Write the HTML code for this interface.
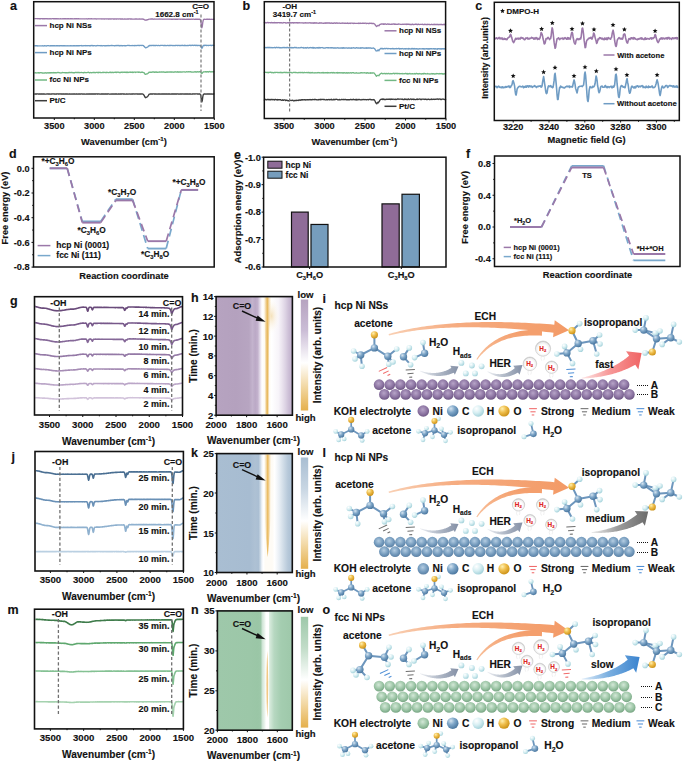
<!DOCTYPE html>
<html><head><meta charset="utf-8"><style>
html,body{margin:0;padding:0;background:#fff;}
svg{display:block;font-family:"Liberation Sans", sans-serif;}
</style></head><body>
<svg width="685" height="761" viewBox="0 0 685 761">
<defs><linearGradient id="hm_h" x1="0" y1="0" x2="1" y2="0"><stop offset="0.0000" stop-color="#b6a3c0"/><stop offset="0.2608" stop-color="#b4a1be"/><stop offset="0.4312" stop-color="#b7a5c1"/><stop offset="0.4771" stop-color="#c3b3cd"/><stop offset="0.5138" stop-color="#bba9c6"/><stop offset="0.5465" stop-color="#c3b2cd"/><stop offset="0.5754" stop-color="#e4dcea"/><stop offset="0.6016" stop-color="#ffffff"/><stop offset="0.6383" stop-color="#fefaf2"/><stop offset="0.6658" stop-color="#f0d49c"/><stop offset="0.6933" stop-color="#fefaf2"/><stop offset="0.7261" stop-color="#ffffff"/><stop offset="0.8178" stop-color="#f7f4f9"/><stop offset="0.8637" stop-color="#ebe4ef"/><stop offset="0.9096" stop-color="#dcd2e3"/><stop offset="0.9554" stop-color="#cbbdd5"/><stop offset="1.0000" stop-color="#c0afcb"/></linearGradient><linearGradient id="hm_hcb" x1="0" y1="0" x2="0" y2="1"><stop offset="0" stop-color="#b6a3c0"/><stop offset="0.28" stop-color="#cbbdd6"/><stop offset="0.57" stop-color="#ffffff"/><stop offset="0.75" stop-color="#f4deb2"/><stop offset="1" stop-color="#e5b04c"/></linearGradient><linearGradient id="hm_k" x1="0" y1="0" x2="1" y2="0"><stop offset="0.0000" stop-color="#a9bed2"/><stop offset="0.4405" stop-color="#a7bcd1"/><stop offset="0.5066" stop-color="#aec1d4"/><stop offset="0.5529" stop-color="#abbfd3"/><stop offset="0.5767" stop-color="#c9d7e4"/><stop offset="0.5992" stop-color="#f2f5f9"/><stop offset="0.6190" stop-color="#ffffff"/><stop offset="0.6415" stop-color="#fefbf5"/><stop offset="0.7341" stop-color="#fefbf5"/><stop offset="0.7659" stop-color="#ffffff"/><stop offset="0.8241" stop-color="#e9eff5"/><stop offset="0.8902" stop-color="#ccd9e5"/><stop offset="0.9431" stop-color="#b6c8d9"/><stop offset="1.0000" stop-color="#a9bed2"/></linearGradient><linearGradient id="hm_kcb" x1="0" y1="0" x2="0" y2="1"><stop offset="0" stop-color="#a9bed2"/><stop offset="0.28" stop-color="#c8d6e3"/><stop offset="0.57" stop-color="#ffffff"/><stop offset="0.75" stop-color="#f4deb2"/><stop offset="1" stop-color="#e5b04c"/></linearGradient><linearGradient id="hm_n" x1="0" y1="0" x2="1" y2="0"><stop offset="0.0000" stop-color="#9ec8aa"/><stop offset="0.4352" stop-color="#9cc7a8"/><stop offset="0.5421" stop-color="#9ac6a6"/><stop offset="0.5794" stop-color="#9dc8a9"/><stop offset="0.5995" stop-color="#cfe5d6"/><stop offset="0.6355" stop-color="#eef6f0"/><stop offset="0.6489" stop-color="#ffffff"/><stop offset="0.6822" stop-color="#ffffff"/><stop offset="0.6969" stop-color="#d8ebdd"/><stop offset="0.7557" stop-color="#b7d8c1"/><stop offset="0.8491" stop-color="#a4cdb0"/><stop offset="1.0000" stop-color="#9ec8aa"/></linearGradient><linearGradient id="hm_ncb" x1="0" y1="0" x2="0" y2="1"><stop offset="0" stop-color="#9ec8aa"/><stop offset="0.28" stop-color="#c1dcc8"/><stop offset="0.57" stop-color="#ffffff"/><stop offset="0.75" stop-color="#f4deb2"/><stop offset="1" stop-color="#e5b04c"/></linearGradient>
<radialGradient id="gC" cx="0.35" cy="0.3" r="0.75"><stop offset="0" stop-color="#d5e4f0"/><stop offset="0.45" stop-color="#7ea6c8"/><stop offset="1" stop-color="#46739c"/></radialGradient>
<radialGradient id="gH" cx="0.35" cy="0.3" r="0.75"><stop offset="0" stop-color="#ffffff"/><stop offset="0.5" stop-color="#d6eef2"/><stop offset="1" stop-color="#9fcfd8"/></radialGradient>
<radialGradient id="gO" cx="0.35" cy="0.3" r="0.75"><stop offset="0" stop-color="#fff0b0"/><stop offset="0.45" stop-color="#efbe4c"/><stop offset="1" stop-color="#c98e12"/></radialGradient>
<radialGradient id="gNiP" cx="0.45" cy="0.38" r="0.68"><stop offset="0" stop-color="#b7a4c8"/><stop offset="0.6" stop-color="#8a72a0"/><stop offset="1" stop-color="#654f7b"/></radialGradient>
<radialGradient id="gNiB" cx="0.45" cy="0.38" r="0.68"><stop offset="0" stop-color="#b4cde2"/><stop offset="0.6" stop-color="#7198bb"/><stop offset="1" stop-color="#557a9e"/></radialGradient>
<radialGradient id="gNiG" cx="0.45" cy="0.38" r="0.68"><stop offset="0" stop-color="#d3e8d7"/><stop offset="0.6" stop-color="#98c2a2"/><stop offset="1" stop-color="#6e9d7a"/></radialGradient>
<radialGradient id="gBub" cx="0.5" cy="0.55" r="0.5"><stop offset="0.6" stop-color="#ffffff" stop-opacity="0.95"/><stop offset="0.9" stop-color="#eeeeee"/><stop offset="1" stop-color="#cfcfcf"/></radialGradient>
<linearGradient id="gECH" x1="0" y1="0" x2="1" y2="0"><stop offset="0" stop-color="#f9d0b4"/><stop offset="0.35" stop-color="#f6ad82"/><stop offset="1" stop-color="#f39a66"/></linearGradient>
<linearGradient id="gECH2" x1="0" y1="1" x2="0.4" y2="0"><stop offset="0" stop-color="#f7b88e" stop-opacity="0.85"/><stop offset="1" stop-color="#f49f6d"/></linearGradient>
<linearGradient id="gGray" x1="0" y1="0" x2="1" y2="0"><stop offset="0" stop-color="#eef0f4"/><stop offset="0.45" stop-color="#b5bdca"/><stop offset="1" stop-color="#8490a6"/></linearGradient>
<linearGradient id="gFast" x1="0" y1="0" x2="1" y2="0"><stop offset="0" stop-color="#fde6e6"/><stop offset="0.45" stop-color="#f79a9a"/><stop offset="1" stop-color="#f06464"/></linearGradient>
<linearGradient id="gMed" x1="0" y1="0" x2="1" y2="0"><stop offset="0" stop-color="#ececec"/><stop offset="0.45" stop-color="#9d9d9d"/><stop offset="1" stop-color="#6b6b6b"/></linearGradient>
<linearGradient id="gSlow" x1="0" y1="0" x2="1" y2="0"><stop offset="0" stop-color="#e2eef9"/><stop offset="0.45" stop-color="#7cb0e0"/><stop offset="1" stop-color="#3b84cf"/></linearGradient>
</defs>
<rect x="0" y="0" width="685" height="761" fill="#fff"/>
<text x="10.00" y="10.20" font-size="12.5" text-anchor="start" font-weight="bold" fill="#111" stroke="#111" stroke-width="0.14">a</text>
<polyline points="34.30,18.59 34.78,18.67 35.26,18.63 35.74,18.69 36.22,18.69 36.70,18.56 37.18,18.55 37.66,18.75 38.14,18.61 38.62,18.61 39.10,18.79 39.58,18.67 40.06,18.76 40.54,18.67 41.02,18.71 41.50,18.60 41.98,18.72 42.46,18.77 42.94,18.69 43.42,18.75 43.90,18.73 44.38,18.59 44.86,18.76 45.34,18.72 45.82,18.65 46.30,18.59 46.78,18.79 47.26,18.70 47.74,18.76 48.22,18.80 48.70,18.76 49.18,18.81 49.66,18.69 50.14,18.79 50.62,18.70 51.10,18.82 51.58,18.81 52.06,18.62 52.54,18.64 53.02,18.66 53.50,18.84 53.98,18.71 54.46,18.76 54.94,18.68 55.42,18.74 55.90,18.71 56.38,18.70 56.86,18.76 57.34,18.76 57.82,18.84 58.30,18.79 58.78,18.85 59.26,18.83 59.74,18.87 60.22,18.79 60.70,18.67 61.18,18.84 61.66,18.87 62.14,18.86 62.62,18.78 63.10,18.81 63.58,18.70 64.06,18.85 64.54,18.79 65.02,18.72 65.50,18.67 65.98,18.86 66.46,18.89 66.94,18.68 67.42,18.85 67.90,18.76 68.38,18.70 68.86,18.74 69.34,18.85 69.82,18.88 70.30,18.68 70.78,18.82 71.26,18.68 71.74,18.85 72.22,18.76 72.70,18.89 73.18,18.92 73.66,18.80 74.14,18.92 74.62,18.76 75.10,18.71 75.58,18.83 76.06,18.70 76.54,18.74 77.02,18.79 77.50,18.84 77.98,18.74 78.46,18.71 78.94,18.91 79.42,18.78 79.90,18.94 80.38,18.92 80.86,18.80 81.34,18.82 81.82,18.84 82.30,18.87 82.78,18.86 83.26,18.85 83.74,18.87 84.22,18.95 84.70,18.85 85.18,18.83 85.66,18.90 86.14,18.79 86.62,18.80 87.10,18.97 87.58,18.86 88.06,18.87 88.54,18.74 89.02,18.84 89.50,18.88 89.98,18.75 90.46,18.89 90.94,18.90 91.42,18.76 91.90,18.90 92.38,18.86 92.86,18.92 93.34,18.84 93.82,18.93 94.30,18.94 94.78,18.77 95.26,18.78 95.74,18.93 96.22,19.00 96.70,18.83 97.18,18.88 97.66,18.91 98.14,18.85 98.62,18.86 99.10,18.85 99.58,18.87 100.06,18.92 100.54,18.86 101.02,18.88 101.50,18.97 101.98,18.80 102.46,18.93 102.94,18.97 103.42,18.87 103.90,18.85 104.38,18.99 104.86,18.86 105.34,18.85 105.82,18.91 106.30,18.97 106.78,18.83 107.26,18.89 107.74,18.89 108.22,19.01 108.70,18.92 109.18,19.02 109.66,18.86 110.14,18.90 110.62,18.98 111.10,19.04 111.58,18.93 112.06,18.88 112.54,18.86 113.02,18.96 113.50,18.88 113.98,19.03 114.46,19.04 114.94,18.88 115.42,18.91 115.90,19.03 116.38,19.00 116.86,19.04 117.34,18.93 117.82,18.88 118.30,18.92 118.78,19.04 119.26,18.92 119.74,18.94 120.22,18.96 120.70,18.96 121.18,18.96 121.66,19.08 122.14,18.90 122.62,18.87 123.10,19.09 123.58,19.08 124.06,19.11 124.54,18.98 125.02,19.10 125.50,19.10 125.98,18.93 126.46,19.06 126.94,19.08 127.42,19.04 127.90,19.01 128.38,18.96 128.86,18.97 129.34,18.95 129.82,18.91 130.30,19.04 130.78,18.97 131.26,19.09 131.74,18.91 132.22,19.12 132.70,19.07 133.18,19.13 133.66,19.12 134.14,19.13 134.62,19.05 135.10,18.92 135.58,19.09 136.06,18.96 136.54,18.99 137.02,19.08 137.50,19.05 137.98,19.02 138.46,19.15 138.94,19.07 139.42,19.01 139.90,18.99 140.38,19.14 140.86,19.05 141.34,19.12 141.82,19.02 142.30,18.99 142.78,19.10 143.26,19.23 143.74,19.21 144.22,19.59 144.70,19.91 145.18,20.11 145.66,20.20 146.14,19.94 146.62,20.00 147.10,19.99 147.58,19.69 148.06,19.55 148.54,19.32 149.02,19.21 149.50,19.11 149.98,19.09 150.46,19.16 150.94,18.97 151.42,18.99 151.90,19.01 152.38,19.01 152.86,19.00 153.34,19.22 153.82,19.19 154.30,19.01 154.78,19.11 155.26,19.06 155.74,19.07 156.22,19.08 156.70,19.15 157.18,19.14 157.66,19.08 158.14,19.05 158.62,19.08 159.10,19.03 159.58,19.14 160.06,19.18 160.54,19.10 161.02,19.03 161.50,19.05 161.98,19.10 162.46,19.16 162.94,19.21 163.42,19.11 163.90,19.21 164.38,19.17 164.86,19.13 165.34,19.12 165.82,19.15 166.30,19.20 166.78,19.13 167.26,19.20 167.74,19.15 168.22,19.10 168.70,19.17 169.18,19.21 169.66,19.06 170.14,19.15 170.62,19.15 171.10,19.26 171.58,19.27 172.06,19.14 172.54,19.27 173.02,19.25 173.50,19.12 173.98,19.17 174.46,19.09 174.94,19.26 175.42,19.22 175.90,19.28 176.38,19.26 176.86,19.23 177.34,19.25 177.82,19.21 178.30,19.10 178.78,19.22 179.26,19.08 179.74,19.11 180.22,19.27 180.70,19.09 181.18,19.11 181.66,19.11 182.14,19.30 182.62,19.13 183.10,19.10 183.58,19.30 184.06,19.13 184.54,19.30 185.02,19.26 185.50,19.30 185.98,19.33 186.46,19.24 186.94,19.30 187.42,19.12 187.90,19.30 188.38,19.24 188.86,19.29 189.34,19.14 189.82,19.30 190.30,19.34 190.78,19.14 191.26,19.20 191.74,19.26 192.22,19.33 192.70,19.19 193.18,19.17 193.66,19.19 194.14,19.28 194.62,19.32 195.10,19.23 195.58,19.23 196.06,19.24 196.54,19.23 197.02,19.25 197.50,19.17 197.98,19.27 198.46,19.38 198.94,19.25 199.42,19.34 199.90,19.24 200.38,19.75 200.86,21.44 201.34,24.99 201.82,27.72 202.30,26.19 202.78,22.45 203.26,20.16 203.74,19.31 204.22,19.20 204.70,19.35 205.18,19.40 205.66,19.30 206.14,19.29 206.62,19.35 207.10,19.23 207.58,19.25 208.06,19.23 208.54,19.33 209.02,19.27 209.50,19.25 209.98,19.36 210.46,19.42 210.94,19.27 211.42,19.37 211.90,19.30 212.38,19.41 212.86,19.34 213.34,19.27 213.82,19.26 214.30,19.22" fill="none" stroke="#9b78a9" stroke-width="1.35" stroke-linejoin="round"/>
<polyline points="34.30,45.82 34.78,45.78 35.26,45.70 35.74,45.77 36.22,45.75 36.70,45.93 37.18,45.68 37.66,46.02 38.14,45.81 38.62,45.86 39.10,45.81 39.58,45.95 40.06,45.94 40.54,45.84 41.02,45.81 41.50,45.90 41.98,45.95 42.46,45.77 42.94,45.90 43.42,45.99 43.90,45.79 44.38,45.70 44.86,45.70 45.34,45.89 45.82,45.87 46.30,45.98 46.78,45.94 47.26,45.69 47.74,45.67 48.22,45.70 48.70,45.67 49.18,45.87 49.66,45.94 50.14,45.95 50.62,45.69 51.10,45.93 51.58,45.71 52.06,45.75 52.54,45.88 53.02,45.62 53.50,45.62 53.98,45.91 54.46,45.70 54.94,45.72 55.42,45.81 55.90,45.85 56.38,45.58 56.86,45.71 57.34,45.75 57.82,45.77 58.30,45.65 58.78,45.80 59.26,45.95 59.74,45.72 60.22,45.78 60.70,45.61 61.18,45.67 61.66,45.83 62.14,45.61 62.62,45.91 63.10,45.92 63.58,45.60 64.06,45.93 64.54,45.70 65.02,45.86 65.50,45.85 65.98,45.67 66.46,45.82 66.94,45.81 67.42,45.87 67.90,45.65 68.38,45.85 68.86,45.93 69.34,45.81 69.82,45.76 70.30,45.59 70.78,45.74 71.26,45.68 71.74,45.82 72.22,45.81 72.70,45.76 73.18,45.61 73.66,45.79 74.14,45.78 74.62,45.60 75.10,45.88 75.58,45.79 76.06,45.57 76.54,45.90 77.02,45.58 77.50,45.65 77.98,45.81 78.46,45.76 78.94,45.74 79.42,45.78 79.90,45.70 80.38,45.64 80.86,45.58 81.34,45.54 81.82,45.80 82.30,45.81 82.78,45.73 83.26,45.80 83.74,45.65 84.22,45.61 84.70,45.66 85.18,45.85 85.66,45.52 86.14,45.70 86.62,45.60 87.10,45.81 87.58,45.64 88.06,45.63 88.54,45.66 89.02,45.71 89.50,45.80 89.98,45.63 90.46,45.83 90.94,45.53 91.42,45.60 91.90,45.53 92.38,45.53 92.86,45.80 93.34,45.77 93.82,45.56 94.30,45.56 94.78,45.65 95.26,45.77 95.74,45.80 96.22,45.77 96.70,45.71 97.18,45.53 97.66,45.63 98.14,45.55 98.62,45.68 99.10,45.70 99.58,45.55 100.06,45.57 100.54,45.78 101.02,45.48 101.50,45.78 101.98,45.82 102.46,45.84 102.94,45.61 103.42,45.68 103.90,45.69 104.38,45.71 104.86,45.84 105.34,45.73 105.82,45.57 106.30,45.79 106.78,45.64 107.26,45.69 107.74,45.74 108.22,45.45 108.70,45.75 109.18,45.71 109.66,45.64 110.14,45.65 110.62,45.62 111.10,45.52 111.58,45.65 112.06,45.45 112.54,45.63 113.02,45.69 113.50,45.61 113.98,45.66 114.46,45.81 114.94,45.79 115.42,45.48 115.90,45.74 116.38,45.67 116.86,45.44 117.34,45.57 117.82,45.51 118.30,45.45 118.78,45.63 119.26,45.79 119.74,45.55 120.22,45.76 120.70,45.69 121.18,45.47 121.66,45.75 122.14,45.65 122.62,45.78 123.10,45.69 123.58,45.70 124.06,45.54 124.54,45.73 125.02,45.78 125.50,45.75 125.98,45.58 126.46,45.70 126.94,45.59 127.42,45.44 127.90,45.41 128.38,45.43 128.86,45.47 129.34,45.46 129.82,45.59 130.30,45.67 130.78,45.60 131.26,45.56 131.74,45.65 132.22,45.51 132.70,45.57 133.18,45.69 133.66,45.54 134.14,45.45 134.62,45.74 135.10,45.67 135.58,45.52 136.06,45.52 136.54,45.59 137.02,45.61 137.50,45.46 137.98,45.37 138.46,45.45 138.94,45.68 139.42,45.42 139.90,45.55 140.38,45.44 140.86,45.45 141.34,45.43 141.82,45.53 142.30,45.44 142.78,45.43 143.26,45.60 143.74,45.92 144.22,46.55 144.70,47.00 145.18,47.49 145.66,47.83 146.14,47.68 146.62,47.60 147.10,47.19 147.58,47.10 148.06,46.66 148.54,46.00 149.02,46.00 149.50,45.51 149.98,45.40 150.46,45.53 150.94,45.40 151.42,45.59 151.90,45.47 152.38,45.38 152.86,45.35 153.34,45.62 153.82,45.44 154.30,45.65 154.78,45.51 155.26,45.70 155.74,45.45 156.22,45.43 156.70,45.43 157.18,45.65 157.66,45.57 158.14,45.46 158.62,45.36 159.10,45.59 159.58,45.70 160.06,45.55 160.54,45.32 161.02,45.33 161.50,45.35 161.98,45.38 162.46,45.32 162.94,45.33 163.42,45.57 163.90,45.67 164.38,45.39 164.86,45.69 165.34,45.49 165.82,45.62 166.30,45.67 166.78,45.67 167.26,45.31 167.74,45.42 168.22,45.54 168.70,45.67 169.18,45.33 169.66,45.41 170.14,45.63 170.62,45.34 171.10,45.44 171.58,45.42 172.06,45.56 172.54,45.66 173.02,45.35 173.50,45.58 173.98,45.57 174.46,45.61 174.94,45.50 175.42,45.65 175.90,45.42 176.38,45.44 176.86,45.37 177.34,45.58 177.82,45.46 178.30,45.38 178.78,45.34 179.26,45.56 179.74,45.51 180.22,45.55 180.70,45.42 181.18,45.46 181.66,45.32 182.14,45.54 182.62,45.27 183.10,45.44 183.58,45.56 184.06,45.53 184.54,45.29 185.02,45.35 185.50,45.59 185.98,45.51 186.46,45.60 186.94,45.60 187.42,45.43 187.90,45.60 188.38,45.54 188.86,45.38 189.34,45.39 189.82,45.27 190.30,45.40 190.78,45.62 191.26,45.28 191.74,45.46 192.22,45.28 192.70,45.27 193.18,45.49 193.66,45.33 194.14,45.25 194.62,45.29 195.10,45.49 195.58,45.46 196.06,45.23 196.54,45.32 197.02,45.61 197.50,45.31 197.98,45.45 198.46,45.39 198.94,45.53 199.42,45.46 199.90,45.55 200.38,45.58 200.86,46.03 201.34,47.28 201.82,48.22 202.30,47.98 202.78,46.36 203.26,45.49 203.74,45.63 204.22,45.29 204.70,45.56 205.18,45.24 205.66,45.39 206.14,45.29 206.62,45.53 207.10,45.44 207.58,45.45 208.06,45.50 208.54,45.54 209.02,45.33 209.50,45.43 209.98,45.37 210.46,45.23 210.94,45.52 211.42,45.42 211.90,45.51 212.38,45.27 212.86,45.40 213.34,45.37 213.82,45.47 214.30,45.21" fill="none" stroke="#6f9cc4" stroke-width="1.35" stroke-linejoin="round"/>
<polyline points="34.30,72.80 34.78,72.86 35.26,72.65 35.74,72.89 36.22,72.98 36.70,72.82 37.18,72.93 37.66,72.91 38.14,72.71 38.62,72.77 39.10,73.09 39.58,72.76 40.06,72.80 40.54,72.63 41.02,72.69 41.50,72.66 41.98,73.04 42.46,72.94 42.94,73.01 43.42,73.06 43.90,72.87 44.38,73.03 44.86,72.83 45.34,72.77 45.82,73.03 46.30,73.00 46.78,73.02 47.26,72.79 47.74,72.93 48.22,72.74 48.70,73.03 49.18,72.99 49.66,72.68 50.14,72.99 50.62,72.62 51.10,72.57 51.58,72.88 52.06,72.66 52.54,72.77 53.02,72.83 53.50,72.53 53.98,72.87 54.46,72.64 54.94,72.71 55.42,72.67 55.90,72.86 56.38,72.86 56.86,72.63 57.34,72.53 57.82,72.63 58.30,72.68 58.78,72.51 59.26,72.55 59.74,72.85 60.22,72.81 60.70,72.95 61.18,72.95 61.66,72.89 62.14,72.64 62.62,72.53 63.10,72.60 63.58,72.67 64.06,72.70 64.54,72.71 65.02,72.61 65.50,72.86 65.98,72.57 66.46,72.66 66.94,72.86 67.42,72.82 67.90,72.56 68.38,72.53 68.86,72.81 69.34,72.41 69.82,72.47 70.30,72.67 70.78,72.66 71.26,72.48 71.74,72.42 72.22,72.49 72.70,72.77 73.18,72.61 73.66,72.87 74.14,72.77 74.62,72.86 75.10,72.39 75.58,72.46 76.06,72.37 76.54,72.58 77.02,72.53 77.50,72.38 77.98,72.63 78.46,72.40 78.94,72.50 79.42,72.47 79.90,72.74 80.38,72.55 80.86,72.46 81.34,72.35 81.82,72.54 82.30,72.64 82.78,72.66 83.26,72.78 83.74,72.72 84.22,72.44 84.70,72.38 85.18,72.69 85.66,72.70 86.14,72.56 86.62,72.71 87.10,72.57 87.58,72.43 88.06,72.37 88.54,72.29 89.02,72.60 89.50,72.73 89.98,72.73 90.46,72.51 90.94,72.60 91.42,72.73 91.90,72.67 92.38,72.56 92.86,72.47 93.34,72.52 93.82,72.34 94.30,72.34 94.78,72.59 95.26,72.74 95.74,72.51 96.22,72.44 96.70,72.41 97.18,72.46 97.66,72.63 98.14,72.45 98.62,72.70 99.10,72.30 99.58,72.37 100.06,72.47 100.54,72.42 101.02,72.63 101.50,72.62 101.98,72.67 102.46,72.51 102.94,72.21 103.42,72.48 103.90,72.46 104.38,72.43 104.86,72.32 105.34,72.54 105.82,72.63 106.30,72.23 106.78,72.51 107.26,72.35 107.74,72.42 108.22,72.61 108.70,72.64 109.18,72.48 109.66,72.25 110.14,72.61 110.62,72.24 111.10,72.34 111.58,72.56 112.06,72.30 112.54,72.27 113.02,72.61 113.50,72.60 113.98,72.29 114.46,72.32 114.94,72.26 115.42,72.18 115.90,72.24 116.38,72.60 116.86,72.15 117.34,72.22 117.82,72.20 118.30,72.14 118.78,72.36 119.26,72.47 119.74,72.51 120.22,72.40 120.70,72.49 121.18,72.08 121.66,72.22 122.14,72.56 122.62,72.11 123.10,72.20 123.58,72.31 124.06,72.20 124.54,72.33 125.02,72.08 125.50,72.17 125.98,72.53 126.46,72.12 126.94,72.50 127.42,72.13 127.90,72.54 128.38,72.37 128.86,72.36 129.34,72.10 129.82,72.06 130.30,72.40 130.78,72.11 131.26,72.11 131.74,72.43 132.22,72.45 132.70,72.03 133.18,72.49 133.66,72.27 134.14,72.19 134.62,72.05 135.10,72.19 135.58,72.49 136.06,72.13 136.54,72.05 137.02,72.06 137.50,72.04 137.98,72.15 138.46,72.43 138.94,72.01 139.42,72.06 139.90,72.43 140.38,72.46 140.86,72.45 141.34,72.08 141.82,72.13 142.30,72.44 142.78,72.25 143.26,72.47 143.74,72.55 144.22,72.86 144.70,73.58 145.18,74.24 145.66,74.41 146.14,74.18 146.62,73.95 147.10,73.84 147.58,73.58 148.06,73.23 148.54,72.92 149.02,72.25 149.50,72.28 149.98,72.39 150.46,72.33 150.94,71.99 151.42,72.37 151.90,72.31 152.38,71.97 152.86,72.02 153.34,71.98 153.82,71.90 154.30,72.36 154.78,72.08 155.26,72.31 155.74,71.92 156.22,71.87 156.70,72.29 157.18,72.25 157.66,72.35 158.14,72.19 158.62,72.11 159.10,72.23 159.58,71.89 160.06,72.11 160.54,72.06 161.02,71.91 161.50,72.13 161.98,71.99 162.46,72.08 162.94,72.01 163.42,71.98 163.90,71.99 164.38,72.11 164.86,72.30 165.34,72.27 165.82,72.23 166.30,72.22 166.78,71.94 167.26,72.28 167.74,71.93 168.22,71.85 168.70,72.04 169.18,72.15 169.66,71.95 170.14,72.10 170.62,71.91 171.10,72.25 171.58,71.99 172.06,72.00 172.54,72.03 173.02,72.20 173.50,72.25 173.98,72.02 174.46,71.97 174.94,72.05 175.42,71.78 175.90,71.95 176.38,72.16 176.86,72.12 177.34,71.76 177.82,72.16 178.30,71.92 178.78,72.21 179.26,71.90 179.74,71.82 180.22,71.99 180.70,72.15 181.18,71.92 181.66,72.14 182.14,72.06 182.62,71.88 183.10,71.85 183.58,71.94 184.06,71.89 184.54,71.87 185.02,72.01 185.50,72.12 185.98,71.97 186.46,71.75 186.94,71.78 187.42,71.85 187.90,71.97 188.38,71.73 188.86,71.70 189.34,71.82 189.82,71.79 190.30,71.66 190.78,71.92 191.26,72.10 191.74,71.91 192.22,72.01 192.70,72.05 193.18,72.05 193.66,72.09 194.14,71.85 194.62,71.96 195.10,71.68 195.58,72.06 196.06,71.80 196.54,71.85 197.02,72.05 197.50,71.75 197.98,71.70 198.46,72.01 198.94,71.90 199.42,71.64 199.90,71.61 200.38,71.85 200.86,72.03 201.34,73.20 201.82,73.46 202.30,73.18 202.78,72.43 203.26,71.99 203.74,71.80 204.22,71.88 204.70,71.89 205.18,71.78 205.66,71.60 206.14,72.04 206.62,71.89 207.10,71.59 207.58,71.76 208.06,71.92 208.54,72.03 209.02,71.57 209.50,71.53 209.98,71.77 210.46,71.74 210.94,71.97 211.42,71.93 211.90,71.68 212.38,71.72 212.86,71.80 213.34,71.95 213.82,71.60 214.30,71.70" fill="none" stroke="#72b884" stroke-width="1.35" stroke-linejoin="round"/>
<polyline points="34.30,93.92 34.78,94.03 35.26,93.91 35.74,94.09 36.22,94.00 36.70,94.01 37.18,93.92 37.66,93.95 38.14,93.99 38.62,94.07 39.10,94.01 39.58,93.96 40.06,94.10 40.54,94.03 41.02,94.01 41.50,93.94 41.98,93.96 42.46,94.08 42.94,93.93 43.42,94.01 43.90,94.02 44.38,93.97 44.86,94.05 45.34,94.08 45.82,94.07 46.30,94.05 46.78,93.94 47.26,93.91 47.74,93.99 48.22,93.96 48.70,93.94 49.18,94.07 49.66,93.94 50.14,94.06 50.62,94.09 51.10,93.92 51.58,94.08 52.06,93.98 52.54,93.94 53.02,93.94 53.50,93.91 53.98,94.00 54.46,93.98 54.94,94.07 55.42,94.07 55.90,93.91 56.38,93.98 56.86,93.98 57.34,93.94 57.82,93.95 58.30,93.95 58.78,94.04 59.26,93.97 59.74,93.92 60.22,93.94 60.70,93.99 61.18,94.01 61.66,93.95 62.14,94.04 62.62,93.94 63.10,94.03 63.58,94.02 64.06,93.94 64.54,94.05 65.02,93.98 65.50,94.01 65.98,94.02 66.46,94.03 66.94,93.99 67.42,93.91 67.90,94.06 68.38,94.07 68.86,94.00 69.34,94.02 69.82,93.95 70.30,94.08 70.78,94.04 71.26,93.94 71.74,94.06 72.22,94.10 72.70,93.97 73.18,94.10 73.66,94.00 74.14,93.94 74.62,94.04 75.10,93.97 75.58,94.05 76.06,94.02 76.54,93.92 77.02,94.01 77.50,94.07 77.98,94.00 78.46,94.01 78.94,94.07 79.42,93.99 79.90,94.00 80.38,94.02 80.86,94.06 81.34,93.94 81.82,93.92 82.30,94.05 82.78,94.01 83.26,93.96 83.74,94.08 84.22,94.08 84.70,94.01 85.18,94.10 85.66,94.07 86.14,94.05 86.62,93.96 87.10,93.90 87.58,94.04 88.06,94.05 88.54,93.97 89.02,94.00 89.50,94.01 89.98,93.95 90.46,94.04 90.94,94.01 91.42,93.98 91.90,93.92 92.38,94.01 92.86,93.96 93.34,94.04 93.82,93.93 94.30,93.98 94.78,93.94 95.26,93.98 95.74,94.02 96.22,93.92 96.70,93.91 97.18,94.00 97.66,93.94 98.14,94.00 98.62,93.93 99.10,93.92 99.58,94.01 100.06,94.08 100.54,94.07 101.02,94.00 101.50,93.98 101.98,93.91 102.46,93.96 102.94,93.96 103.42,94.09 103.90,93.92 104.38,94.09 104.86,94.00 105.34,93.99 105.82,93.95 106.30,94.09 106.78,93.94 107.26,94.01 107.74,94.00 108.22,93.94 108.70,93.94 109.18,94.10 109.66,94.06 110.14,94.05 110.62,94.08 111.10,93.92 111.58,94.04 112.06,94.05 112.54,93.95 113.02,93.99 113.50,94.09 113.98,93.97 114.46,94.05 114.94,93.93 115.42,94.03 115.90,93.95 116.38,94.00 116.86,93.97 117.34,94.07 117.82,94.05 118.30,94.00 118.78,94.04 119.26,93.99 119.74,94.06 120.22,93.95 120.70,94.01 121.18,94.02 121.66,93.98 122.14,93.91 122.62,93.93 123.10,94.03 123.58,93.94 124.06,94.05 124.54,94.00 125.02,94.09 125.50,94.07 125.98,94.05 126.46,93.97 126.94,93.91 127.42,94.01 127.90,94.05 128.38,94.08 128.86,93.94 129.34,93.93 129.82,94.10 130.30,94.05 130.78,94.00 131.26,94.05 131.74,93.93 132.22,94.01 132.70,94.03 133.18,94.02 133.66,93.93 134.14,93.93 134.62,94.02 135.10,94.08 135.58,93.93 136.06,93.90 136.54,93.92 137.02,94.06 137.50,93.98 137.98,93.99 138.46,94.10 138.94,94.02 139.42,93.95 139.90,94.04 140.38,93.90 140.86,93.96 141.34,94.04 141.82,93.94 142.30,93.93 142.78,94.10 143.26,94.28 143.74,94.88 144.22,95.51 144.70,96.64 145.18,97.36 145.66,97.72 146.14,97.44 146.62,97.17 147.10,96.86 147.58,96.47 148.06,95.83 148.54,95.09 149.02,94.40 149.50,94.08 149.98,94.01 150.46,93.92 150.94,93.96 151.42,94.01 151.90,94.01 152.38,94.02 152.86,93.96 153.34,93.90 153.82,93.91 154.30,93.97 154.78,93.94 155.26,94.01 155.74,93.95 156.22,94.05 156.70,94.02 157.18,94.03 157.66,94.05 158.14,94.00 158.62,93.99 159.10,93.96 159.58,93.91 160.06,94.06 160.54,94.00 161.02,93.92 161.50,94.09 161.98,94.02 162.46,94.02 162.94,93.99 163.42,93.93 163.90,94.10 164.38,93.93 164.86,93.97 165.34,94.10 165.82,93.92 166.30,94.00 166.78,94.00 167.26,93.95 167.74,94.08 168.22,93.98 168.70,93.90 169.18,93.99 169.66,93.90 170.14,94.04 170.62,94.07 171.10,94.08 171.58,93.91 172.06,94.04 172.54,93.96 173.02,93.99 173.50,93.96 173.98,93.96 174.46,93.93 174.94,94.03 175.42,93.92 175.90,94.09 176.38,93.91 176.86,94.09 177.34,93.94 177.82,93.92 178.30,94.05 178.78,94.01 179.26,94.05 179.74,94.00 180.22,94.03 180.70,93.92 181.18,94.03 181.66,94.00 182.14,94.09 182.62,93.90 183.10,93.91 183.58,94.04 184.06,94.09 184.54,93.98 185.02,94.04 185.50,94.01 185.98,93.98 186.46,93.99 186.94,94.02 187.42,93.91 187.90,93.96 188.38,94.05 188.86,93.95 189.34,93.99 189.82,93.95 190.30,93.97 190.78,94.03 191.26,94.05 191.74,94.09 192.22,94.00 192.70,93.94 193.18,93.97 193.66,93.91 194.14,93.95 194.62,94.02 195.10,94.02 195.58,93.95 196.06,93.94 196.54,93.92 197.02,93.94 197.50,94.00 197.98,93.95 198.46,94.08 198.94,94.01 199.42,93.97 199.90,94.03 200.38,94.31 200.86,96.03 201.34,99.39 201.82,101.91 202.30,100.55 202.78,96.90 203.26,94.68 203.74,94.05 204.22,93.95 204.70,94.02 205.18,94.03 205.66,94.05 206.14,93.92 206.62,94.05 207.10,94.00 207.58,93.98 208.06,94.00 208.54,93.99 209.02,93.94 209.50,93.98 209.98,94.03 210.46,94.04 210.94,94.08 211.42,93.94 211.90,94.08 212.38,94.06 212.86,94.04 213.34,94.10 213.82,93.93 214.30,94.06" fill="none" stroke="#3c3c3c" stroke-width="1.35" stroke-linejoin="round"/>
<line x1="201.00" y1="14.50" x2="201.00" y2="111.00" stroke="#777" stroke-width="1.2" stroke-dasharray="3,2"/>
<rect x="33.70" y="1.70" width="180.30" height="116.30" fill="none" stroke="#111" stroke-width="1.5"/>
<text x="200.60" y="8.70" font-size="8.1" text-anchor="middle" font-weight="bold" fill="#111" stroke="#111" stroke-width="0.14">C=O</text>
<text x="155.20" y="16.60" font-size="8.05" text-anchor="start" font-weight="bold" fill="#111" stroke="#111" stroke-width="0.14">1662.8 cm<tspan font-size="5.4" dy="-3">-1</tspan></text>
<line x1="35.00" y1="25.60" x2="47.00" y2="25.60" stroke="#9b78a9" stroke-width="1.5"/>
<text x="49.50" y="27.90" font-size="8.0" text-anchor="start" font-weight="bold" fill="#111" stroke="#111" stroke-width="0.14">hcp Ni NSs</text>
<line x1="35.00" y1="52.60" x2="47.00" y2="52.60" stroke="#6f9cc4" stroke-width="1.5"/>
<text x="49.50" y="54.90" font-size="8.0" text-anchor="start" font-weight="bold" fill="#111" stroke="#111" stroke-width="0.14">hcp Ni NPs</text>
<line x1="35.00" y1="80.00" x2="47.00" y2="80.00" stroke="#72b884" stroke-width="1.5"/>
<text x="49.50" y="82.30" font-size="8.0" text-anchor="start" font-weight="bold" fill="#111" stroke="#111" stroke-width="0.14">fcc Ni NPs</text>
<line x1="35.00" y1="100.70" x2="47.00" y2="100.70" stroke="#3c3c3c" stroke-width="1.5"/>
<text x="49.50" y="103.00" font-size="8.0" text-anchor="start" font-weight="bold" fill="#111" stroke="#111" stroke-width="0.14">Pt/C</text>
<line x1="54.30" y1="118.00" x2="54.30" y2="120.00" stroke="#111" stroke-width="1.0"/>
<text x="54.30" y="129.00" font-size="9.2" text-anchor="middle" font-weight="bold" fill="#111" stroke="#111" stroke-width="0.14">3500</text>
<line x1="94.30" y1="118.00" x2="94.30" y2="120.00" stroke="#111" stroke-width="1.0"/>
<text x="94.30" y="129.00" font-size="9.2" text-anchor="middle" font-weight="bold" fill="#111" stroke="#111" stroke-width="0.14">3000</text>
<line x1="134.30" y1="118.00" x2="134.30" y2="120.00" stroke="#111" stroke-width="1.0"/>
<text x="134.30" y="129.00" font-size="9.2" text-anchor="middle" font-weight="bold" fill="#111" stroke="#111" stroke-width="0.14">2500</text>
<line x1="174.30" y1="118.00" x2="174.30" y2="120.00" stroke="#111" stroke-width="1.0"/>
<text x="174.30" y="129.00" font-size="9.2" text-anchor="middle" font-weight="bold" fill="#111" stroke="#111" stroke-width="0.14">2000</text>
<line x1="214.30" y1="118.00" x2="214.30" y2="120.00" stroke="#111" stroke-width="1.0"/>
<text x="214.30" y="129.00" font-size="9.2" text-anchor="middle" font-weight="bold" fill="#111" stroke="#111" stroke-width="0.14">1500</text>
<line x1="74.30" y1="118.00" x2="74.30" y2="119.30" stroke="#111" stroke-width="1.0"/>
<line x1="114.30" y1="118.00" x2="114.30" y2="119.30" stroke="#111" stroke-width="1.0"/>
<line x1="154.30" y1="118.00" x2="154.30" y2="119.30" stroke="#111" stroke-width="1.0"/>
<line x1="194.30" y1="118.00" x2="194.30" y2="119.30" stroke="#111" stroke-width="1.0"/>
<text x="124.00" y="145.00" font-size="9.3" text-anchor="middle" font-weight="bold" fill="#111" stroke="#111" stroke-width="0.14">Wavenumber (cm<tspan font-size="6.2" dy="-3.6">-1</tspan><tspan dy="3.6">)</tspan></text>
<text x="242.50" y="10.20" font-size="12.5" text-anchor="start" font-weight="bold" fill="#111" stroke="#111" stroke-width="0.14">b</text>
<polyline points="264.30,22.81 264.30,22.42 264.72,22.66 265.21,22.84 265.69,22.52 266.18,22.81 266.67,22.83 267.15,22.60 267.64,22.46 268.12,22.50 268.61,22.81 269.10,22.61 269.58,22.56 270.07,22.63 270.55,22.87 271.04,22.54 271.53,22.43 272.01,22.90 272.50,22.58 272.98,22.62 273.47,22.92 273.96,22.58 274.44,22.48 274.93,22.89 275.41,22.57 275.90,22.56 276.39,22.92 276.87,22.57 277.36,22.91 277.84,22.63 278.33,22.62 278.82,22.58 279.30,22.75 279.79,22.76 280.27,22.68 280.76,22.74 281.25,22.64 281.73,22.91 282.22,22.96 282.70,22.88 283.19,22.91 283.68,22.54 284.16,22.64 284.65,22.62 285.13,22.60 285.62,23.01 286.11,22.98 286.59,22.99 287.08,22.81 287.56,22.59 288.05,22.75 288.54,22.57 289.02,23.00 289.51,22.68 289.99,22.70 290.48,23.03 290.97,22.66 291.45,23.03 291.94,22.72 292.42,22.90 292.91,22.63 293.40,23.03 293.88,22.78 294.37,22.76 294.85,22.92 295.34,22.89 295.83,22.72 296.31,22.66 296.80,22.89 297.28,22.62 297.77,23.05 298.26,22.79 298.74,22.70 299.23,22.79 299.71,22.68 300.20,22.79 300.69,22.91 301.17,22.84 301.66,22.81 302.14,22.79 302.63,22.89 303.12,23.04 303.60,22.87 304.09,23.04 304.57,22.90 305.06,22.73 305.55,22.75 306.03,23.10 306.52,22.92 307.00,22.87 307.49,22.94 307.98,23.11 308.46,22.88 308.95,22.88 309.43,22.88 309.92,22.71 310.41,22.98 310.89,22.95 311.38,22.96 311.86,22.94 312.35,22.96 312.84,23.08 313.32,22.82 313.81,23.22 314.29,22.79 314.78,23.17 315.27,22.83 315.75,23.14 316.24,22.88 316.72,22.79 317.21,23.03 317.70,23.18 318.18,23.19 318.67,23.21 319.15,23.26 319.64,22.80 320.13,22.97 320.61,22.83 321.10,23.16 321.58,23.01 322.07,23.16 322.56,23.19 323.04,23.30 323.53,23.14 324.01,23.24 324.50,23.08 324.99,22.85 325.47,23.26 325.96,22.87 326.44,22.87 326.93,23.24 327.42,22.97 327.90,23.17 328.39,22.85 328.87,22.95 329.36,23.20 329.85,22.87 330.33,23.11 330.82,23.33 331.30,22.97 331.79,23.22 332.28,23.24 332.76,23.18 333.25,23.26 333.73,23.23 334.22,22.89 334.71,22.98 335.19,23.16 335.68,23.38 336.16,23.00 336.65,23.19 337.14,22.97 337.62,23.33 338.11,23.13 338.59,23.18 339.08,23.25 339.57,22.99 340.05,23.29 340.54,23.33 341.02,23.36 341.51,23.08 342.00,23.06 342.48,23.03 342.97,23.40 343.45,23.17 343.94,23.15 344.43,23.22 344.91,23.31 345.40,23.12 345.88,23.14 346.37,23.36 346.86,23.36 347.34,23.13 347.83,23.02 348.31,23.45 348.80,23.35 349.29,23.29 349.77,23.20 350.26,23.48 350.74,23.22 351.23,23.12 351.72,23.06 352.20,23.19 352.69,23.32 353.17,23.20 353.66,23.50 354.15,23.35 354.63,23.26 355.12,23.37 355.60,23.34 356.09,23.35 356.58,23.30 357.06,23.31 357.55,23.30 358.03,23.47 358.52,23.16 359.01,23.46 359.49,23.22 359.98,23.50 360.46,23.11 360.95,23.32 361.44,23.31 361.92,23.44 362.41,23.19 362.89,23.23 363.38,23.16 363.87,23.38 364.35,23.39 364.84,23.11 365.32,23.20 365.81,23.22 366.30,23.60 366.78,23.35 367.27,23.41 367.75,23.28 368.24,23.46 368.73,23.54 369.21,23.48 369.70,23.15 370.18,23.37 370.67,23.40 371.16,23.18 371.64,23.55 372.13,23.32 372.61,23.32 373.10,23.50 373.59,23.52 374.07,23.61 374.56,24.12 375.04,24.55 375.53,25.28 376.02,25.91 376.50,26.48 376.99,26.13 377.47,25.70 377.96,25.38 378.45,25.33 378.93,25.77 379.42,25.10 379.90,24.34 380.39,24.36 380.88,24.13 381.36,23.95 381.85,24.19 382.33,24.16 382.82,23.87 383.31,24.22 383.79,23.96 384.28,24.35 384.76,23.93 385.25,24.00 385.74,23.99 386.22,24.30 386.71,24.28 387.19,24.16 387.68,23.95 388.17,24.10 388.65,24.24 389.14,23.92 389.62,24.35 390.11,24.32 390.60,24.37 391.08,24.25 391.57,24.22 392.05,24.40 392.54,24.05 393.03,24.07 393.51,23.98 394.00,24.01 394.48,24.33 394.97,23.98 395.46,24.31 395.94,24.14 396.43,24.38 396.91,24.33 397.40,24.29 397.89,24.38 398.37,23.98 398.86,24.09 399.34,24.15 399.83,24.18 400.32,24.31 400.80,24.41 401.29,24.35 401.77,24.45 402.26,24.33 402.75,24.17 403.23,24.25 403.72,24.37 404.20,24.41 404.69,24.19 405.18,24.19 405.66,24.32 406.15,24.13 406.63,24.46 407.12,24.02 407.61,24.35 408.09,24.27 408.58,24.13 409.06,24.32 409.55,24.28 410.04,24.52 410.52,24.49 411.01,24.34 411.49,24.49 411.98,24.50 412.47,24.14 412.95,24.48 413.44,24.49 413.92,24.57 414.41,24.46 414.90,24.28 415.38,24.19 415.87,24.41 416.35,24.20 416.84,24.47 417.33,24.38 417.81,24.51 418.30,24.28 418.78,24.26 419.27,24.56 419.76,24.45 420.24,24.31 420.73,24.40 421.21,24.34 421.70,24.45 422.19,24.39 422.67,24.28 423.16,24.63 423.64,24.59 424.13,24.53 424.62,24.29 425.10,24.25 425.59,24.52 426.07,24.57 426.56,24.49 427.05,24.28 427.53,24.53 428.02,24.44 428.50,24.37 428.99,24.48 429.48,24.41 429.96,24.52 430.45,24.57 430.93,24.69 431.42,24.26 431.91,24.49 432.39,24.68 432.88,24.54 433.36,24.51 433.85,24.65 434.34,24.24 434.82,24.62 435.31,24.54 435.79,24.53 436.28,24.39 436.77,24.55 437.25,24.31 437.74,24.51 438.22,24.38 438.71,24.72 439.20,24.66 439.68,24.50 440.17,24.64 440.65,24.46 441.14,24.54 441.63,24.36 442.11,24.71 442.60,24.67 443.08,24.67 443.57,24.33 444.06,24.71 444.54,24.31 445.03,24.59 445.51,24.55 446.00,24.34" fill="none" stroke="#9b78a9" stroke-width="1.35" stroke-linejoin="round"/>
<polyline points="264.30,47.49 264.30,47.77 264.72,47.62 265.21,47.44 265.69,47.74 266.18,47.47 266.67,47.79 267.15,47.50 267.64,47.31 268.12,47.84 268.61,47.31 269.10,47.42 269.58,47.73 270.07,47.34 270.55,47.60 271.04,47.79 271.53,47.63 272.01,47.49 272.50,47.74 272.98,47.78 273.47,47.64 273.96,47.67 274.44,47.49 274.93,47.54 275.41,47.89 275.90,47.88 276.39,47.30 276.87,47.42 277.36,47.44 277.84,47.79 278.33,47.43 278.82,47.42 279.30,47.78 279.79,47.42 280.27,47.91 280.76,47.60 281.25,47.87 281.73,47.82 282.22,47.46 282.70,47.80 283.19,47.58 283.68,47.47 284.16,47.37 284.65,47.77 285.13,47.68 285.62,47.53 286.11,47.85 286.59,47.47 287.08,47.62 287.56,47.41 288.05,47.57 288.54,47.89 289.02,47.66 289.51,47.46 289.99,47.51 290.48,47.76 290.97,47.54 291.45,47.91 291.94,47.42 292.42,47.90 292.91,47.76 293.40,47.88 293.88,47.60 294.37,47.43 294.85,47.50 295.34,47.77 295.83,47.41 296.31,47.47 296.80,47.87 297.28,47.93 297.77,47.92 298.26,47.91 298.74,47.75 299.23,47.94 299.71,47.84 300.20,47.75 300.69,47.68 301.17,47.44 301.66,47.48 302.14,47.58 302.63,47.71 303.12,47.51 303.60,48.02 304.09,47.79 304.57,47.89 305.06,47.98 305.55,47.58 306.03,47.98 306.52,48.03 307.00,47.61 307.49,47.53 307.98,47.94 308.46,47.99 308.95,47.94 309.43,47.71 309.92,47.83 310.41,47.54 310.89,47.61 311.38,47.73 311.86,47.92 312.35,47.53 312.84,48.04 313.32,47.50 313.81,48.07 314.29,47.63 314.78,47.98 315.27,47.99 315.75,48.07 316.24,47.78 316.72,47.92 317.21,47.68 317.70,48.01 318.18,47.57 318.67,48.04 319.15,47.87 319.64,47.55 320.13,48.08 320.61,47.71 321.10,47.56 321.58,47.68 322.07,47.54 322.56,47.70 323.04,47.96 323.53,48.13 324.01,47.92 324.50,48.05 324.99,48.04 325.47,47.97 325.96,47.78 326.44,47.70 326.93,47.65 327.42,47.88 327.90,47.68 328.39,48.00 328.87,47.75 329.36,47.91 329.85,47.89 330.33,47.95 330.82,47.66 331.30,47.73 331.79,47.99 332.28,47.71 332.76,47.98 333.25,48.16 333.73,47.82 334.22,48.16 334.71,47.96 335.19,48.16 335.68,47.91 336.16,48.05 336.65,48.01 337.14,47.72 337.62,47.92 338.11,47.96 338.59,47.89 339.08,48.01 339.57,48.16 340.05,48.09 340.54,48.11 341.02,47.71 341.51,48.05 342.00,48.00 342.48,48.19 342.97,47.63 343.45,47.74 343.94,48.22 344.43,47.86 344.91,48.06 345.40,48.00 345.88,47.88 346.37,47.91 346.86,47.99 347.34,48.24 347.83,47.98 348.31,48.13 348.80,47.84 349.29,48.09 349.77,48.03 350.26,48.11 350.74,48.20 351.23,47.72 351.72,48.25 352.20,48.04 352.69,47.84 353.17,47.96 353.66,47.74 354.15,47.83 354.63,48.19 355.12,48.12 355.60,48.21 356.09,47.79 356.58,47.76 357.06,47.93 357.55,48.00 358.03,48.13 358.52,47.89 359.01,48.15 359.49,48.06 359.98,47.89 360.46,48.19 360.95,47.76 361.44,48.08 361.92,47.84 362.41,47.75 362.89,48.02 363.38,48.04 363.87,48.10 364.35,47.96 364.84,48.30 365.32,48.21 365.81,47.84 366.30,47.75 366.78,48.33 367.27,48.00 367.75,47.82 368.24,47.86 368.73,48.18 369.21,47.87 369.70,47.99 370.18,48.17 370.67,47.98 371.16,48.16 371.64,48.34 372.13,48.25 372.61,48.16 373.10,48.17 373.59,48.02 374.07,48.36 374.56,48.68 375.04,49.25 375.53,50.01 376.02,50.93 376.50,50.93 376.99,50.97 377.47,50.62 377.96,49.83 378.45,50.08 378.93,50.84 379.42,49.57 379.90,49.28 380.39,48.78 380.88,48.38 381.36,48.70 381.85,48.33 382.33,48.84 382.82,48.51 383.31,48.88 383.79,48.87 384.28,48.42 384.76,48.58 385.25,48.43 385.74,48.80 386.22,48.40 386.71,48.39 387.19,48.42 387.68,48.87 388.17,48.50 388.65,48.55 389.14,48.63 389.62,48.69 390.11,48.61 390.60,48.93 391.08,48.57 391.57,48.66 392.05,48.89 392.54,48.52 393.03,48.48 393.51,48.88 394.00,48.57 394.48,48.92 394.97,48.88 395.46,48.61 395.94,48.59 396.43,48.46 396.91,48.92 397.40,48.67 397.89,48.61 398.37,48.51 398.86,48.54 399.34,48.93 399.83,48.49 400.32,48.75 400.80,48.79 401.29,48.73 401.77,48.72 402.26,48.66 402.75,48.54 403.23,48.92 403.72,48.97 404.20,48.77 404.69,48.59 405.18,48.99 405.66,48.56 406.15,48.55 406.63,48.82 407.12,48.95 407.61,48.79 408.09,48.52 408.58,49.04 409.06,48.55 409.55,48.67 410.04,49.06 410.52,48.94 411.01,48.92 411.49,48.52 411.98,48.98 412.47,48.71 412.95,48.48 413.44,48.95 413.92,49.04 414.41,48.51 414.90,48.76 415.38,49.03 415.87,48.69 416.35,48.68 416.84,48.96 417.33,48.76 417.81,49.10 418.30,49.02 418.78,49.02 419.27,48.93 419.76,48.63 420.24,48.93 420.73,48.86 421.21,48.81 421.70,48.86 422.19,48.71 422.67,48.64 423.16,49.07 423.64,48.75 424.13,48.60 424.62,49.12 425.10,48.84 425.59,48.94 426.07,48.75 426.56,48.63 427.05,48.75 427.53,49.05 428.02,48.72 428.50,49.10 428.99,48.74 429.48,49.10 429.96,48.67 430.45,48.83 430.93,48.64 431.42,48.66 431.91,48.88 432.39,48.79 432.88,48.90 433.36,48.71 433.85,48.77 434.34,48.78 434.82,49.12 435.31,48.64 435.79,48.84 436.28,49.10 436.77,48.94 437.25,48.75 437.74,49.20 438.22,48.67 438.71,48.69 439.20,48.62 439.68,48.87 440.17,49.13 440.65,48.78 441.14,48.79 441.63,49.10 442.11,48.67 442.60,48.63 443.08,49.02 443.57,48.68 444.06,48.95 444.54,48.72 445.03,49.00 445.51,49.15 446.00,48.91" fill="none" stroke="#6f9cc4" stroke-width="1.35" stroke-linejoin="round"/>
<polyline points="264.30,72.30 264.30,72.52 264.72,72.56 265.21,72.18 265.69,72.29 266.18,72.38 266.67,72.46 267.15,72.32 267.64,72.55 268.12,72.31 268.61,72.71 269.10,72.38 269.58,72.30 270.07,72.22 270.55,72.25 271.04,72.31 271.53,72.71 272.01,72.43 272.50,72.45 272.98,72.76 273.47,72.77 273.96,72.65 274.44,72.34 274.93,72.39 275.41,72.50 275.90,72.35 276.39,72.41 276.87,72.33 277.36,72.35 277.84,72.66 278.33,72.57 278.82,72.48 279.30,72.50 279.79,72.59 280.27,72.63 280.76,72.24 281.25,72.73 281.73,72.51 282.22,72.44 282.70,72.81 283.19,72.69 283.68,72.45 284.16,72.26 284.65,72.51 285.13,72.51 285.62,72.47 286.11,72.31 286.59,72.60 287.08,72.41 287.56,72.71 288.05,72.58 288.54,72.44 289.02,72.76 289.51,72.54 289.99,72.32 290.48,72.44 290.97,72.31 291.45,72.53 291.94,72.82 292.42,72.85 292.91,72.68 293.40,72.38 293.88,72.43 294.37,72.41 294.85,72.52 295.34,72.68 295.83,72.31 296.31,72.59 296.80,72.56 297.28,72.70 297.77,72.80 298.26,72.55 298.74,72.67 299.23,72.48 299.71,72.59 300.20,72.70 300.69,72.35 301.17,72.63 301.66,72.63 302.14,72.44 302.63,72.48 303.12,72.83 303.60,72.55 304.09,72.45 304.57,72.51 305.06,72.66 305.55,72.59 306.03,72.56 306.52,72.54 307.00,72.48 307.49,72.66 307.98,72.72 308.46,72.41 308.95,72.72 309.43,72.55 309.92,72.96 310.41,72.93 310.89,72.45 311.38,72.79 311.86,72.58 312.35,72.45 312.84,72.91 313.32,72.93 313.81,72.86 314.29,72.77 314.78,72.98 315.27,72.73 315.75,72.80 316.24,72.79 316.72,72.92 317.21,72.92 317.70,72.59 318.18,72.53 318.67,72.74 319.15,72.77 319.64,72.63 320.13,72.93 320.61,72.93 321.10,72.84 321.58,72.75 322.07,72.85 322.56,72.55 323.04,72.92 323.53,72.51 324.01,72.98 324.50,72.82 324.99,72.61 325.47,72.56 325.96,72.81 326.44,72.73 326.93,72.87 327.42,72.51 327.90,72.98 328.39,72.72 328.87,72.73 329.36,72.91 329.85,72.83 330.33,72.74 330.82,72.65 331.30,72.75 331.79,72.49 332.28,72.63 332.76,72.98 333.25,72.56 333.73,72.54 334.22,73.00 334.71,72.71 335.19,72.81 335.68,72.85 336.16,72.93 336.65,72.69 337.14,72.96 337.62,72.51 338.11,73.02 338.59,72.70 339.08,72.89 339.57,72.70 340.05,72.97 340.54,72.74 341.02,72.88 341.51,72.72 342.00,73.03 342.48,72.99 342.97,72.65 343.45,72.99 343.94,73.10 344.43,72.68 344.91,72.66 345.40,73.10 345.88,73.12 346.37,72.63 346.86,73.02 347.34,73.11 347.83,72.71 348.31,73.03 348.80,72.74 349.29,73.03 349.77,72.87 350.26,72.85 350.74,72.64 351.23,72.96 351.72,72.99 352.20,72.75 352.69,72.61 353.17,72.64 353.66,72.74 354.15,73.18 354.63,73.04 355.12,73.13 355.60,73.04 356.09,72.68 356.58,72.83 357.06,73.17 357.55,73.11 358.03,73.20 358.52,73.10 359.01,73.04 359.49,73.07 359.98,73.16 360.46,72.88 360.95,72.64 361.44,72.81 361.92,72.63 362.41,72.79 362.89,72.98 363.38,72.80 363.87,72.78 364.35,72.69 364.84,72.85 365.32,72.95 365.81,73.00 366.30,73.21 366.78,72.69 367.27,72.80 367.75,72.70 368.24,73.21 368.73,73.04 369.21,73.05 369.70,73.15 370.18,72.67 370.67,73.21 371.16,72.87 371.64,73.05 372.13,72.92 372.61,73.13 373.10,72.87 373.59,72.91 374.07,73.03 374.56,73.66 375.04,74.14 375.53,74.84 376.02,75.77 376.50,76.25 376.99,75.85 377.47,75.43 377.96,75.35 378.45,75.35 378.93,75.76 379.42,74.68 379.90,74.24 380.39,73.90 380.88,73.55 381.36,73.24 381.85,73.27 382.33,73.68 382.82,73.75 383.31,73.67 383.79,73.54 384.28,73.56 384.76,73.31 385.25,73.60 385.74,73.84 386.22,73.37 386.71,73.61 387.19,73.76 387.68,73.64 388.17,73.46 388.65,73.40 389.14,73.70 389.62,73.82 390.11,73.79 390.60,73.51 391.08,73.72 391.57,73.76 392.05,73.50 392.54,73.73 393.03,73.51 393.51,73.40 394.00,73.28 394.48,73.72 394.97,73.74 395.46,73.32 395.94,73.33 396.43,73.49 396.91,73.42 397.40,73.74 397.89,73.42 398.37,73.66 398.86,73.64 399.34,73.52 399.83,73.82 400.32,73.58 400.80,73.62 401.29,73.72 401.77,73.56 402.26,73.44 402.75,73.90 403.23,73.78 403.72,73.66 404.20,73.63 404.69,73.71 405.18,73.52 405.66,73.38 406.15,73.67 406.63,73.89 407.12,73.41 407.61,73.94 408.09,73.58 408.58,73.95 409.06,73.82 409.55,73.52 410.04,73.49 410.52,73.90 411.01,73.95 411.49,73.85 411.98,73.72 412.47,73.70 412.95,73.85 413.44,73.87 413.92,73.88 414.41,73.56 414.90,73.88 415.38,73.96 415.87,73.74 416.35,73.40 416.84,73.51 417.33,73.79 417.81,73.66 418.30,73.95 418.78,73.79 419.27,73.83 419.76,73.50 420.24,73.73 420.73,73.84 421.21,73.97 421.70,73.96 422.19,73.58 422.67,73.73 423.16,74.01 423.64,73.48 424.13,73.47 424.62,73.54 425.10,73.88 425.59,73.63 426.07,73.87 426.56,73.94 427.05,73.93 427.53,73.47 428.02,73.86 428.50,73.93 428.99,73.88 429.48,73.98 429.96,73.95 430.45,73.83 430.93,73.99 431.42,73.79 431.91,73.54 432.39,73.64 432.88,74.03 433.36,73.68 433.85,73.76 434.34,74.01 434.82,73.90 435.31,73.96 435.79,73.77 436.28,73.80 436.77,73.54 437.25,73.62 437.74,73.59 438.22,73.82 438.71,73.82 439.20,73.55 439.68,73.89 440.17,73.57 440.65,73.75 441.14,73.53 441.63,73.80 442.11,73.61 442.60,74.09 443.08,73.74 443.57,74.03 444.06,73.80 444.54,73.73 445.03,74.04 445.51,73.70 446.00,73.85" fill="none" stroke="#72b884" stroke-width="1.35" stroke-linejoin="round"/>
<polyline points="264.30,99.70 264.30,99.95 264.72,99.74 265.21,99.29 265.69,99.57 266.18,99.92 266.67,99.85 267.15,99.51 267.64,99.34 268.12,99.44 268.61,99.78 269.10,99.38 269.58,99.88 270.07,99.44 270.55,99.74 271.04,99.74 271.53,99.43 272.01,99.63 272.50,99.71 272.98,99.46 273.47,99.65 273.96,99.72 274.44,99.96 274.93,99.49 275.41,99.42 275.90,99.67 276.39,99.74 276.87,99.68 277.36,99.99 277.84,99.51 278.33,99.74 278.82,99.73 279.30,99.57 279.79,99.77 280.27,99.79 280.76,99.77 281.25,100.08 281.73,100.26 282.22,100.28 282.70,99.80 283.19,99.94 283.68,100.39 284.16,99.82 284.65,99.87 285.13,99.89 285.62,100.56 286.11,100.29 286.59,100.28 287.08,100.08 287.56,100.67 288.05,100.79 288.54,100.61 289.02,100.79 289.51,100.58 289.99,100.42 290.48,100.35 290.97,100.45 291.45,100.35 291.94,100.51 292.42,100.28 292.91,100.27 293.40,100.86 293.88,100.81 294.37,100.77 294.85,100.42 295.34,100.46 295.83,100.49 296.31,100.63 296.80,100.25 297.28,100.36 297.77,100.35 298.26,100.51 298.74,100.12 299.23,99.84 299.71,100.07 300.20,100.37 300.69,99.83 301.17,100.11 301.66,99.72 302.14,99.78 302.63,100.00 303.12,99.60 303.60,99.81 304.09,99.88 304.57,99.71 305.06,99.95 305.55,99.99 306.03,99.57 306.52,99.89 307.00,99.87 307.49,99.75 307.98,99.73 308.46,99.71 308.95,99.82 309.43,99.78 309.92,99.47 310.41,99.73 310.89,99.77 311.38,99.59 311.86,99.89 312.35,99.48 312.84,99.65 313.32,99.66 313.81,99.68 314.29,99.38 314.78,99.72 315.27,99.33 315.75,99.63 316.24,99.57 316.72,99.74 317.21,99.85 317.70,99.94 318.18,99.41 318.67,99.89 319.15,99.58 319.64,99.60 320.13,99.28 320.61,99.85 321.10,99.41 321.58,99.44 322.07,99.46 322.56,99.41 323.04,99.45 323.53,99.45 324.01,99.62 324.50,99.50 324.99,99.78 325.47,99.90 325.96,99.90 326.44,99.51 326.93,99.73 327.42,99.76 327.90,99.76 328.39,99.53 328.87,99.38 329.36,99.78 329.85,99.71 330.33,99.50 330.82,99.72 331.30,99.30 331.79,99.80 332.28,99.88 332.76,99.93 333.25,99.33 333.73,99.73 334.22,99.80 334.71,99.35 335.19,99.68 335.68,99.38 336.16,99.40 336.65,99.27 337.14,99.45 337.62,99.84 338.11,99.66 338.59,99.81 339.08,99.93 339.57,99.36 340.05,99.84 340.54,99.88 341.02,99.70 341.51,99.48 342.00,99.37 342.48,99.56 342.97,99.51 343.45,99.43 343.94,99.72 344.43,99.69 344.91,99.43 345.40,99.37 345.88,99.60 346.37,99.75 346.86,99.72 347.34,99.70 347.83,99.88 348.31,99.78 348.80,99.56 349.29,99.77 349.77,99.72 350.26,99.49 350.74,99.37 351.23,99.51 351.72,99.75 352.20,99.78 352.69,99.46 353.17,99.63 353.66,99.30 354.15,99.67 354.63,99.56 355.12,99.79 355.60,99.85 356.09,99.29 356.58,99.93 357.06,99.37 357.55,99.92 358.03,99.94 358.52,99.41 359.01,99.45 359.49,99.35 359.98,99.89 360.46,99.78 360.95,99.93 361.44,99.81 361.92,99.50 362.41,99.79 362.89,99.50 363.38,99.48 363.87,99.55 364.35,99.74 364.84,99.47 365.32,99.64 365.81,99.65 366.30,99.81 366.78,99.58 367.27,99.54 367.75,99.64 368.24,99.57 368.73,99.76 369.21,99.33 369.70,99.37 370.18,99.28 370.67,99.54 371.16,99.84 371.64,99.67 372.13,99.70 372.61,99.91 373.10,99.84 373.59,99.53 374.07,99.67 374.56,100.34 375.04,100.96 375.53,102.36 376.02,103.06 376.50,103.73 376.99,103.60 377.47,102.55 377.96,102.16 378.45,102.74 378.93,101.80 379.42,101.27 379.90,100.04 380.39,99.73 380.88,99.35 381.36,99.29 381.85,99.13 382.33,98.99 382.82,99.62 383.31,99.10 383.79,99.01 384.28,99.60 384.76,99.33 385.25,99.36 385.74,99.59 386.22,99.46 386.71,99.13 387.19,99.15 387.68,99.41 388.17,99.43 388.65,99.11 389.14,99.12 389.62,99.31 390.11,98.99 390.60,99.51 391.08,99.41 391.57,99.06 392.05,99.36 392.54,99.36 393.03,99.01 393.51,99.25 394.00,99.50 394.48,99.27 394.97,99.46 395.46,99.11 395.94,99.65 396.43,99.42 396.91,99.34 397.40,98.96 397.89,99.20 398.37,98.95 398.86,99.26 399.34,99.07 399.83,99.12 400.32,99.16 400.80,99.05 401.29,99.15 401.77,99.30 402.26,99.04 402.75,99.34 403.23,99.61 403.72,99.45 404.20,99.62 404.69,99.03 405.18,99.41 405.66,99.12 406.15,99.60 406.63,99.30 407.12,99.46 407.61,99.49 408.09,99.04 408.58,99.02 409.06,99.52 409.55,99.52 410.04,99.25 410.52,98.97 411.01,98.97 411.49,99.51 411.98,99.44 412.47,99.21 412.95,99.42 413.44,99.52 413.92,98.96 414.41,99.47 414.90,99.63 415.38,99.56 415.87,99.57 416.35,99.26 416.84,99.37 417.33,99.03 417.81,99.50 418.30,99.41 418.78,99.23 419.27,98.98 419.76,99.08 420.24,99.23 420.73,99.59 421.21,99.28 421.70,99.56 422.19,99.08 422.67,99.13 423.16,99.12 423.64,99.15 424.13,99.51 424.62,99.21 425.10,99.17 425.59,99.43 426.07,99.26 426.56,99.57 427.05,99.44 427.53,99.53 428.02,99.25 428.50,99.23 428.99,99.27 429.48,99.64 429.96,99.61 430.45,99.35 430.93,99.30 431.42,99.00 431.91,99.55 432.39,99.38 432.88,99.24 433.36,99.07 433.85,99.28 434.34,99.45 434.82,99.14 435.31,99.14 435.79,99.31 436.28,99.30 436.77,98.95 437.25,98.99 437.74,99.21 438.22,99.45 438.71,99.22 439.20,98.96 439.68,99.12 440.17,99.09 440.65,99.48 441.14,99.11 441.63,99.64 442.11,99.15 442.60,99.08 443.08,98.96 443.57,99.29 444.06,99.31 444.54,99.50 445.03,99.42 445.51,99.33 446.00,98.99" fill="none" stroke="#3c3c3c" stroke-width="1.35" stroke-linejoin="round"/>
<line x1="289.60" y1="18.50" x2="289.60" y2="112.50" stroke="#777" stroke-width="1.2" stroke-dasharray="3,2"/>
<rect x="264.30" y="1.70" width="181.30" height="116.80" fill="none" stroke="#111" stroke-width="1.5"/>
<text x="289.80" y="9.00" font-size="8.1" text-anchor="middle" font-weight="bold" fill="#111" stroke="#111" stroke-width="0.14">-OH</text>
<text x="272.70" y="17.40" font-size="8.05" text-anchor="start" font-weight="bold" fill="#111" stroke="#111" stroke-width="0.14">3419.7 cm<tspan font-size="5.4" dy="-3">-1</tspan></text>
<line x1="384.50" y1="30.80" x2="396.50" y2="30.80" stroke="#9b78a9" stroke-width="1.5"/>
<text x="399.00" y="33.10" font-size="8.0" text-anchor="start" font-weight="bold" fill="#111" stroke="#111" stroke-width="0.14">hcp Ni NSs</text>
<line x1="384.50" y1="53.50" x2="396.50" y2="53.50" stroke="#6f9cc4" stroke-width="1.5"/>
<text x="399.00" y="55.80" font-size="8.0" text-anchor="start" font-weight="bold" fill="#111" stroke="#111" stroke-width="0.14">hcp Ni NPs</text>
<line x1="384.50" y1="80.40" x2="396.50" y2="80.40" stroke="#72b884" stroke-width="1.5"/>
<text x="399.00" y="82.70" font-size="8.0" text-anchor="start" font-weight="bold" fill="#111" stroke="#111" stroke-width="0.14">fcc Ni NPs</text>
<line x1="384.50" y1="106.30" x2="396.50" y2="106.30" stroke="#3c3c3c" stroke-width="1.5"/>
<text x="399.00" y="108.60" font-size="8.0" text-anchor="start" font-weight="bold" fill="#111" stroke="#111" stroke-width="0.14">Pt/C</text>
<line x1="284.00" y1="118.50" x2="284.00" y2="120.50" stroke="#111" stroke-width="1.0"/>
<text x="284.00" y="129.00" font-size="9.2" text-anchor="middle" font-weight="bold" fill="#111" stroke="#111" stroke-width="0.14">3500</text>
<line x1="324.50" y1="118.50" x2="324.50" y2="120.50" stroke="#111" stroke-width="1.0"/>
<text x="324.50" y="129.00" font-size="9.2" text-anchor="middle" font-weight="bold" fill="#111" stroke="#111" stroke-width="0.14">3000</text>
<line x1="365.00" y1="118.50" x2="365.00" y2="120.50" stroke="#111" stroke-width="1.0"/>
<text x="365.00" y="129.00" font-size="9.2" text-anchor="middle" font-weight="bold" fill="#111" stroke="#111" stroke-width="0.14">2500</text>
<line x1="405.50" y1="118.50" x2="405.50" y2="120.50" stroke="#111" stroke-width="1.0"/>
<text x="405.50" y="129.00" font-size="9.2" text-anchor="middle" font-weight="bold" fill="#111" stroke="#111" stroke-width="0.14">2000</text>
<line x1="446.00" y1="118.50" x2="446.00" y2="120.50" stroke="#111" stroke-width="1.0"/>
<text x="446.00" y="129.00" font-size="9.2" text-anchor="middle" font-weight="bold" fill="#111" stroke="#111" stroke-width="0.14">1500</text>
<line x1="304.25" y1="118.50" x2="304.25" y2="119.80" stroke="#111" stroke-width="1.0"/>
<line x1="344.75" y1="118.50" x2="344.75" y2="119.80" stroke="#111" stroke-width="1.0"/>
<line x1="385.25" y1="118.50" x2="385.25" y2="119.80" stroke="#111" stroke-width="1.0"/>
<line x1="425.75" y1="118.50" x2="425.75" y2="119.80" stroke="#111" stroke-width="1.0"/>
<text x="354.50" y="145.00" font-size="9.3" text-anchor="middle" font-weight="bold" fill="#111" stroke="#111" stroke-width="0.14">Wavenumber (cm<tspan font-size="6.2" dy="-3.6">-1</tspan><tspan dy="3.6">)</tspan></text>
<text x="475.30" y="10.20" font-size="12.5" text-anchor="start" font-weight="bold" fill="#111" stroke="#111" stroke-width="0.14">c</text>
<polygon points="502.50,8.40 503.19,10.05 504.97,10.20 503.61,11.36 504.03,13.10 502.50,12.17 500.97,13.10 501.39,11.36 500.03,10.20 501.81,10.05" fill="#111"/>
<text x="506.50" y="14.20" font-size="8.0" text-anchor="start" font-weight="bold" fill="#111" stroke="#111" stroke-width="0.14">DMPO-H</text>
<polyline points="495.10,39.45 495.60,38.35 496.10,37.99 496.60,37.77 497.10,38.53 497.60,38.89 498.10,38.32 498.60,38.03 499.10,37.45 499.60,38.44 500.10,38.98 500.60,37.95 501.10,37.89 501.60,38.89 502.10,39.11 502.60,38.03 503.10,39.40 503.60,39.27 504.10,39.23 504.60,38.43 505.10,39.48 505.60,38.75 506.10,38.92 506.60,39.66 507.10,39.59 507.60,38.25 508.10,37.73 508.60,37.61 509.10,36.88 509.60,37.05 510.10,35.19 510.60,34.46 511.10,35.36 511.60,37.36 512.10,38.90 512.60,40.99 513.10,41.79 513.60,42.71 514.10,41.84 514.60,40.67 515.10,39.72 515.60,38.25 516.10,38.33 516.60,39.20 517.10,38.49 517.60,38.71 518.10,38.06 518.60,39.09 519.10,38.41 519.60,38.27 520.10,39.13 520.60,37.94 521.10,37.42 521.60,38.09 522.10,38.34 522.60,37.75 523.10,38.13 523.60,39.00 524.10,39.49 524.60,39.71 525.10,39.52 525.60,38.02 526.10,38.16 526.60,38.36 527.10,37.59 527.60,38.86 528.10,38.23 528.60,39.05 529.10,39.09 529.60,38.28 530.10,38.19 530.60,38.38 531.10,37.92 531.60,37.42 532.10,38.09 532.60,37.90 533.10,37.90 533.60,38.96 534.10,39.19 534.60,38.60 535.10,37.65 535.60,38.84 536.10,38.20 536.60,37.68 537.10,38.83 537.60,39.48 538.10,38.38 538.60,38.62 539.10,39.36 539.60,38.71 540.10,37.60 540.60,35.42 541.10,32.65 541.60,33.04 542.10,34.62 542.60,36.05 543.10,39.08 543.60,40.69 544.10,43.72 544.60,43.90 545.10,43.03 545.60,40.80 546.10,38.48 546.60,38.65 547.10,38.90 547.60,37.78 548.10,37.43 548.60,37.79 549.10,38.80 549.60,39.60 550.10,38.66 550.60,38.58 551.10,36.27 551.60,31.29 552.10,27.81 552.60,29.13 553.10,32.86 553.60,37.49 554.10,42.16 554.60,45.37 555.10,48.26 555.60,47.33 556.10,43.84 556.60,41.00 557.10,38.78 557.60,38.53 558.10,38.49 558.60,37.77 559.10,38.92 559.60,39.62 560.10,39.02 560.60,38.55 561.10,38.32 561.60,38.42 562.10,38.29 562.60,38.05 563.10,39.33 563.60,38.55 564.10,38.01 564.60,38.74 565.10,37.65 565.60,38.02 566.10,38.55 566.60,39.22 567.10,38.39 567.60,37.64 568.10,39.25 568.60,37.82 569.10,38.20 569.60,38.47 570.10,39.32 570.60,37.58 571.10,35.20 571.60,32.83 572.10,32.24 572.60,33.50 573.10,37.52 573.60,39.56 574.10,42.26 574.60,43.40 575.10,44.17 575.60,43.17 576.10,40.00 576.60,39.94 577.10,38.52 577.60,38.99 578.10,39.60 578.60,38.83 579.10,39.53 579.60,38.67 580.10,38.44 580.60,39.02 581.10,37.28 581.60,32.80 582.10,28.59 582.60,28.00 583.10,30.76 583.60,34.71 584.10,40.13 584.60,43.46 585.10,47.67 585.60,47.26 586.10,43.96 586.60,40.99 587.10,39.97 587.60,39.74 588.10,39.04 588.60,38.23 589.10,38.54 589.60,38.11 590.10,38.17 590.60,37.49 591.10,37.30 591.60,39.05 592.10,39.07 592.60,37.36 593.10,36.10 593.60,32.97 594.10,33.55 594.60,35.03 595.10,37.62 595.60,39.20 596.10,41.03 596.60,43.36 597.10,42.77 597.60,40.70 598.10,38.93 598.60,39.54 599.10,38.39 599.60,37.65 600.10,38.44 600.60,37.81 601.10,38.22 601.60,39.03 602.10,38.20 602.60,38.32 603.10,39.38 603.60,39.57 604.10,39.63 604.60,37.98 605.10,39.36 605.60,38.95 606.10,38.00 606.60,39.39 607.10,38.08 607.60,39.41 608.10,37.91 608.60,37.55 609.10,38.23 609.60,38.71 610.10,38.80 610.60,39.25 611.10,37.68 611.60,37.36 612.10,34.01 612.60,31.64 613.10,30.19 613.60,32.74 614.10,35.60 614.60,40.48 615.10,43.22 615.60,45.82 616.10,46.47 616.60,44.73 617.10,40.97 617.60,39.26 618.10,38.93 618.60,38.17 619.10,37.70 619.60,38.14 620.10,38.89 620.60,39.04 621.10,38.16 621.60,38.78 622.10,39.28 622.60,38.93 623.10,36.97 623.60,34.47 624.10,34.19 624.60,33.92 625.10,34.89 625.60,37.93 626.10,39.85 626.60,41.88 627.10,42.77 627.60,43.06 628.10,41.10 628.60,39.44 629.10,38.48 629.60,39.00 630.10,39.43 630.60,38.43 631.10,37.70 631.60,37.83 632.10,38.88 632.60,38.40 633.10,37.56 633.60,38.98 634.10,38.58 634.60,37.73 635.10,38.83 635.60,38.69 636.10,39.32 636.60,39.49 637.10,39.51 637.60,39.64 638.10,38.68 638.60,39.24 639.10,38.78 639.60,38.96 640.10,38.14 640.60,38.71 641.10,37.78 641.60,39.08 642.10,38.10 642.60,38.59 643.10,39.28 643.60,39.46 644.10,39.57 644.60,38.74 645.10,37.78 645.60,39.33 646.10,38.43 646.60,39.28 647.10,38.62 647.60,38.49 648.10,38.65 648.60,38.71 649.10,39.19 649.60,38.95 650.10,38.04 650.60,38.50 651.10,37.76 651.60,39.05 652.10,38.09 652.60,38.16 653.10,38.55 653.60,37.78 654.10,37.68 654.60,36.21 655.10,34.51 655.60,35.27 656.10,37.61 656.60,39.02 657.10,40.86 657.60,41.86 658.10,42.63 658.60,41.78 659.10,40.93 659.60,39.04 660.10,39.29 660.60,38.22 661.10,38.06 661.60,37.90 662.10,39.25 662.60,37.99 663.10,37.99 663.60,38.35 664.10,38.95 664.60,39.03 665.10,37.97 665.60,38.19 666.10,38.92 666.60,37.98 667.10,37.66 667.60,38.97 668.10,37.71 668.60,37.49 669.10,37.64 669.60,38.98 670.10,38.41 670.60,38.40 671.10,38.62 671.60,39.39 672.10,37.92 672.60,37.78 673.10,38.16 673.60,38.75 674.10,37.91 674.60,38.26 675.10,38.64 675.60,37.74 676.10,38.01 676.60,37.54 677.10,39.10 677.60,37.77 678.10,37.67" fill="none" stroke="#9b78a9" stroke-width="1.6" stroke-linejoin="round"/>
<polyline points="495.10,87.03 495.60,86.33 496.10,86.81 496.60,86.48 497.10,87.69 497.60,87.20 498.10,86.63 498.60,86.11 499.10,86.55 499.60,87.27 500.10,87.37 500.60,87.38 501.10,87.01 501.60,87.73 502.10,86.88 502.60,86.92 503.10,87.75 503.60,87.66 504.10,87.01 504.60,87.45 505.10,87.54 505.60,86.61 506.10,86.54 506.60,87.24 507.10,86.68 507.60,86.46 508.10,86.77 508.60,85.94 509.10,86.07 509.60,87.55 510.10,86.52 510.60,87.32 511.10,85.84 511.60,85.48 512.10,84.30 512.60,81.33 513.10,80.63 513.60,81.94 514.10,83.67 514.60,86.12 515.10,90.65 515.60,94.04 516.10,95.07 516.60,92.50 517.10,89.08 517.60,88.06 518.10,87.47 518.60,86.89 519.10,86.48 519.60,86.26 520.10,86.38 520.60,86.51 521.10,86.94 521.60,86.67 522.10,86.44 522.60,86.14 523.10,86.92 523.60,87.71 524.10,86.44 524.60,87.24 525.10,87.22 525.60,86.39 526.10,85.95 526.60,87.22 527.10,86.22 527.60,85.86 528.10,85.70 528.60,87.10 529.10,86.65 529.60,85.76 530.10,86.05 530.60,86.61 531.10,86.69 531.60,86.06 532.10,87.28 532.60,87.34 533.10,86.51 533.60,86.35 534.10,86.17 534.60,85.66 535.10,86.68 535.60,86.31 536.10,86.98 536.60,87.53 537.10,86.66 537.60,86.33 538.10,86.39 538.60,86.63 539.10,85.84 539.60,86.29 540.10,86.27 540.60,85.86 541.10,87.15 541.60,87.04 542.10,85.63 542.60,81.95 543.10,79.04 543.60,76.63 544.10,79.60 544.60,83.62 545.10,86.52 545.60,90.51 546.10,93.20 546.60,93.54 547.10,92.53 547.60,89.19 548.10,86.88 548.60,85.84 549.10,86.71 549.60,86.31 550.10,85.97 550.60,85.65 551.10,87.00 551.60,86.42 552.10,87.40 552.60,87.69 553.10,87.18 553.60,84.08 554.10,80.65 554.60,74.75 555.10,73.29 555.60,77.58 556.10,82.88 556.60,88.58 557.10,95.50 557.60,99.56 558.10,99.48 558.60,94.96 559.10,90.82 559.60,87.63 560.10,87.81 560.60,86.08 561.10,86.37 561.60,87.09 562.10,87.10 562.60,87.56 563.10,87.33 563.60,87.70 564.10,88.01 564.60,87.89 565.10,87.33 565.60,86.76 566.10,86.85 566.60,86.25 567.10,86.15 567.60,86.64 568.10,86.63 568.60,86.52 569.10,85.89 569.60,87.49 570.10,86.67 570.60,86.72 571.10,86.47 571.60,86.78 572.10,87.10 572.60,86.66 573.10,83.96 573.60,81.78 574.10,79.92 574.60,81.78 575.10,84.54 575.60,88.43 576.10,89.71 576.60,91.66 577.10,92.93 577.60,90.38 578.10,87.63 578.60,86.79 579.10,86.67 579.60,86.65 580.10,86.22 580.60,86.32 581.10,86.23 581.60,85.98 582.10,86.56 582.60,86.11 583.10,85.43 583.60,84.88 584.10,80.56 584.60,73.88 585.10,72.03 585.60,75.39 586.10,81.66 586.60,88.83 587.10,96.45 587.60,100.55 588.10,101.52 588.60,97.64 589.10,90.69 589.60,88.15 590.10,86.59 590.60,87.20 591.10,87.56 591.60,87.79 592.10,87.66 592.60,86.23 593.10,86.94 593.60,86.95 594.10,86.31 594.60,85.30 595.10,83.55 595.60,79.51 596.10,75.94 596.60,77.51 597.10,80.51 597.60,85.77 598.10,87.90 598.60,91.39 599.10,92.69 599.60,91.83 600.10,89.76 600.60,87.22 601.10,86.31 601.60,86.44 602.10,86.07 602.60,87.27 603.10,87.32 603.60,87.22 604.10,87.31 604.60,86.28 605.10,85.66 605.60,85.62 606.10,87.21 606.60,86.90 607.10,87.78 607.60,86.74 608.10,86.55 608.60,87.02 609.10,87.56 609.60,86.88 610.10,86.79 610.60,86.51 611.10,86.19 611.60,87.43 612.10,87.80 612.60,86.97 613.10,86.12 613.60,87.27 614.10,86.40 614.60,85.12 615.10,80.55 615.60,74.72 616.10,74.18 616.60,76.86 617.10,83.95 617.60,88.03 618.10,93.18 618.60,96.78 619.10,97.51 619.60,94.83 620.10,89.64 620.60,86.89 621.10,85.84 621.60,85.50 622.10,86.43 622.60,86.14 623.10,87.11 623.60,87.25 624.10,86.94 624.60,87.63 625.10,87.59 625.60,85.05 626.10,82.87 626.60,79.98 627.10,78.64 627.60,82.21 628.10,84.38 628.60,88.15 629.10,91.55 629.60,93.15 630.10,92.93 630.60,90.82 631.10,88.25 631.60,86.42 632.10,86.40 632.60,86.29 633.10,87.27 633.60,87.70 634.10,88.01 634.60,86.83 635.10,87.60 635.60,87.85 636.10,86.15 636.60,86.70 637.10,85.96 637.60,85.71 638.10,86.36 638.60,87.08 639.10,86.24 639.60,86.28 640.10,86.61 640.60,86.83 641.10,86.06 641.60,85.92 642.10,85.56 642.60,86.07 643.10,87.56 643.60,86.40 644.10,87.19 644.60,87.21 645.10,87.64 645.60,87.66 646.10,86.18 646.60,86.27 647.10,87.31 647.60,87.24 648.10,87.64 648.60,86.12 649.10,87.27 649.60,86.73 650.10,87.36 650.60,87.13 651.10,86.61 651.60,86.79 652.10,85.85 652.60,87.39 653.10,87.72 653.60,87.37 654.10,87.26 654.60,87.38 655.10,86.65 655.60,85.27 656.10,83.72 656.60,81.44 657.10,79.85 657.60,81.40 658.10,83.58 658.60,86.85 659.10,90.10 659.60,93.73 660.10,95.52 660.60,93.22 661.10,90.05 661.60,87.71 662.10,86.35 662.60,86.16 663.10,87.57 663.60,87.85 664.10,87.42 664.60,87.36 665.10,86.42 665.60,85.73 666.10,85.53 666.60,85.45 667.10,85.80 667.60,87.46 668.10,87.15 668.60,86.35 669.10,85.85 669.60,85.55 670.10,85.45 670.60,85.67 671.10,86.13 671.60,85.91 672.10,85.99 672.60,86.81 673.10,86.06 673.60,85.85 674.10,87.06 674.60,86.44 675.10,86.95 675.60,86.41 676.10,87.08 676.60,85.90 677.10,86.07 677.60,87.31 678.10,86.54" fill="none" stroke="#6f9cc4" stroke-width="1.6" stroke-linejoin="round"/>
<polygon points="510.50,28.20 511.19,29.85 512.97,30.00 511.61,31.16 512.03,32.90 510.50,31.97 508.97,32.90 509.39,31.16 508.03,30.00 509.81,29.85" fill="#111"/>
<polygon points="541.60,26.40 542.29,28.05 544.07,28.20 542.71,29.36 543.13,31.10 541.60,30.17 540.07,31.10 540.49,29.36 539.13,28.20 540.91,28.05" fill="#111"/>
<polygon points="552.30,20.40 552.99,22.05 554.77,22.20 553.41,23.36 553.83,25.10 552.30,24.17 550.77,25.10 551.19,23.36 549.83,22.20 551.61,22.05" fill="#111"/>
<polygon points="572.00,26.40 572.69,28.05 574.47,28.20 573.11,29.36 573.53,31.10 572.00,30.17 570.47,31.10 570.89,29.36 569.53,28.20 571.31,28.05" fill="#111"/>
<polygon points="582.50,20.90 583.19,22.55 584.97,22.70 583.61,23.86 584.03,25.60 582.50,24.67 580.97,25.60 581.39,23.86 580.03,22.70 581.81,22.55" fill="#111"/>
<polygon points="594.00,26.90 594.69,28.55 596.47,28.70 595.11,29.86 595.53,31.60 594.00,30.67 592.47,31.60 592.89,29.86 591.53,28.70 593.31,28.55" fill="#111"/>
<polygon points="613.00,22.40 613.69,24.05 615.47,24.20 614.11,25.36 614.53,27.10 613.00,26.17 611.47,27.10 611.89,25.36 610.53,24.20 612.31,24.05" fill="#111"/>
<polygon points="624.40,26.90 625.09,28.55 626.87,28.70 625.51,29.86 625.93,31.60 624.40,30.67 622.87,31.60 623.29,29.86 621.93,28.70 623.71,28.55" fill="#111"/>
<polygon points="655.10,28.40 655.79,30.05 657.57,30.20 656.21,31.36 656.63,33.10 655.10,32.17 653.57,33.10 653.99,31.36 652.63,30.20 654.41,30.05" fill="#111"/>
<polygon points="513.20,73.40 513.89,75.05 515.67,75.20 514.31,76.36 514.73,78.10 513.20,77.17 511.67,78.10 512.09,76.36 510.73,75.20 512.51,75.05" fill="#111"/>
<polygon points="543.60,69.60 544.29,71.25 546.07,71.40 544.71,72.56 545.13,74.30 543.60,73.37 542.07,74.30 542.49,72.56 541.13,71.40 542.91,71.25" fill="#111"/>
<polygon points="555.00,65.10 555.69,66.75 557.47,66.90 556.11,68.06 556.53,69.80 555.00,68.87 553.47,69.80 553.89,68.06 552.53,66.90 554.31,66.75" fill="#111"/>
<polygon points="574.00,73.40 574.69,75.05 576.47,75.20 575.11,76.36 575.53,78.10 574.00,77.17 572.47,78.10 572.89,76.36 571.53,75.20 573.31,75.05" fill="#111"/>
<polygon points="585.00,64.60 585.69,66.25 587.47,66.40 586.11,67.56 586.53,69.30 585.00,68.37 583.47,69.30 583.89,67.56 582.53,66.40 584.31,66.25" fill="#111"/>
<polygon points="596.30,68.60 596.99,70.25 598.77,70.40 597.41,71.56 597.83,73.30 596.30,72.37 594.77,73.30 595.19,71.56 593.83,70.40 595.61,70.25" fill="#111"/>
<polygon points="616.00,66.60 616.69,68.25 618.47,68.40 617.11,69.56 617.53,71.30 616.00,70.37 614.47,71.30 614.89,69.56 613.53,68.40 615.31,68.25" fill="#111"/>
<polygon points="626.90,72.40 627.59,74.05 629.37,74.20 628.01,75.36 628.43,77.10 626.90,76.17 625.37,77.10 625.79,75.36 624.43,74.20 626.21,74.05" fill="#111"/>
<polygon points="657.10,72.40 657.79,74.05 659.57,74.20 658.21,75.36 658.63,77.10 657.10,76.17 655.57,77.10 655.99,75.36 654.63,74.20 656.41,74.05" fill="#111"/>
<rect x="494.30" y="2.30" width="185.00" height="118.20" fill="none" stroke="#111" stroke-width="1.5"/>
<line x1="603.50" y1="55.00" x2="614.50" y2="55.00" stroke="#9b78a9" stroke-width="1.5"/>
<text x="617.20" y="57.50" font-size="7.6" text-anchor="start" font-weight="bold" fill="#111" stroke="#111" stroke-width="0.14">With acetone</text>
<line x1="603.50" y1="103.70" x2="614.50" y2="103.70" stroke="#6f9cc4" stroke-width="1.5"/>
<text x="617.00" y="106.20" font-size="7.7" text-anchor="start" font-weight="bold" fill="#111" stroke="#111" stroke-width="0.14">Without acetone</text>
<line x1="513.20" y1="120.50" x2="513.20" y2="122.50" stroke="#111" stroke-width="1.0"/>
<text x="513.20" y="129.80" font-size="9.2" text-anchor="middle" font-weight="bold" fill="#111" stroke="#111" stroke-width="0.14">3220</text>
<line x1="549.00" y1="120.50" x2="549.00" y2="122.50" stroke="#111" stroke-width="1.0"/>
<text x="549.00" y="129.80" font-size="9.2" text-anchor="middle" font-weight="bold" fill="#111" stroke="#111" stroke-width="0.14">3240</text>
<line x1="584.80" y1="120.50" x2="584.80" y2="122.50" stroke="#111" stroke-width="1.0"/>
<text x="584.80" y="129.80" font-size="9.2" text-anchor="middle" font-weight="bold" fill="#111" stroke="#111" stroke-width="0.14">3260</text>
<line x1="620.60" y1="120.50" x2="620.60" y2="122.50" stroke="#111" stroke-width="1.0"/>
<text x="620.60" y="129.80" font-size="9.2" text-anchor="middle" font-weight="bold" fill="#111" stroke="#111" stroke-width="0.14">3280</text>
<line x1="656.40" y1="120.50" x2="656.40" y2="122.50" stroke="#111" stroke-width="1.0"/>
<text x="656.40" y="129.80" font-size="9.2" text-anchor="middle" font-weight="bold" fill="#111" stroke="#111" stroke-width="0.14">3300</text>
<line x1="531.10" y1="120.50" x2="531.10" y2="121.80" stroke="#111" stroke-width="1.0"/>
<line x1="566.90" y1="120.50" x2="566.90" y2="121.80" stroke="#111" stroke-width="1.0"/>
<line x1="602.70" y1="120.50" x2="602.70" y2="121.80" stroke="#111" stroke-width="1.0"/>
<line x1="638.50" y1="120.50" x2="638.50" y2="121.80" stroke="#111" stroke-width="1.0"/>
<line x1="674.30" y1="120.50" x2="674.30" y2="121.80" stroke="#111" stroke-width="1.0"/>
<text x="586.50" y="143.00" font-size="9.3" text-anchor="middle" font-weight="bold" fill="#111" stroke="#111" stroke-width="0.14">Magnetic field (G)</text>
<text x="488.30" y="58.00" font-size="8.8" text-anchor="middle" font-weight="bold" fill="#111" stroke="#111" stroke-width="0.14" transform="rotate(-90 488.3 58)">Intensity (arb.units)</text>
<text x="9.00" y="158.00" font-size="12.5" text-anchor="start" font-weight="bold" fill="#111" stroke="#111" stroke-width="0.14">d</text>
<line x1="33.50" y1="168.30" x2="31.50" y2="168.30" stroke="#111" stroke-width="1.0"/>
<text x="29.60" y="171.60" font-size="9.2" text-anchor="end" font-weight="bold" fill="#111" stroke="#111" stroke-width="0.14">0.0</text>
<line x1="33.50" y1="193.00" x2="31.50" y2="193.00" stroke="#111" stroke-width="1.0"/>
<text x="29.60" y="196.30" font-size="9.2" text-anchor="end" font-weight="bold" fill="#111" stroke="#111" stroke-width="0.14">-0.2</text>
<line x1="33.50" y1="217.70" x2="31.50" y2="217.70" stroke="#111" stroke-width="1.0"/>
<text x="29.60" y="221.00" font-size="9.2" text-anchor="end" font-weight="bold" fill="#111" stroke="#111" stroke-width="0.14">-0.4</text>
<line x1="33.50" y1="242.40" x2="31.50" y2="242.40" stroke="#111" stroke-width="1.0"/>
<text x="29.60" y="245.70" font-size="9.2" text-anchor="end" font-weight="bold" fill="#111" stroke="#111" stroke-width="0.14">-0.6</text>
<line x1="33.50" y1="267.10" x2="31.50" y2="267.10" stroke="#111" stroke-width="1.0"/>
<text x="29.60" y="270.40" font-size="9.2" text-anchor="end" font-weight="bold" fill="#111" stroke="#111" stroke-width="0.14">-0.8</text>
<line x1="33.50" y1="180.65" x2="32.20" y2="180.65" stroke="#111" stroke-width="1.0"/>
<line x1="33.50" y1="205.35" x2="32.20" y2="205.35" stroke="#111" stroke-width="1.0"/>
<line x1="33.50" y1="230.05" x2="32.20" y2="230.05" stroke="#111" stroke-width="1.0"/>
<line x1="33.50" y1="254.75" x2="32.20" y2="254.75" stroke="#111" stroke-width="1.0"/>
<text x="7.50" y="208.00" font-size="9.3" text-anchor="middle" font-weight="bold" fill="#111" stroke="#111" stroke-width="0.14" transform="rotate(-90 7.5 208)">Free energy (eV)</text>
<text x="124.00" y="279.30" font-size="9.3" text-anchor="middle" font-weight="bold" fill="#111" stroke="#111" stroke-width="0.14">Reaction coordinate</text>
<line x1="49.70" y1="168.30" x2="67.20" y2="168.30" stroke="#79a8cc" stroke-width="1.9"/>
<line x1="67.20" y1="168.30" x2="82.30" y2="221.41" stroke="#79a8cc" stroke-width="1.7" stroke-dasharray="8,4.5"/>
<line x1="82.30" y1="221.41" x2="100.70" y2="221.41" stroke="#79a8cc" stroke-width="1.9"/>
<line x1="100.70" y1="221.41" x2="115.80" y2="199.18" stroke="#79a8cc" stroke-width="1.7" stroke-dasharray="8,4.5"/>
<line x1="115.80" y1="199.18" x2="132.60" y2="199.18" stroke="#79a8cc" stroke-width="1.9"/>
<line x1="132.60" y1="199.18" x2="147.70" y2="248.58" stroke="#79a8cc" stroke-width="1.7" stroke-dasharray="8,4.5"/>
<line x1="147.70" y1="248.58" x2="166.20" y2="248.58" stroke="#79a8cc" stroke-width="1.9"/>
<line x1="166.20" y1="248.58" x2="181.30" y2="189.91" stroke="#79a8cc" stroke-width="1.7" stroke-dasharray="8,4.5"/>
<line x1="181.30" y1="189.91" x2="198.10" y2="189.91" stroke="#79a8cc" stroke-width="1.9"/>
<line x1="49.70" y1="168.30" x2="67.20" y2="168.30" stroke="#9b78a9" stroke-width="1.9"/>
<line x1="67.20" y1="168.30" x2="82.30" y2="222.64" stroke="#9b78a9" stroke-width="1.7" stroke-dasharray="8,4.5"/>
<line x1="82.30" y1="222.64" x2="100.70" y2="222.64" stroke="#9b78a9" stroke-width="1.9"/>
<line x1="100.70" y1="222.64" x2="115.80" y2="200.41" stroke="#9b78a9" stroke-width="1.7" stroke-dasharray="8,4.5"/>
<line x1="115.80" y1="200.41" x2="132.60" y2="200.41" stroke="#9b78a9" stroke-width="1.9"/>
<line x1="132.60" y1="200.41" x2="147.70" y2="241.17" stroke="#9b78a9" stroke-width="1.7" stroke-dasharray="8,4.5"/>
<line x1="147.70" y1="241.17" x2="166.20" y2="241.17" stroke="#9b78a9" stroke-width="1.9"/>
<line x1="166.20" y1="241.17" x2="181.30" y2="189.91" stroke="#9b78a9" stroke-width="1.7" stroke-dasharray="8,4.5"/>
<line x1="181.30" y1="189.91" x2="198.10" y2="189.91" stroke="#9b78a9" stroke-width="1.9"/>
<rect x="33.50" y="156.80" width="180.70" height="110.20" fill="none" stroke="#111" stroke-width="1.5"/>
<text x="41.50" y="163.50" font-size="8.3" text-anchor="start" font-weight="bold" fill="#111" stroke="#111" stroke-width="0.14">*+C<tspan font-size="5.8" dy="2">3</tspan><tspan dy="-2">H</tspan><tspan font-size="5.8" dy="2">6</tspan><tspan dy="-2">O</tspan></text>
<text x="77.50" y="232.50" font-size="8.3" text-anchor="start" font-weight="bold" fill="#111" stroke="#111" stroke-width="0.14">*C<tspan font-size="5.8" dy="2">3</tspan><tspan dy="-2">H</tspan><tspan font-size="5.8" dy="2">6</tspan><tspan dy="-2">O</tspan></text>
<text x="108.00" y="194.50" font-size="8.3" text-anchor="start" font-weight="bold" fill="#111" stroke="#111" stroke-width="0.14">*C<tspan font-size="5.8" dy="2">3</tspan><tspan dy="-2">H</tspan><tspan font-size="5.8" dy="2">7</tspan><tspan dy="-2">O</tspan></text>
<text x="141.00" y="257.00" font-size="8.3" text-anchor="start" font-weight="bold" fill="#111" stroke="#111" stroke-width="0.14">*C<tspan font-size="5.8" dy="2">3</tspan><tspan dy="-2">H</tspan><tspan font-size="5.8" dy="2">8</tspan><tspan dy="-2">O</tspan></text>
<text x="172.50" y="185.00" font-size="8.3" text-anchor="start" font-weight="bold" fill="#111" stroke="#111" stroke-width="0.14">*+C<tspan font-size="5.8" dy="2">3</tspan><tspan dy="-2">H</tspan><tspan font-size="5.8" dy="2">8</tspan><tspan dy="-2">O</tspan></text>
<line x1="37.60" y1="245.60" x2="50.40" y2="245.60" stroke="#9b78a9" stroke-width="1.5"/>
<text x="56.30" y="248.40" font-size="8.5" text-anchor="start" font-weight="bold" fill="#111" stroke="#111" stroke-width="0.14">hcp Ni (0001)</text>
<line x1="37.60" y1="255.60" x2="50.40" y2="255.60" stroke="#79a8cc" stroke-width="1.5"/>
<text x="56.30" y="258.40" font-size="8.5" text-anchor="start" font-weight="bold" fill="#111" stroke="#111" stroke-width="0.14">fcc Ni (111)</text>
<text x="234.00" y="158.80" font-size="12.5" text-anchor="start" font-weight="bold" fill="#111" stroke="#111" stroke-width="0.14">e</text>
<rect x="291.50" y="212.10" width="16.70" height="54.90" fill="#8f6c98" stroke="#111" stroke-width="1.2"/>
<rect x="311.00" y="224.45" width="17.00" height="42.55" fill="#769dbd" stroke="#111" stroke-width="1.2"/>
<rect x="382.00" y="203.87" width="17.20" height="63.13" fill="#8f6c98" stroke="#111" stroke-width="1.2"/>
<rect x="402.00" y="194.26" width="17.40" height="72.74" fill="#769dbd" stroke="#111" stroke-width="1.2"/>
<rect x="263.60" y="157.20" width="182.40" height="109.80" fill="none" stroke="#111" stroke-width="1.5"/>
<line x1="263.60" y1="157.20" x2="261.60" y2="157.20" stroke="#111" stroke-width="1.0"/>
<text x="260.80" y="160.50" font-size="9.2" text-anchor="end" font-weight="bold" fill="#111" stroke="#111" stroke-width="0.14">-1.0</text>
<line x1="263.60" y1="184.65" x2="261.60" y2="184.65" stroke="#111" stroke-width="1.0"/>
<text x="260.80" y="187.95" font-size="9.2" text-anchor="end" font-weight="bold" fill="#111" stroke="#111" stroke-width="0.14">-0.9</text>
<line x1="263.60" y1="212.10" x2="261.60" y2="212.10" stroke="#111" stroke-width="1.0"/>
<text x="260.80" y="215.40" font-size="9.2" text-anchor="end" font-weight="bold" fill="#111" stroke="#111" stroke-width="0.14">-0.8</text>
<line x1="263.60" y1="239.55" x2="261.60" y2="239.55" stroke="#111" stroke-width="1.0"/>
<text x="260.80" y="242.85" font-size="9.2" text-anchor="end" font-weight="bold" fill="#111" stroke="#111" stroke-width="0.14">-0.7</text>
<line x1="263.60" y1="267.00" x2="261.60" y2="267.00" stroke="#111" stroke-width="1.0"/>
<text x="260.80" y="270.30" font-size="9.2" text-anchor="end" font-weight="bold" fill="#111" stroke="#111" stroke-width="0.14">-0.6</text>
<line x1="263.60" y1="170.93" x2="262.30" y2="170.93" stroke="#111" stroke-width="1.0"/>
<line x1="263.60" y1="198.38" x2="262.30" y2="198.38" stroke="#111" stroke-width="1.0"/>
<line x1="263.60" y1="225.82" x2="262.30" y2="225.82" stroke="#111" stroke-width="1.0"/>
<line x1="263.60" y1="253.27" x2="262.30" y2="253.27" stroke="#111" stroke-width="1.0"/>
<rect x="267.80" y="161.20" width="14.20" height="7.00" fill="#8f6c98" stroke="#111" stroke-width="1.0"/>
<text x="285.60" y="167.60" font-size="8.4" text-anchor="start" font-weight="bold" fill="#111" stroke="#111" stroke-width="0.14">hcp Ni</text>
<rect x="267.80" y="171.20" width="14.20" height="7.00" fill="#769dbd" stroke="#111" stroke-width="1.0"/>
<text x="285.60" y="177.60" font-size="8.4" text-anchor="start" font-weight="bold" fill="#111" stroke="#111" stroke-width="0.14">fcc Ni</text>
<text x="241.00" y="211.50" font-size="9.4" text-anchor="middle" font-weight="bold" fill="#111" stroke="#111" stroke-width="0.14" transform="rotate(-90 241.0 211.5)">Adsorption energy (eV)</text>
<line x1="309.60" y1="267.00" x2="309.60" y2="269.00" stroke="#111" stroke-width="1.0"/>
<line x1="401.30" y1="267.00" x2="401.30" y2="269.00" stroke="#111" stroke-width="1.0"/>
<text x="309.60" y="278.20" font-size="9.2" text-anchor="middle" font-weight="bold" fill="#111" stroke="#111" stroke-width="0.14">C<tspan font-size="5.8" dy="2">3</tspan><tspan dy="-2">H</tspan><tspan font-size="5.8" dy="2">6</tspan><tspan dy="-2">O</tspan></text>
<text x="401.30" y="278.20" font-size="9.2" text-anchor="middle" font-weight="bold" fill="#111" stroke="#111" stroke-width="0.14">C<tspan font-size="5.8" dy="2">3</tspan><tspan dy="-2">H</tspan><tspan font-size="5.8" dy="2">8</tspan><tspan dy="-2">O</tspan></text>
<text x="466.00" y="158.00" font-size="12.5" text-anchor="start" font-weight="bold" fill="#111" stroke="#111" stroke-width="0.14">f</text>
<line x1="494.50" y1="163.48" x2="492.50" y2="163.48" stroke="#111" stroke-width="1.0"/>
<text x="490.80" y="166.78" font-size="9.2" text-anchor="end" font-weight="bold" fill="#111" stroke="#111" stroke-width="0.14">0.8</text>
<line x1="494.50" y1="195.24" x2="492.50" y2="195.24" stroke="#111" stroke-width="1.0"/>
<text x="490.80" y="198.54" font-size="9.2" text-anchor="end" font-weight="bold" fill="#111" stroke="#111" stroke-width="0.14">0.4</text>
<line x1="494.50" y1="227.00" x2="492.50" y2="227.00" stroke="#111" stroke-width="1.0"/>
<text x="490.80" y="230.30" font-size="9.2" text-anchor="end" font-weight="bold" fill="#111" stroke="#111" stroke-width="0.14">0.0</text>
<line x1="494.50" y1="258.76" x2="492.50" y2="258.76" stroke="#111" stroke-width="1.0"/>
<text x="490.80" y="262.06" font-size="9.2" text-anchor="end" font-weight="bold" fill="#111" stroke="#111" stroke-width="0.14">-0.4</text>
<line x1="494.50" y1="179.36" x2="493.20" y2="179.36" stroke="#111" stroke-width="1.0"/>
<line x1="494.50" y1="211.12" x2="493.20" y2="211.12" stroke="#111" stroke-width="1.0"/>
<line x1="494.50" y1="242.88" x2="493.20" y2="242.88" stroke="#111" stroke-width="1.0"/>
<text x="468.50" y="207.30" font-size="9.3" text-anchor="middle" font-weight="bold" fill="#111" stroke="#111" stroke-width="0.14" transform="rotate(-90 468.5 207.3)">Free energy (eV)</text>
<text x="587.50" y="278.30" font-size="9.3" text-anchor="middle" font-weight="bold" fill="#111" stroke="#111" stroke-width="0.14">Reaction coordinate</text>
<line x1="510.00" y1="227.00" x2="541.50" y2="227.00" stroke="#79a8cc" stroke-width="1.9"/>
<line x1="541.50" y1="227.00" x2="571.70" y2="165.86" stroke="#79a8cc" stroke-width="1.7" stroke-dasharray="7.5,4.8"/>
<line x1="571.70" y1="165.86" x2="603.60" y2="165.86" stroke="#79a8cc" stroke-width="1.9"/>
<line x1="603.60" y1="165.86" x2="633.50" y2="260.35" stroke="#79a8cc" stroke-width="1.7" stroke-dasharray="7.5,4.8"/>
<line x1="633.50" y1="260.35" x2="665.30" y2="260.35" stroke="#79a8cc" stroke-width="1.9"/>
<line x1="510.00" y1="227.00" x2="541.50" y2="227.00" stroke="#9b78a9" stroke-width="1.9"/>
<line x1="541.50" y1="227.00" x2="571.70" y2="167.45" stroke="#9b78a9" stroke-width="1.7" stroke-dasharray="7.5,4.8"/>
<line x1="571.70" y1="167.45" x2="603.60" y2="167.45" stroke="#9b78a9" stroke-width="1.9"/>
<line x1="603.60" y1="167.45" x2="633.50" y2="254.00" stroke="#9b78a9" stroke-width="1.7" stroke-dasharray="7.5,4.8"/>
<line x1="633.50" y1="254.00" x2="665.30" y2="254.00" stroke="#9b78a9" stroke-width="1.9"/>
<rect x="494.50" y="156.00" width="185.50" height="110.50" fill="none" stroke="#111" stroke-width="1.5"/>
<text x="514.00" y="223.00" font-size="7.5" text-anchor="start" font-weight="bold" fill="#111" stroke="#111" stroke-width="0.14">*H<tspan font-size="5.3" dy="2">2</tspan><tspan dy="-2">O</tspan></text>
<text x="582.20" y="177.80" font-size="7.6" text-anchor="start" font-weight="bold" fill="#111" stroke="#111" stroke-width="0.14">TS</text>
<text x="636.70" y="251.00" font-size="7.5" text-anchor="start" font-weight="bold" fill="#111" stroke="#111" stroke-width="0.14">*H+*OH</text>
<line x1="503.70" y1="247.40" x2="511.00" y2="247.40" stroke="#9b78a9" stroke-width="1.5"/>
<text x="513.60" y="250.00" font-size="7.4" text-anchor="start" font-weight="bold" fill="#111" stroke="#111" stroke-width="0.14">hcp Ni (0001)</text>
<line x1="503.70" y1="256.60" x2="511.00" y2="256.60" stroke="#79a8cc" stroke-width="1.5"/>
<text x="513.60" y="259.20" font-size="7.4" text-anchor="start" font-weight="bold" fill="#111" stroke="#111" stroke-width="0.14">fcc Ni (111)</text>
<text x="10.00" y="304.50" font-size="12.5" text-anchor="start" font-weight="bold" fill="#111" stroke="#111" stroke-width="0.14">g</text>
<polyline points="35.20,306.67 35.53,306.64 35.87,306.67 36.20,306.78 36.53,306.85 36.86,306.85 37.20,307.01 37.53,307.07 37.86,307.15 38.19,307.30 38.53,307.41 38.86,307.43 39.19,307.50 39.53,307.66 39.86,307.74 40.19,307.78 40.52,307.87 40.85,307.89 41.19,308.00 41.52,308.03 41.85,308.11 42.19,308.05 42.52,308.03 42.85,308.16 43.18,308.12 43.51,308.16 43.85,308.17 44.18,308.20 44.51,308.16 44.84,308.28 45.18,308.28 45.51,308.30 45.84,308.32 46.17,308.37 46.51,308.45 46.84,308.54 47.17,308.61 47.50,308.74 47.84,308.88 48.17,308.90 48.50,309.00 48.83,308.99 49.17,309.19 49.50,309.26 49.83,309.40 50.16,309.43 50.50,309.57 50.83,309.64 51.16,309.78 51.50,309.82 51.83,309.97 52.16,310.07 52.49,310.10 52.82,310.18 53.16,310.29 53.49,310.34 53.82,310.48 54.16,310.54 54.49,310.53 54.82,310.62 55.15,310.57 55.48,310.74 55.82,310.73 56.15,310.67 56.48,310.69 56.81,310.84 57.15,310.84 57.48,310.82 57.81,310.78 58.14,310.75 58.48,310.78 58.81,310.83 59.14,310.77 59.47,310.66 59.81,310.66 60.14,310.61 60.47,310.70 60.80,310.66 61.14,310.64 61.47,310.52 61.80,310.46 62.13,310.37 62.47,310.35 62.80,310.32 63.13,310.27 63.46,310.21 63.80,310.22 64.13,310.18 64.46,310.05 64.79,310.06 65.13,309.92 65.46,309.85 65.79,309.88 66.12,309.71 66.46,309.65 66.79,309.74 67.12,309.61 67.45,309.54 67.79,309.55 68.12,309.52 68.45,309.39 68.78,309.42 69.12,309.27 69.45,309.35 69.78,309.24 70.11,309.21 70.45,309.12 70.78,309.10 71.11,309.13 71.44,309.07 71.78,309.14 72.11,309.19 72.44,309.07 72.77,309.14 73.11,309.11 73.44,309.10 73.77,309.10 74.10,309.02 74.44,309.03 74.77,308.86 75.10,308.89 75.43,308.79 75.77,308.66 76.10,308.58 76.43,308.61 76.77,308.47 77.10,308.35 77.43,308.25 77.76,308.21 78.09,308.07 78.43,307.91 78.76,307.93 79.09,307.82 79.42,307.72 79.76,307.63 80.09,307.54 80.42,307.42 80.75,307.46 81.09,307.36 81.42,307.23 81.75,307.30 82.08,307.21 82.42,307.13 82.75,307.26 83.08,307.16 83.41,307.19 83.75,307.14 84.08,307.21 84.41,307.21 84.74,307.26 85.08,307.28 85.41,307.27 85.74,307.26 86.07,307.30 86.41,307.66 86.74,308.23 87.07,309.41 87.41,310.69 87.74,311.21 88.07,310.69 88.40,309.39 88.73,308.26 89.07,307.54 89.40,307.34 89.73,307.23 90.06,307.31 90.40,307.23 90.73,307.23 91.06,307.40 91.39,307.64 91.73,308.48 92.06,309.41 92.39,309.84 92.72,309.45 93.06,308.52 93.39,307.68 93.72,307.42 94.05,307.34 94.39,307.40 94.72,307.41 95.05,307.27 95.38,307.32 95.72,307.39 96.05,307.34 96.38,307.36 96.71,307.37 97.05,307.28 97.38,307.29 97.71,307.43 98.05,307.36 98.38,307.37 98.71,307.39 99.04,307.42 99.38,307.45 99.71,307.32 100.04,307.41 100.37,307.31 100.70,307.40 101.04,307.45 101.37,307.39 101.70,307.38 102.03,307.46 102.37,307.43 102.70,307.47 103.03,307.41 103.36,307.37 103.70,307.43 104.03,307.40 104.36,307.32 104.69,307.35 105.03,307.48 105.36,307.43 105.69,307.34 106.02,307.45 106.36,307.46 106.69,307.35 107.02,307.50 107.35,307.37 107.69,307.43 108.02,307.47 108.35,307.44 108.69,307.42 109.02,307.44 109.35,307.47 109.68,307.53 110.02,307.52 110.35,307.54 110.68,307.52 111.01,307.47 111.34,307.46 111.68,307.55 112.01,307.56 112.34,307.46 112.67,307.55 113.01,307.48 113.34,307.44 113.67,307.51 114.00,307.58 114.34,307.53 114.67,307.58 115.00,307.59 115.33,307.59 115.67,307.51 116.00,307.62 116.33,307.49 116.66,307.56 117.00,307.50 117.33,307.55 117.66,307.63 117.99,307.62 118.33,307.66 118.66,307.59 118.99,307.59 119.32,307.53 119.66,307.59 119.99,307.66 120.32,307.57 120.66,307.65 120.99,307.57 121.32,307.65 121.65,307.55 121.98,307.67 122.32,307.54 122.65,307.54 122.98,307.65 123.31,307.80 123.65,308.14 123.98,308.81 124.31,309.79 124.64,310.36 124.98,310.25 125.31,309.42 125.64,308.47 125.97,307.95 126.31,308.07 126.64,308.40 126.97,308.28 127.31,307.73 127.64,307.33 127.97,307.08 128.30,307.09 128.63,306.94 128.97,307.05 129.30,307.06 129.63,307.01 129.97,307.02 130.30,307.08 130.63,306.95 130.96,306.94 131.29,307.01 131.63,307.05 131.96,307.02 132.29,307.01 132.62,307.01 132.96,307.02 133.29,307.09 133.62,306.96 133.95,307.06 134.29,306.98 134.62,307.10 134.95,307.02 135.28,307.11 135.62,307.04 135.95,307.10 136.28,307.09 136.62,307.16 136.95,307.10 137.28,307.11 137.61,307.12 137.94,307.09 138.28,307.21 138.61,307.12 138.94,307.10 139.28,307.12 139.61,307.21 139.94,307.25 140.27,307.21 140.60,307.28 140.94,307.17 141.27,307.29 141.60,307.28 141.94,307.21 142.27,307.20 142.60,307.26 142.93,307.28 143.26,307.30 143.60,307.35 143.93,307.28 144.26,307.30 144.59,307.32 144.93,307.31 145.26,307.37 145.59,307.40 145.93,307.36 146.26,307.35 146.59,307.46 146.92,307.37 147.25,307.51 147.59,307.48 147.92,307.43 148.25,307.41 148.59,307.55 148.92,307.44 149.25,307.56 149.58,307.54 149.91,307.58 150.25,307.51 150.58,307.61 150.91,307.54 151.25,307.61 151.58,307.68 151.91,307.63 152.24,307.57 152.57,307.59 152.91,307.63 153.24,307.71 153.57,307.71 153.91,307.66 154.24,307.70 154.57,307.67 154.90,307.70 155.24,307.68 155.57,307.79 155.90,307.70 156.23,307.70 156.56,307.76 156.90,307.70 157.23,307.69 157.56,307.75 157.90,307.81 158.23,307.75 158.56,307.74 158.89,307.74 159.22,307.80 159.56,307.75 159.89,307.79 160.22,307.79 160.56,307.72 160.89,307.77 161.22,307.85 161.55,307.75 161.88,307.84 162.22,307.73 162.55,307.80 162.88,307.79 163.22,307.83 163.55,307.74 163.88,307.77 164.21,307.83 164.54,307.93 164.88,307.88 165.21,307.96 165.54,307.93 165.88,308.03 166.21,307.91 166.54,308.06 166.87,307.98 167.20,307.99 167.54,308.07 167.87,308.07 168.20,308.19 168.53,308.23 168.87,308.27 169.20,308.32 169.53,308.54 169.87,308.89 170.20,309.33 170.53,309.90 170.86,310.75 171.19,312.07 171.53,313.52 171.86,313.88 172.19,313.03 172.53,312.07 172.86,311.31 173.19,310.68 173.52,310.18 173.85,309.70 174.19,309.18 174.52,308.91 174.85,308.78 175.19,308.71 175.52,308.73 175.85,308.55 176.18,308.63 176.51,308.60 176.85,308.45 177.18,308.45 177.51,308.37 177.84,308.12 178.18,308.08 178.51,307.90 178.84,307.80 179.18,307.54 179.51,307.47 179.84,307.21 180.17,307.07 180.50,307.00 180.84,306.87 181.17,306.78 181.50,306.66 181.84,306.73 182.17,306.60 182.50,306.60" fill="none" stroke="#6a4b7b" stroke-width="1.6" stroke-linejoin="round"/>
<polyline points="35.20,322.62 35.53,322.74 35.87,322.67 36.20,322.85 36.53,322.79 36.86,322.97 37.20,322.97 37.53,323.08 37.86,323.10 38.19,323.28 38.53,323.27 38.86,323.44 39.19,323.51 39.53,323.63 39.86,323.72 40.19,323.77 40.52,323.73 40.85,323.90 41.19,323.84 41.52,323.99 41.85,324.05 42.19,323.95 42.52,323.95 42.85,324.07 43.18,324.00 43.51,324.07 43.85,324.11 44.18,324.15 44.51,324.11 44.84,324.20 45.18,324.25 45.51,324.27 45.84,324.26 46.17,324.40 46.51,324.39 46.84,324.53 47.17,324.52 47.50,324.61 47.84,324.62 48.17,324.71 48.50,324.93 48.83,324.94 49.17,325.07 49.50,325.12 49.83,325.25 50.16,325.31 50.50,325.34 50.83,325.46 51.16,325.60 51.50,325.61 51.83,325.83 52.16,325.77 52.49,325.93 52.82,326.06 53.16,326.11 53.49,326.09 53.82,326.15 54.16,326.31 54.49,326.32 54.82,326.32 55.15,326.37 55.48,326.50 55.82,326.43 56.15,326.50 56.48,326.63 56.81,326.54 57.15,326.64 57.48,326.51 57.81,326.54 58.14,326.51 58.48,326.61 58.81,326.57 59.14,326.59 59.47,326.57 59.81,326.54 60.14,326.41 60.47,326.44 60.80,326.33 61.14,326.42 61.47,326.31 61.80,326.29 62.13,326.31 62.47,326.28 62.80,326.17 63.13,326.09 63.46,326.11 63.80,326.06 64.13,325.90 64.46,325.89 64.79,325.91 65.13,325.86 65.46,325.79 65.79,325.67 66.12,325.56 66.46,325.63 66.79,325.46 67.12,325.48 67.45,325.39 67.79,325.42 68.12,325.30 68.45,325.25 68.78,325.29 69.12,325.23 69.45,325.24 69.78,325.06 70.11,325.03 70.45,325.09 70.78,325.04 71.11,325.08 71.44,325.00 71.78,324.92 72.11,324.98 72.44,324.94 72.77,325.02 73.11,325.02 73.44,325.01 73.77,324.87 74.10,324.91 74.44,324.81 74.77,324.88 75.10,324.69 75.43,324.70 75.77,324.64 76.10,324.48 76.43,324.45 76.77,324.29 77.10,324.19 77.43,324.13 77.76,324.00 78.09,323.97 78.43,323.91 78.76,323.86 79.09,323.67 79.42,323.62 79.76,323.57 80.09,323.44 80.42,323.37 80.75,323.32 81.09,323.34 81.42,323.23 81.75,323.26 82.08,323.13 82.42,323.14 82.75,323.14 83.08,323.13 83.41,323.12 83.75,323.15 84.08,323.22 84.41,323.20 84.74,323.25 85.08,323.15 85.41,323.15 85.74,323.16 86.07,323.28 86.41,323.48 86.74,324.24 87.07,325.28 87.41,326.40 87.74,327.00 88.07,326.47 88.40,325.26 88.73,324.18 89.07,323.60 89.40,323.39 89.73,323.26 90.06,323.19 90.40,323.16 90.73,323.22 91.06,323.29 91.39,323.62 91.73,324.32 92.06,325.23 92.39,325.68 92.72,325.34 93.06,324.42 93.39,323.70 93.72,323.44 94.05,323.31 94.39,323.33 94.72,323.29 95.05,323.33 95.38,323.36 95.72,323.34 96.05,323.36 96.38,323.33 96.71,323.30 97.05,323.37 97.38,323.39 97.71,323.29 98.05,323.28 98.38,323.26 98.71,323.30 99.04,323.29 99.38,323.30 99.71,323.30 100.04,323.32 100.37,323.30 100.70,323.43 101.04,323.29 101.37,323.28 101.70,323.43 102.03,323.34 102.37,323.40 102.70,323.33 103.03,323.28 103.36,323.29 103.70,323.43 104.03,323.29 104.36,323.35 104.69,323.33 105.03,323.39 105.36,323.35 105.69,323.42 106.02,323.33 106.36,323.38 106.69,323.45 107.02,323.39 107.35,323.46 107.69,323.32 108.02,323.45 108.35,323.38 108.69,323.48 109.02,323.44 109.35,323.37 109.68,323.45 110.02,323.36 110.35,323.43 110.68,323.46 111.01,323.38 111.34,323.36 111.68,323.49 112.01,323.40 112.34,323.49 112.67,323.45 113.01,323.41 113.34,323.52 113.67,323.45 114.00,323.44 114.34,323.54 114.67,323.56 115.00,323.46 115.33,323.57 115.67,323.44 116.00,323.55 116.33,323.52 116.66,323.47 117.00,323.50 117.33,323.49 117.66,323.55 117.99,323.51 118.33,323.52 118.66,323.56 118.99,323.51 119.32,323.47 119.66,323.54 119.99,323.60 120.32,323.50 120.66,323.51 120.99,323.61 121.32,323.49 121.65,323.62 121.98,323.52 122.32,323.50 122.65,323.59 122.98,323.65 123.31,323.69 123.65,324.00 123.98,324.65 124.31,325.52 124.64,326.25 124.98,326.14 125.31,325.28 125.64,324.42 125.97,324.00 126.31,324.07 126.64,324.33 126.97,324.25 127.31,323.66 127.64,323.35 127.97,323.10 128.30,322.99 128.63,323.02 128.97,322.95 129.30,322.97 129.63,323.03 129.97,323.03 130.30,323.00 130.63,323.03 130.96,323.04 131.29,322.97 131.63,322.92 131.96,323.06 132.29,322.92 132.62,322.99 132.96,322.94 133.29,323.01 133.62,323.06 133.95,322.94 134.29,323.02 134.62,323.01 134.95,323.06 135.28,323.10 135.62,323.07 135.95,322.98 136.28,323.04 136.62,323.06 136.95,323.02 137.28,323.14 137.61,323.07 137.94,323.08 138.28,323.06 138.61,323.12 138.94,323.18 139.28,323.07 139.61,323.15 139.94,323.12 140.27,323.10 140.60,323.16 140.94,323.21 141.27,323.22 141.60,323.29 141.94,323.25 142.27,323.30 142.60,323.28 142.93,323.28 143.26,323.33 143.60,323.34 143.93,323.33 144.26,323.27 144.59,323.28 144.93,323.38 145.26,323.26 145.59,323.33 145.93,323.41 146.26,323.34 146.59,323.38 146.92,323.37 147.25,323.43 147.59,323.47 147.92,323.36 148.25,323.43 148.59,323.51 148.92,323.45 149.25,323.55 149.58,323.45 149.91,323.50 150.25,323.46 150.58,323.58 150.91,323.53 151.25,323.60 151.58,323.58 151.91,323.53 152.24,323.63 152.57,323.51 152.91,323.66 153.24,323.65 153.57,323.57 153.91,323.63 154.24,323.60 154.57,323.63 154.90,323.72 155.24,323.65 155.57,323.67 155.90,323.59 156.23,323.60 156.56,323.68 156.90,323.67 157.23,323.76 157.56,323.71 157.90,323.77 158.23,323.72 158.56,323.78 158.89,323.69 159.22,323.65 159.56,323.77 159.89,323.75 160.22,323.68 160.56,323.69 160.89,323.73 161.22,323.80 161.55,323.77 161.88,323.73 162.22,323.75 162.55,323.72 162.88,323.72 163.22,323.70 163.55,323.79 163.88,323.69 164.21,323.79 164.54,323.73 164.88,323.76 165.21,323.88 165.54,323.92 165.88,323.88 166.21,323.98 166.54,323.96 166.87,323.95 167.20,323.98 167.54,323.91 167.87,323.94 168.20,324.08 168.53,324.06 168.87,324.23 169.20,324.24 169.53,324.44 169.87,324.74 170.20,325.29 170.53,325.79 170.86,326.55 171.19,327.77 171.53,329.22 171.86,329.50 172.19,328.80 172.53,327.67 172.86,327.06 173.19,326.52 173.52,325.90 173.85,325.49 174.19,325.14 174.52,324.85 174.85,324.68 175.19,324.66 175.52,324.51 175.85,324.53 176.18,324.42 176.51,324.47 176.85,324.47 177.18,324.30 177.51,324.26 177.84,324.08 178.18,323.96 178.51,323.83 178.84,323.76 179.18,323.52 179.51,323.33 179.84,323.26 180.17,323.13 180.50,323.01 180.84,322.87 181.17,322.75 181.50,322.74 181.84,322.61 182.17,322.57 182.50,322.55" fill="none" stroke="#77588a" stroke-width="1.6" stroke-linejoin="round"/>
<polyline points="35.20,338.57 35.53,338.62 35.87,338.73 36.20,338.73 36.53,338.80 36.86,338.82 37.20,338.88 37.53,339.02 37.86,339.13 38.19,339.07 38.53,339.23 38.86,339.35 39.19,339.35 39.53,339.48 39.86,339.43 40.19,339.59 40.52,339.54 40.85,339.60 41.19,339.63 41.52,339.65 41.85,339.80 42.19,339.76 42.52,339.77 42.85,339.84 43.18,339.76 43.51,339.87 43.85,339.77 44.18,339.92 44.51,339.93 44.84,339.90 45.18,340.00 45.51,340.03 45.84,340.09 46.17,340.03 46.51,340.10 46.84,340.14 47.17,340.22 47.50,340.30 47.84,340.42 48.17,340.40 48.50,340.51 48.83,340.54 49.17,340.64 49.50,340.65 49.83,340.81 50.16,340.90 50.50,340.97 50.83,341.09 51.16,341.11 51.50,341.15 51.83,341.33 52.16,341.31 52.49,341.35 52.82,341.47 53.16,341.56 53.49,341.55 53.82,341.60 54.16,341.63 54.49,341.75 54.82,341.77 55.15,341.88 55.48,341.81 55.82,341.91 56.15,341.86 56.48,341.89 56.81,341.89 57.15,341.98 57.48,342.00 57.81,341.95 58.14,342.01 58.48,341.99 58.81,341.99 59.14,341.94 59.47,341.90 59.81,341.87 60.14,341.91 60.47,341.80 60.80,341.77 61.14,341.86 61.47,341.81 61.80,341.73 62.13,341.73 62.47,341.56 62.80,341.64 63.13,341.57 63.46,341.47 63.80,341.43 64.13,341.45 64.46,341.44 64.79,341.37 65.13,341.21 65.46,341.25 65.79,341.16 66.12,341.10 66.46,341.03 66.79,341.06 67.12,340.97 67.45,340.94 67.79,340.93 68.12,340.95 68.45,340.81 68.78,340.83 69.12,340.81 69.45,340.79 69.78,340.78 70.11,340.66 70.45,340.73 70.78,340.59 71.11,340.63 71.44,340.66 71.78,340.68 72.11,340.58 72.44,340.63 72.77,340.63 73.11,340.52 73.44,340.62 73.77,340.62 74.10,340.48 74.44,340.47 74.77,340.44 75.10,340.47 75.43,340.42 75.77,340.24 76.10,340.20 76.43,340.09 76.77,340.00 77.10,339.95 77.43,339.99 77.76,339.90 78.09,339.71 78.43,339.70 78.76,339.63 79.09,339.52 79.42,339.52 79.76,339.33 80.09,339.30 80.42,339.21 80.75,339.29 81.09,339.23 81.42,339.14 81.75,339.05 82.08,339.15 82.42,339.13 82.75,339.14 83.08,339.15 83.41,339.11 83.75,339.08 84.08,339.13 84.41,339.02 84.74,339.14 85.08,339.05 85.41,339.08 85.74,339.16 86.07,339.09 86.41,339.37 86.74,339.99 87.07,340.85 87.41,341.93 87.74,342.34 88.07,341.82 88.40,340.88 88.73,339.93 89.07,339.44 89.40,339.23 89.73,339.14 90.06,339.06 90.40,339.19 90.73,339.10 91.06,339.24 91.39,339.52 91.73,340.05 92.06,340.77 92.39,341.24 92.72,340.79 93.06,340.02 93.39,339.45 93.72,339.20 94.05,339.20 94.39,339.22 94.72,339.18 95.05,339.26 95.38,339.12 95.72,339.17 96.05,339.17 96.38,339.21 96.71,339.23 97.05,339.17 97.38,339.20 97.71,339.20 98.05,339.19 98.38,339.15 98.71,339.26 99.04,339.15 99.38,339.22 99.71,339.19 100.04,339.22 100.37,339.27 100.70,339.28 101.04,339.30 101.37,339.26 101.70,339.20 102.03,339.16 102.37,339.18 102.70,339.30 103.03,339.22 103.36,339.22 103.70,339.22 104.03,339.22 104.36,339.19 104.69,339.21 105.03,339.24 105.36,339.24 105.69,339.18 106.02,339.19 106.36,339.18 106.69,339.25 107.02,339.28 107.35,339.32 107.69,339.25 108.02,339.28 108.35,339.32 108.69,339.28 109.02,339.28 109.35,339.22 109.68,339.31 110.02,339.32 110.35,339.26 110.68,339.32 111.01,339.25 111.34,339.24 111.68,339.28 112.01,339.32 112.34,339.30 112.67,339.28 113.01,339.40 113.34,339.36 113.67,339.30 114.00,339.27 114.34,339.38 114.67,339.41 115.00,339.38 115.33,339.38 115.67,339.43 116.00,339.39 116.33,339.30 116.66,339.36 117.00,339.35 117.33,339.39 117.66,339.32 117.99,339.40 118.33,339.41 118.66,339.35 118.99,339.41 119.32,339.36 119.66,339.42 119.99,339.39 120.32,339.47 120.66,339.39 120.99,339.32 121.32,339.33 121.65,339.43 121.98,339.33 122.32,339.44 122.65,339.40 122.98,339.40 123.31,339.51 123.65,339.86 123.98,340.38 124.31,341.11 124.64,341.64 124.98,341.56 125.31,340.88 125.64,340.17 125.97,339.73 126.31,339.78 126.64,339.97 126.97,339.92 127.31,339.47 127.64,339.12 127.97,338.95 128.30,338.93 128.63,339.00 128.97,338.92 129.30,338.88 129.63,338.92 129.97,338.91 130.30,338.85 130.63,338.97 130.96,338.93 131.29,339.00 131.63,338.95 131.96,338.89 132.29,339.01 132.62,338.87 132.96,338.89 133.29,338.89 133.62,338.89 133.95,338.89 134.29,339.02 134.62,338.90 134.95,338.96 135.28,338.91 135.62,338.95 135.95,338.92 136.28,338.97 136.62,338.96 136.95,339.04 137.28,339.09 137.61,338.96 137.94,339.02 138.28,339.05 138.61,339.11 138.94,338.97 139.28,339.08 139.61,339.04 139.94,339.07 140.27,339.11 140.60,339.12 140.94,339.08 141.27,339.15 141.60,339.13 141.94,339.08 142.27,339.08 142.60,339.09 142.93,339.20 143.26,339.22 143.60,339.12 143.93,339.19 144.26,339.12 144.59,339.13 144.93,339.24 145.26,339.23 145.59,339.22 145.93,339.23 146.26,339.24 146.59,339.24 146.92,339.24 147.25,339.35 147.59,339.22 147.92,339.31 148.25,339.26 148.59,339.30 148.92,339.26 149.25,339.28 149.58,339.37 149.91,339.28 150.25,339.35 150.58,339.39 150.91,339.40 151.25,339.33 151.58,339.39 151.91,339.38 152.24,339.47 152.57,339.49 152.91,339.45 153.24,339.49 153.57,339.44 153.91,339.54 154.24,339.50 154.57,339.54 154.90,339.43 155.24,339.52 155.57,339.52 155.90,339.53 156.23,339.57 156.56,339.47 156.90,339.45 157.23,339.53 157.56,339.48 157.90,339.60 158.23,339.60 158.56,339.53 158.89,339.59 159.22,339.56 159.56,339.61 159.89,339.56 160.22,339.50 160.56,339.63 160.89,339.52 161.22,339.50 161.55,339.60 161.88,339.58 162.22,339.62 162.55,339.52 162.88,339.63 163.22,339.62 163.55,339.60 163.88,339.51 164.21,339.64 164.54,339.59 164.88,339.57 165.21,339.62 165.54,339.73 165.88,339.65 166.21,339.69 166.54,339.78 166.87,339.77 167.20,339.73 167.54,339.74 167.87,339.79 168.20,339.82 168.53,339.88 168.87,339.93 169.20,339.96 169.53,340.24 169.87,340.49 170.20,340.80 170.53,341.22 170.86,341.95 171.19,343.07 171.53,344.13 171.86,344.45 172.19,343.80 172.53,342.96 172.86,342.38 173.19,341.83 173.52,341.45 173.85,340.98 174.19,340.64 174.52,340.53 174.85,340.32 175.19,340.35 175.52,340.21 175.85,340.19 176.18,340.25 176.51,340.09 176.85,340.19 177.18,340.02 177.51,339.89 177.84,339.84 178.18,339.70 178.51,339.61 178.84,339.53 179.18,339.41 179.51,339.23 179.84,339.23 180.17,338.98 180.50,338.87 180.84,338.80 181.17,338.67 181.50,338.75 181.84,338.58 182.17,338.53 182.50,338.62" fill="none" stroke="#856898" stroke-width="1.6" stroke-linejoin="round"/>
<polyline points="35.20,353.81 35.53,353.79 35.87,353.88 36.20,353.87 36.53,353.90 36.86,354.01 37.20,354.02 37.53,354.09 37.86,354.17 38.19,354.31 38.53,354.30 38.86,354.36 39.19,354.37 39.53,354.45 39.86,354.48 40.19,354.62 40.52,354.68 40.85,354.71 41.19,354.67 41.52,354.75 41.85,354.71 42.19,354.81 42.52,354.84 42.85,354.72 43.18,354.71 43.51,354.86 43.85,354.81 44.18,354.86 44.51,354.89 44.84,354.90 45.18,354.82 45.51,354.87 45.84,354.93 46.17,355.05 46.51,355.07 46.84,355.03 47.17,355.07 47.50,355.23 47.84,355.29 48.17,355.21 48.50,355.32 48.83,355.34 49.17,355.45 49.50,355.45 49.83,355.57 50.16,355.60 50.50,355.64 50.83,355.85 51.16,355.78 51.50,355.97 51.83,356.00 52.16,355.99 52.49,356.05 52.82,356.11 53.16,356.14 53.49,356.24 53.82,356.21 54.16,356.33 54.49,356.35 54.82,356.34 55.15,356.50 55.48,356.42 55.82,356.50 56.15,356.53 56.48,356.55 56.81,356.53 57.15,356.52 57.48,356.52 57.81,356.57 58.14,356.45 58.48,356.53 58.81,356.56 59.14,356.49 59.47,356.48 59.81,356.50 60.14,356.49 60.47,356.40 60.80,356.42 61.14,356.43 61.47,356.37 61.80,356.28 62.13,356.38 62.47,356.24 62.80,356.26 63.13,356.13 63.46,356.19 63.80,356.14 64.13,356.16 64.46,356.01 64.79,355.94 65.13,355.95 65.46,355.93 65.79,355.93 66.12,355.83 66.46,355.87 66.79,355.85 67.12,355.68 67.45,355.80 67.79,355.62 68.12,355.62 68.45,355.56 68.78,355.65 69.12,355.65 69.45,355.51 69.78,355.54 70.11,355.58 70.45,355.53 70.78,355.43 71.11,355.45 71.44,355.51 71.78,355.50 72.11,355.43 72.44,355.44 72.77,355.36 73.11,355.40 73.44,355.46 73.77,355.32 74.10,355.32 74.44,355.35 74.77,355.23 75.10,355.22 75.43,355.26 75.77,355.12 76.10,355.12 76.43,355.13 76.77,355.00 77.10,354.97 77.43,354.80 77.76,354.81 78.09,354.75 78.43,354.68 78.76,354.61 79.09,354.49 79.42,354.52 79.76,354.42 80.09,354.43 80.42,354.31 80.75,354.37 81.09,354.27 81.42,354.30 81.75,354.22 82.08,354.17 82.42,354.18 82.75,354.15 83.08,354.19 83.41,354.17 83.75,354.15 84.08,354.27 84.41,354.27 84.74,354.19 85.08,354.20 85.41,354.25 85.74,354.23 86.07,354.25 86.41,354.44 86.74,354.94 87.07,355.57 87.41,356.43 87.74,356.74 88.07,356.46 88.40,355.58 88.73,354.89 89.07,354.40 89.40,354.26 89.73,354.31 90.06,354.19 90.40,354.21 90.73,354.29 91.06,354.25 91.39,354.46 91.73,354.97 92.06,355.64 92.39,355.89 92.72,355.59 93.06,354.93 93.39,354.49 93.72,354.31 94.05,354.29 94.39,354.24 94.72,354.28 95.05,354.32 95.38,354.25 95.72,354.32 96.05,354.33 96.38,354.36 96.71,354.33 97.05,354.32 97.38,354.32 97.71,354.28 98.05,354.37 98.38,354.26 98.71,354.29 99.04,354.25 99.38,354.31 99.71,354.38 100.04,354.34 100.37,354.24 100.70,354.38 101.04,354.25 101.37,354.27 101.70,354.32 102.03,354.24 102.37,354.37 102.70,354.35 103.03,354.39 103.36,354.34 103.70,354.31 104.03,354.28 104.36,354.29 104.69,354.34 105.03,354.38 105.36,354.28 105.69,354.33 106.02,354.35 106.36,354.29 106.69,354.37 107.02,354.30 107.35,354.31 107.69,354.29 108.02,354.41 108.35,354.27 108.69,354.32 109.02,354.37 109.35,354.35 109.68,354.31 110.02,354.36 110.35,354.36 110.68,354.37 111.01,354.36 111.34,354.32 111.68,354.41 112.01,354.35 112.34,354.43 112.67,354.36 113.01,354.45 113.34,354.35 113.67,354.42 114.00,354.47 114.34,354.37 114.67,354.45 115.00,354.42 115.33,354.33 115.67,354.43 116.00,354.40 116.33,354.35 116.66,354.47 117.00,354.46 117.33,354.50 117.66,354.37 117.99,354.41 118.33,354.45 118.66,354.41 118.99,354.38 119.32,354.42 119.66,354.43 119.99,354.44 120.32,354.44 120.66,354.43 120.99,354.45 121.32,354.48 121.65,354.41 121.98,354.45 122.32,354.51 122.65,354.50 122.98,354.52 123.31,354.62 123.65,354.78 123.98,355.30 124.31,355.90 124.64,356.25 124.98,356.24 125.31,355.65 125.64,355.06 125.97,354.67 126.31,354.83 126.64,354.94 126.97,354.87 127.31,354.56 127.64,354.30 127.97,354.20 128.30,354.14 128.63,354.10 128.97,354.03 129.30,354.07 129.63,354.08 129.97,354.04 130.30,354.13 130.63,354.03 130.96,354.07 131.29,354.14 131.63,354.02 131.96,354.06 132.29,354.14 132.62,354.14 132.96,354.07 133.29,354.11 133.62,354.09 133.95,354.02 134.29,354.15 134.62,354.15 134.95,354.16 135.28,354.05 135.62,354.11 135.95,354.16 136.28,354.17 136.62,354.18 136.95,354.05 137.28,354.16 137.61,354.11 137.94,354.08 138.28,354.15 138.61,354.09 138.94,354.13 139.28,354.16 139.61,354.16 139.94,354.15 140.27,354.19 140.60,354.20 140.94,354.15 141.27,354.17 141.60,354.19 141.94,354.15 142.27,354.24 142.60,354.30 142.93,354.21 143.26,354.32 143.60,354.24 143.93,354.26 144.26,354.32 144.59,354.28 144.93,354.30 145.26,354.37 145.59,354.24 145.93,354.31 146.26,354.30 146.59,354.34 146.92,354.35 147.25,354.38 147.59,354.33 147.92,354.44 148.25,354.45 148.59,354.43 148.92,354.41 149.25,354.45 149.58,354.34 149.91,354.43 150.25,354.42 150.58,354.40 150.91,354.47 151.25,354.43 151.58,354.52 151.91,354.40 152.24,354.43 152.57,354.47 152.91,354.42 153.24,354.42 153.57,354.52 153.91,354.46 154.24,354.45 154.57,354.54 154.90,354.57 155.24,354.54 155.57,354.55 155.90,354.50 156.23,354.60 156.56,354.59 156.90,354.59 157.23,354.55 157.56,354.51 157.90,354.55 158.23,354.54 158.56,354.58 158.89,354.51 159.22,354.52 159.56,354.58 159.89,354.51 160.22,354.52 160.56,354.58 160.89,354.57 161.22,354.63 161.55,354.66 161.88,354.59 162.22,354.60 162.55,354.57 162.88,354.60 163.22,354.56 163.55,354.65 163.88,354.60 164.21,354.57 164.54,354.61 164.88,354.69 165.21,354.57 165.54,354.74 165.88,354.72 166.21,354.69 166.54,354.67 166.87,354.68 167.20,354.71 167.54,354.79 167.87,354.79 168.20,354.78 168.53,354.79 168.87,354.85 169.20,354.89 169.53,355.07 169.87,355.33 170.20,355.51 170.53,356.05 170.86,356.45 171.19,357.37 171.53,358.29 171.86,358.58 172.19,357.96 172.53,357.32 172.86,356.75 173.19,356.50 173.52,356.15 173.85,355.83 174.19,355.55 174.52,355.29 174.85,355.25 175.19,355.18 175.52,355.18 175.85,355.11 176.18,355.14 176.51,355.04 176.85,354.95 177.18,354.92 177.51,354.99 177.84,354.80 178.18,354.69 178.51,354.60 178.84,354.62 179.18,354.50 179.51,354.34 179.84,354.18 180.17,354.20 180.50,353.99 180.84,354.03 181.17,353.91 181.50,353.85 181.84,353.75 182.17,353.83 182.50,353.86" fill="none" stroke="#9479a6" stroke-width="1.6" stroke-linejoin="round"/>
<polyline points="35.20,368.62 35.53,368.71 35.87,368.62 36.20,368.68 36.53,368.73 36.86,368.73 37.20,368.90 37.53,368.87 37.86,368.83 38.19,368.98 38.53,368.96 38.86,369.04 39.19,369.16 39.53,369.13 39.86,369.17 40.19,369.30 40.52,369.25 40.85,369.39 41.19,369.28 41.52,369.31 41.85,369.48 42.19,369.43 42.52,369.43 42.85,369.47 43.18,369.39 43.51,369.49 43.85,369.41 44.18,369.51 44.51,369.47 44.84,369.56 45.18,369.59 45.51,369.59 45.84,369.52 46.17,369.60 46.51,369.71 46.84,369.67 47.17,369.68 47.50,369.76 47.84,369.75 48.17,369.79 48.50,369.92 48.83,369.88 49.17,369.99 49.50,370.03 49.83,370.16 50.16,370.15 50.50,370.21 50.83,370.30 51.16,370.27 51.50,370.37 51.83,370.38 52.16,370.46 52.49,370.57 52.82,370.64 53.16,370.68 53.49,370.70 53.82,370.62 54.16,370.72 54.49,370.74 54.82,370.77 55.15,370.81 55.48,370.87 55.82,370.78 56.15,370.89 56.48,370.82 56.81,370.94 57.15,370.98 57.48,370.94 57.81,370.95 58.14,370.98 58.48,370.97 58.81,370.86 59.14,370.90 59.47,370.87 59.81,370.86 60.14,370.83 60.47,370.75 60.80,370.78 61.14,370.71 61.47,370.82 61.80,370.78 62.13,370.64 62.47,370.71 62.80,370.72 63.13,370.65 63.46,370.62 63.80,370.57 64.13,370.52 64.46,370.48 64.79,370.41 65.13,370.41 65.46,370.36 65.79,370.37 66.12,370.33 66.46,370.29 66.79,370.36 67.12,370.21 67.45,370.21 67.79,370.25 68.12,370.15 68.45,370.08 68.78,370.13 69.12,370.08 69.45,370.13 69.78,370.03 70.11,370.02 70.45,370.03 70.78,370.03 71.11,369.94 71.44,369.92 71.78,370.03 72.11,369.94 72.44,370.05 72.77,370.02 73.11,369.98 73.44,369.90 73.77,369.91 74.10,369.85 74.44,369.92 74.77,369.88 75.10,369.88 75.43,369.78 75.77,369.82 76.10,369.77 76.43,369.70 76.77,369.61 77.10,369.63 77.43,369.51 77.76,369.37 78.09,369.46 78.43,369.28 78.76,369.27 79.09,369.22 79.42,369.25 79.76,369.16 80.09,369.11 80.42,369.14 80.75,369.09 81.09,369.02 81.42,368.96 81.75,368.91 82.08,369.00 82.42,368.97 82.75,369.00 83.08,368.92 83.41,369.00 83.75,368.86 84.08,368.90 84.41,369.00 84.74,368.98 85.08,368.88 85.41,368.91 85.74,368.90 86.07,369.01 86.41,369.18 86.74,369.54 87.07,370.14 87.41,370.77 87.74,371.12 88.07,370.91 88.40,370.21 88.73,369.55 89.07,369.18 89.40,369.00 89.73,368.89 90.06,368.92 90.40,368.94 90.73,368.90 91.06,369.00 91.39,369.17 91.73,369.59 92.06,370.13 92.39,370.46 92.72,370.15 93.06,369.68 93.39,369.22 93.72,369.02 94.05,369.00 94.39,369.03 94.72,368.95 95.05,369.04 95.38,369.08 95.72,369.05 96.05,369.04 96.38,369.07 96.71,368.94 97.05,369.03 97.38,369.00 97.71,368.97 98.05,369.01 98.38,368.95 98.71,369.06 99.04,368.97 99.38,369.01 99.71,368.97 100.04,369.11 100.37,368.99 100.70,369.04 101.04,368.96 101.37,369.01 101.70,369.03 102.03,368.96 102.37,369.10 102.70,369.06 103.03,368.97 103.36,369.03 103.70,368.98 104.03,369.03 104.36,369.09 104.69,369.00 105.03,369.10 105.36,369.04 105.69,369.07 106.02,369.12 106.36,369.00 106.69,369.09 107.02,369.12 107.35,369.05 107.69,369.01 108.02,369.10 108.35,369.05 108.69,368.99 109.02,369.13 109.35,369.01 109.68,369.11 110.02,369.02 110.35,369.07 110.68,369.08 111.01,369.04 111.34,369.09 111.68,369.16 112.01,369.06 112.34,369.11 112.67,369.17 113.01,369.04 113.34,369.16 113.67,369.17 114.00,369.13 114.34,369.04 114.67,369.07 115.00,369.07 115.33,369.12 115.67,369.07 116.00,369.19 116.33,369.20 116.66,369.06 117.00,369.18 117.33,369.12 117.66,369.14 117.99,369.13 118.33,369.12 118.66,369.14 118.99,369.15 119.32,369.11 119.66,369.10 119.99,369.12 120.32,369.10 120.66,369.17 120.99,369.16 121.32,369.19 121.65,369.17 121.98,369.17 122.32,369.11 122.65,369.14 122.98,369.11 123.31,369.28 123.65,369.50 123.98,369.85 124.31,370.34 124.64,370.66 124.98,370.63 125.31,370.21 125.64,369.65 125.97,369.40 126.31,369.37 126.64,369.54 126.97,369.52 127.31,369.30 127.64,368.96 127.97,368.88 128.30,368.81 128.63,368.77 128.97,368.79 129.30,368.85 129.63,368.80 129.97,368.81 130.30,368.82 130.63,368.84 130.96,368.84 131.29,368.85 131.63,368.89 131.96,368.85 132.29,368.84 132.62,368.90 132.96,368.82 133.29,368.84 133.62,368.77 133.95,368.86 134.29,368.86 134.62,368.92 134.95,368.78 135.28,368.81 135.62,368.90 135.95,368.91 136.28,368.89 136.62,368.83 136.95,368.94 137.28,368.89 137.61,368.94 137.94,368.94 138.28,368.92 138.61,368.90 138.94,368.93 139.28,368.85 139.61,368.96 139.94,368.99 140.27,368.95 140.60,368.96 140.94,368.98 141.27,368.97 141.60,368.89 141.94,369.01 142.27,369.01 142.60,368.93 142.93,368.99 143.26,368.92 143.60,368.95 143.93,368.98 144.26,369.00 144.59,369.06 144.93,369.09 145.26,369.07 145.59,369.00 145.93,369.01 146.26,368.98 146.59,369.06 146.92,369.04 147.25,369.08 147.59,369.06 147.92,369.11 148.25,369.13 148.59,369.08 148.92,369.10 149.25,369.14 149.58,369.07 149.91,369.14 150.25,369.06 150.58,369.10 150.91,369.13 151.25,369.15 151.58,369.13 151.91,369.22 152.24,369.13 152.57,369.22 152.91,369.21 153.24,369.13 153.57,369.15 153.91,369.23 154.24,369.21 154.57,369.22 154.90,369.26 155.24,369.15 155.57,369.16 155.90,369.30 156.23,369.19 156.56,369.24 156.90,369.19 157.23,369.17 157.56,369.29 157.90,369.28 158.23,369.21 158.56,369.18 158.89,369.29 159.22,369.21 159.56,369.29 159.89,369.21 160.22,369.33 160.56,369.20 160.89,369.23 161.22,369.21 161.55,369.28 161.88,369.30 162.22,369.20 162.55,369.27 162.88,369.33 163.22,369.25 163.55,369.30 163.88,369.31 164.21,369.25 164.54,369.36 164.88,369.35 165.21,369.31 165.54,369.28 165.88,369.28 166.21,369.41 166.54,369.38 166.87,369.38 167.20,369.38 167.54,369.32 167.87,369.36 168.20,369.36 168.53,369.52 168.87,369.57 169.20,369.56 169.53,369.71 169.87,369.88 170.20,370.19 170.53,370.52 170.86,370.85 171.19,371.70 171.53,372.44 171.86,372.62 172.19,372.20 172.53,371.49 172.86,371.21 173.19,370.89 173.52,370.46 173.85,370.23 174.19,370.13 174.52,369.98 174.85,369.83 175.19,369.83 175.52,369.66 175.85,369.70 176.18,369.75 176.51,369.60 176.85,369.61 177.18,369.54 177.51,369.55 177.84,369.55 178.18,369.40 178.51,369.37 178.84,369.17 179.18,369.14 179.51,369.14 179.84,369.05 180.17,368.86 180.50,368.77 180.84,368.72 181.17,368.77 181.50,368.60 181.84,368.59 182.17,368.58 182.50,368.59" fill="none" stroke="#a68db5" stroke-width="1.6" stroke-linejoin="round"/>
<polyline points="35.20,383.27 35.53,383.24 35.87,383.31 36.20,383.28 36.53,383.37 36.86,383.32 37.20,383.40 37.53,383.40 37.86,383.44 38.19,383.45 38.53,383.59 38.86,383.55 39.19,383.69 39.53,383.68 39.86,383.63 40.19,383.79 40.52,383.82 40.85,383.81 41.19,383.78 41.52,383.89 41.85,383.82 42.19,383.93 42.52,383.93 42.85,383.81 43.18,383.85 43.51,383.96 43.85,383.94 44.18,383.86 44.51,383.90 44.84,383.99 45.18,383.87 45.51,383.92 45.84,384.03 46.17,384.01 46.51,384.08 46.84,384.07 47.17,384.12 47.50,384.18 47.84,384.23 48.17,384.17 48.50,384.28 48.83,384.39 49.17,384.43 49.50,384.33 49.83,384.44 50.16,384.43 50.50,384.60 50.83,384.53 51.16,384.68 51.50,384.64 51.83,384.76 52.16,384.67 52.49,384.78 52.82,384.83 53.16,384.83 53.49,384.85 53.82,384.96 54.16,384.88 54.49,385.02 54.82,385.06 55.15,385.07 55.48,385.06 55.82,385.04 56.15,385.06 56.48,385.04 56.81,385.05 57.15,385.09 57.48,385.02 57.81,385.01 58.14,385.11 58.48,385.16 58.81,385.11 59.14,385.00 59.47,385.00 59.81,384.98 60.14,385.05 60.47,385.06 60.80,385.00 61.14,384.92 61.47,385.04 61.80,384.99 62.13,384.88 62.47,384.96 62.80,384.95 63.13,384.83 63.46,384.85 63.80,384.73 64.13,384.76 64.46,384.71 64.79,384.80 65.13,384.74 65.46,384.64 65.79,384.69 66.12,384.57 66.46,384.53 66.79,384.57 67.12,384.61 67.45,384.60 67.79,384.48 68.12,384.45 68.45,384.46 68.78,384.43 69.12,384.46 69.45,384.41 69.78,384.35 70.11,384.35 70.45,384.38 70.78,384.29 71.11,384.30 71.44,384.29 71.78,384.28 72.11,384.26 72.44,384.33 72.77,384.35 73.11,384.29 73.44,384.39 73.77,384.27 74.10,384.29 74.44,384.29 74.77,384.27 75.10,384.28 75.43,384.11 75.77,384.08 76.10,384.04 76.43,384.01 76.77,384.01 77.10,383.99 77.43,383.99 77.76,383.95 78.09,383.87 78.43,383.81 78.76,383.76 79.09,383.68 79.42,383.64 79.76,383.62 80.09,383.55 80.42,383.60 80.75,383.51 81.09,383.60 81.42,383.48 81.75,383.53 82.08,383.44 82.42,383.43 82.75,383.46 83.08,383.48 83.41,383.55 83.75,383.42 84.08,383.40 84.41,383.40 84.74,383.53 85.08,383.40 85.41,383.55 85.74,383.43 86.07,383.59 86.41,383.62 86.74,384.02 87.07,384.47 87.41,385.01 87.74,385.20 88.07,385.02 88.40,384.48 88.73,384.03 89.07,383.66 89.40,383.59 89.73,383.50 90.06,383.52 90.40,383.52 90.73,383.45 91.06,383.56 91.39,383.72 91.73,384.01 92.06,384.41 92.39,384.63 92.72,384.45 93.06,384.10 93.39,383.70 93.72,383.52 94.05,383.53 94.39,383.57 94.72,383.59 95.05,383.47 95.38,383.53 95.72,383.46 96.05,383.51 96.38,383.53 96.71,383.49 97.05,383.48 97.38,383.59 97.71,383.50 98.05,383.59 98.38,383.49 98.71,383.50 99.04,383.50 99.38,383.60 99.71,383.49 100.04,383.51 100.37,383.57 100.70,383.55 101.04,383.62 101.37,383.53 101.70,383.49 102.03,383.59 102.37,383.54 102.70,383.56 103.03,383.51 103.36,383.63 103.70,383.61 104.03,383.52 104.36,383.54 104.69,383.50 105.03,383.64 105.36,383.51 105.69,383.55 106.02,383.52 106.36,383.56 106.69,383.59 107.02,383.53 107.35,383.58 107.69,383.60 108.02,383.53 108.35,383.65 108.69,383.56 109.02,383.59 109.35,383.66 109.68,383.55 110.02,383.51 110.35,383.55 110.68,383.53 111.01,383.53 111.34,383.66 111.68,383.62 112.01,383.55 112.34,383.58 112.67,383.58 113.01,383.55 113.34,383.57 113.67,383.54 114.00,383.68 114.34,383.61 114.67,383.62 115.00,383.67 115.33,383.63 115.67,383.62 116.00,383.66 116.33,383.63 116.66,383.60 117.00,383.68 117.33,383.57 117.66,383.65 117.99,383.58 118.33,383.64 118.66,383.59 118.99,383.65 119.32,383.62 119.66,383.67 119.99,383.62 120.32,383.58 120.66,383.66 120.99,383.63 121.32,383.69 121.65,383.67 121.98,383.57 122.32,383.66 122.65,383.58 122.98,383.73 123.31,383.73 123.65,383.89 123.98,384.18 124.31,384.55 124.64,384.88 124.98,384.82 125.31,384.43 125.64,384.14 125.97,383.80 126.31,383.89 126.64,383.96 126.97,384.00 127.31,383.66 127.64,383.59 127.97,383.37 128.30,383.36 128.63,383.38 128.97,383.35 129.30,383.31 129.63,383.43 129.97,383.31 130.30,383.35 130.63,383.30 130.96,383.31 131.29,383.36 131.63,383.39 131.96,383.31 132.29,383.38 132.62,383.36 132.96,383.47 133.29,383.47 133.62,383.41 133.95,383.43 134.29,383.33 134.62,383.41 134.95,383.47 135.28,383.47 135.62,383.45 135.95,383.46 136.28,383.49 136.62,383.44 136.95,383.37 137.28,383.46 137.61,383.39 137.94,383.50 138.28,383.39 138.61,383.50 138.94,383.47 139.28,383.48 139.61,383.41 139.94,383.46 140.27,383.47 140.60,383.55 140.94,383.51 141.27,383.52 141.60,383.57 141.94,383.48 142.27,383.52 142.60,383.51 142.93,383.50 143.26,383.49 143.60,383.50 143.93,383.46 144.26,383.60 144.59,383.50 144.93,383.60 145.26,383.52 145.59,383.53 145.93,383.49 146.26,383.56 146.59,383.52 146.92,383.56 147.25,383.63 147.59,383.66 147.92,383.52 148.25,383.63 148.59,383.67 148.92,383.67 149.25,383.67 149.58,383.67 149.91,383.63 150.25,383.56 150.58,383.59 150.91,383.69 151.25,383.63 151.58,383.65 151.91,383.69 152.24,383.65 152.57,383.63 152.91,383.64 153.24,383.74 153.57,383.67 153.91,383.72 154.24,383.72 154.57,383.67 154.90,383.68 155.24,383.70 155.57,383.71 155.90,383.72 156.23,383.66 156.56,383.70 156.90,383.75 157.23,383.68 157.56,383.71 157.90,383.77 158.23,383.75 158.56,383.74 158.89,383.66 159.22,383.76 159.56,383.77 159.89,383.67 160.22,383.68 160.56,383.80 160.89,383.73 161.22,383.79 161.55,383.67 161.88,383.80 162.22,383.75 162.55,383.70 162.88,383.77 163.22,383.75 163.55,383.70 163.88,383.83 164.21,383.68 164.54,383.74 164.88,383.83 165.21,383.85 165.54,383.75 165.88,383.88 166.21,383.75 166.54,383.81 166.87,383.89 167.20,383.79 167.54,383.83 167.87,383.85 168.20,383.88 168.53,383.88 168.87,383.90 169.20,383.99 169.53,384.08 169.87,384.26 170.20,384.38 170.53,384.63 170.86,385.13 171.19,385.70 171.53,386.36 171.86,386.53 172.19,386.04 172.53,385.57 172.86,385.36 173.19,385.03 173.52,384.76 173.85,384.60 174.19,384.35 174.52,384.34 174.85,384.22 175.19,384.11 175.52,384.16 175.85,384.11 176.18,384.06 176.51,384.02 176.85,384.00 177.18,384.02 177.51,383.96 177.84,383.98 178.18,383.83 178.51,383.80 178.84,383.78 179.18,383.69 179.51,383.60 179.84,383.57 180.17,383.47 180.50,383.44 180.84,383.36 181.17,383.24 181.50,383.27 181.84,383.26 182.17,383.24 182.50,383.19" fill="none" stroke="#bba6c8" stroke-width="1.6" stroke-linejoin="round"/>
<polyline points="35.20,397.54 35.53,397.64 35.87,397.70 36.20,397.73 36.53,397.70 36.86,397.71 37.20,397.70 37.53,397.72 37.86,397.85 38.19,397.76 38.53,397.85 38.86,397.86 39.19,397.91 39.53,398.03 39.86,397.92 40.19,398.05 40.52,398.07 40.85,397.99 41.19,398.03 41.52,398.06 41.85,398.06 42.19,398.10 42.52,398.17 42.85,398.20 43.18,398.14 43.51,398.12 43.85,398.15 44.18,398.11 44.51,398.16 44.84,398.14 45.18,398.18 45.51,398.19 45.84,398.23 46.17,398.25 46.51,398.28 46.84,398.27 47.17,398.29 47.50,398.33 47.84,398.38 48.17,398.33 48.50,398.45 48.83,398.49 49.17,398.45 49.50,398.59 49.83,398.59 50.16,398.65 50.50,398.62 50.83,398.74 51.16,398.66 51.50,398.74 51.83,398.77 52.16,398.76 52.49,398.82 52.82,398.92 53.16,398.80 53.49,398.95 53.82,398.88 54.16,398.96 54.49,399.01 54.82,399.00 55.15,399.06 55.48,399.07 55.82,398.96 56.15,399.01 56.48,399.10 56.81,399.10 57.15,399.07 57.48,399.00 57.81,399.02 58.14,399.04 58.48,399.07 58.81,399.10 59.14,399.01 59.47,399.07 59.81,399.06 60.14,399.01 60.47,399.07 60.80,398.96 61.14,399.03 61.47,398.93 61.80,399.00 62.13,398.94 62.47,398.90 62.80,398.96 63.13,398.87 63.46,398.92 63.80,398.85 64.13,398.76 64.46,398.78 64.79,398.75 65.13,398.71 65.46,398.67 65.79,398.75 66.12,398.71 66.46,398.72 66.79,398.65 67.12,398.58 67.45,398.69 67.79,398.66 68.12,398.66 68.45,398.57 68.78,398.53 69.12,398.62 69.45,398.47 69.78,398.54 70.11,398.46 70.45,398.48 70.78,398.57 71.11,398.55 71.44,398.49 71.78,398.41 72.11,398.48 72.44,398.54 72.77,398.53 73.11,398.40 73.44,398.43 73.77,398.46 74.10,398.38 74.44,398.41 74.77,398.42 75.10,398.35 75.43,398.41 75.77,398.41 76.10,398.27 76.43,398.28 76.77,398.28 77.10,398.16 77.43,398.18 77.76,398.15 78.09,398.16 78.43,398.09 78.76,398.10 79.09,398.04 79.42,397.92 79.76,397.99 80.09,397.92 80.42,397.90 80.75,397.87 81.09,397.87 81.42,397.83 81.75,397.81 82.08,397.88 82.42,397.76 82.75,397.79 83.08,397.79 83.41,397.73 83.75,397.75 84.08,397.81 84.41,397.89 84.74,397.82 85.08,397.77 85.41,397.74 85.74,397.79 86.07,397.92 86.41,397.92 86.74,398.24 87.07,398.61 87.41,398.96 87.74,399.29 88.07,399.02 88.40,398.52 88.73,398.26 89.07,397.98 89.40,397.80 89.73,397.82 90.06,397.82 90.40,397.79 90.73,397.86 91.06,397.93 91.39,398.01 91.73,398.19 92.06,398.66 92.39,398.77 92.72,398.53 93.06,398.30 93.39,398.06 93.72,397.94 94.05,397.93 94.39,397.86 94.72,397.79 95.05,397.92 95.38,397.89 95.72,397.94 96.05,397.94 96.38,397.89 96.71,397.80 97.05,397.93 97.38,397.80 97.71,397.86 98.05,397.86 98.38,397.82 98.71,397.84 99.04,397.91 99.38,397.82 99.71,397.90 100.04,397.83 100.37,397.82 100.70,397.95 101.04,397.84 101.37,397.80 101.70,397.90 102.03,397.88 102.37,397.89 102.70,397.95 103.03,397.85 103.36,397.89 103.70,397.93 104.03,397.83 104.36,397.90 104.69,397.85 105.03,397.95 105.36,397.81 105.69,397.83 106.02,397.92 106.36,397.82 106.69,397.91 107.02,397.86 107.35,397.91 107.69,397.91 108.02,397.92 108.35,397.96 108.69,397.84 109.02,397.83 109.35,397.87 109.68,397.83 110.02,397.88 110.35,397.98 110.68,397.86 111.01,397.89 111.34,397.83 111.68,397.94 112.01,397.90 112.34,397.92 112.67,397.98 113.01,397.88 113.34,397.94 113.67,397.88 114.00,397.99 114.34,398.00 114.67,397.90 115.00,398.00 115.33,397.88 115.67,397.86 116.00,397.92 116.33,397.90 116.66,397.89 117.00,397.91 117.33,397.89 117.66,397.91 117.99,397.97 118.33,397.90 118.66,397.96 118.99,398.00 119.32,397.95 119.66,397.88 119.99,397.91 120.32,397.89 120.66,397.91 120.99,397.98 121.32,397.98 121.65,397.94 121.98,397.88 122.32,397.96 122.65,398.02 122.98,397.95 123.31,398.01 123.65,398.14 123.98,398.37 124.31,398.78 124.64,398.86 124.98,398.88 125.31,398.67 125.64,398.21 125.97,398.17 126.31,398.14 126.64,398.22 126.97,398.25 127.31,398.08 127.64,397.79 127.97,397.73 128.30,397.68 128.63,397.72 128.97,397.75 129.30,397.72 129.63,397.76 129.97,397.66 130.30,397.67 130.63,397.73 130.96,397.71 131.29,397.73 131.63,397.77 131.96,397.76 132.29,397.67 132.62,397.68 132.96,397.67 133.29,397.79 133.62,397.82 133.95,397.81 134.29,397.75 134.62,397.80 134.95,397.77 135.28,397.69 135.62,397.70 135.95,397.81 136.28,397.77 136.62,397.80 136.95,397.76 137.28,397.74 137.61,397.74 137.94,397.78 138.28,397.78 138.61,397.80 138.94,397.79 139.28,397.84 139.61,397.73 139.94,397.87 140.27,397.76 140.60,397.80 140.94,397.78 141.27,397.74 141.60,397.75 141.94,397.75 142.27,397.83 142.60,397.78 142.93,397.86 143.26,397.86 143.60,397.91 143.93,397.81 144.26,397.82 144.59,397.90 144.93,397.91 145.26,397.92 145.59,397.94 145.93,397.94 146.26,397.81 146.59,397.89 146.92,397.92 147.25,397.96 147.59,397.90 147.92,397.87 148.25,397.84 148.59,397.87 148.92,397.86 149.25,397.92 149.58,397.87 149.91,397.99 150.25,397.88 150.58,397.96 150.91,397.91 151.25,397.91 151.58,397.90 151.91,397.94 152.24,398.00 152.57,397.97 152.91,397.96 153.24,397.92 153.57,397.94 153.91,398.03 154.24,397.91 154.57,398.01 154.90,398.03 155.24,397.99 155.57,397.96 155.90,397.95 156.23,398.03 156.56,398.02 156.90,397.95 157.23,397.98 157.56,398.05 157.90,397.93 158.23,398.07 158.56,398.03 158.89,397.96 159.22,398.08 159.56,397.99 159.89,398.04 160.22,398.01 160.56,397.96 160.89,397.99 161.22,397.96 161.55,398.05 161.88,398.09 162.22,397.95 162.55,397.97 162.88,398.01 163.22,398.03 163.55,398.01 163.88,398.06 164.21,398.11 164.54,397.98 164.88,397.99 165.21,398.05 165.54,398.09 165.88,398.11 166.21,398.08 166.54,398.15 166.87,398.17 167.20,398.17 167.54,398.09 167.87,398.20 168.20,398.14 168.53,398.19 168.87,398.22 169.20,398.14 169.53,398.37 169.87,398.45 170.20,398.59 170.53,398.80 170.86,399.05 171.19,399.54 171.53,400.01 171.86,400.14 172.19,399.85 172.53,399.47 172.86,399.28 173.19,399.01 173.52,398.77 173.85,398.70 174.19,398.56 174.52,398.50 174.85,398.40 175.19,398.26 175.52,398.26 175.85,398.38 176.18,398.33 176.51,398.27 176.85,398.32 177.18,398.17 177.51,398.25 177.84,398.11 178.18,398.03 178.51,398.11 178.84,398.06 179.18,397.87 179.51,397.92 179.84,397.91 180.17,397.85 180.50,397.75 180.84,397.76 181.17,397.72 181.50,397.64 181.84,397.68 182.17,397.55 182.50,397.55" fill="none" stroke="#d2c3db" stroke-width="1.6" stroke-linejoin="round"/>
<line x1="59.30" y1="307.50" x2="59.30" y2="410.50" stroke="#707070" stroke-width="1.3" stroke-dasharray="3.2,2.2"/>
<line x1="171.70" y1="307.50" x2="171.70" y2="410.50" stroke="#707070" stroke-width="1.3" stroke-dasharray="3.2,2.2"/>
<rect x="34.50" y="296.70" width="148.00" height="118.30" fill="none" stroke="#111" stroke-width="1.6"/>
<text x="58.40" y="305.70" font-size="8.9" text-anchor="middle" font-weight="bold" fill="#111" stroke="#111" stroke-width="0.14">-OH</text>
<text x="181.30" y="305.70" font-size="8.9" text-anchor="end" font-weight="bold" fill="#111" stroke="#111" stroke-width="0.14">C=O</text>
<text x="169.40" y="317.40" font-size="9.0" text-anchor="end" font-weight="bold" fill="#111" stroke="#111" stroke-width="0.14">14 min.</text>
<text x="169.40" y="333.50" font-size="9.0" text-anchor="end" font-weight="bold" fill="#111" stroke="#111" stroke-width="0.14">12 min.</text>
<text x="169.40" y="349.50" font-size="9.0" text-anchor="end" font-weight="bold" fill="#111" stroke="#111" stroke-width="0.14">10 min.</text>
<text x="169.40" y="364.10" font-size="9.0" text-anchor="end" font-weight="bold" fill="#111" stroke="#111" stroke-width="0.14">8 min.</text>
<text x="169.40" y="378.10" font-size="9.0" text-anchor="end" font-weight="bold" fill="#111" stroke="#111" stroke-width="0.14">6 min.</text>
<text x="169.40" y="392.70" font-size="9.0" text-anchor="end" font-weight="bold" fill="#111" stroke="#111" stroke-width="0.14">4 min.</text>
<text x="169.40" y="407.30" font-size="9.0" text-anchor="end" font-weight="bold" fill="#111" stroke="#111" stroke-width="0.14">2 min.</text>
<line x1="49.50" y1="415.00" x2="49.50" y2="417.00" stroke="#111" stroke-width="1"/>
<line x1="82.75" y1="415.00" x2="82.75" y2="417.00" stroke="#111" stroke-width="1"/>
<line x1="116.00" y1="415.00" x2="116.00" y2="417.00" stroke="#111" stroke-width="1"/>
<line x1="149.25" y1="415.00" x2="149.25" y2="417.00" stroke="#111" stroke-width="1"/>
<line x1="182.50" y1="415.00" x2="182.50" y2="417.00" stroke="#111" stroke-width="1"/>
<line x1="66.12" y1="415.00" x2="66.12" y2="416.30" stroke="#111" stroke-width="1"/>
<line x1="99.38" y1="415.00" x2="99.38" y2="416.30" stroke="#111" stroke-width="1"/>
<line x1="132.62" y1="415.00" x2="132.62" y2="416.30" stroke="#111" stroke-width="1"/>
<line x1="165.88" y1="415.00" x2="165.88" y2="416.30" stroke="#111" stroke-width="1"/>
<text x="49.50" y="428.00" font-size="9.6" text-anchor="middle" font-weight="bold" fill="#111" stroke="#111" stroke-width="0.14">3500</text>
<text x="82.75" y="428.00" font-size="9.6" text-anchor="middle" font-weight="bold" fill="#111" stroke="#111" stroke-width="0.14">3000</text>
<text x="116.00" y="428.00" font-size="9.6" text-anchor="middle" font-weight="bold" fill="#111" stroke="#111" stroke-width="0.14">2500</text>
<text x="149.25" y="428.00" font-size="9.6" text-anchor="middle" font-weight="bold" fill="#111" stroke="#111" stroke-width="0.14">2000</text>
<text x="182.50" y="428.00" font-size="9.6" text-anchor="middle" font-weight="bold" fill="#111" stroke="#111" stroke-width="0.14">1500</text>
<text x="108.50" y="444.80" font-size="10.1" text-anchor="middle" font-weight="bold" fill="#111" stroke="#111" stroke-width="0.14">Wavenumber (cm<tspan font-size="6.6" dy="-3.8">-1</tspan><tspan dy="3.8">)</tspan></text>
<text x="11.50" y="460.80" font-size="12.5" text-anchor="start" font-weight="bold" fill="#111" stroke="#111" stroke-width="0.14">j</text>
<polyline points="35.77,470.70 36.10,470.79 36.44,470.70 36.77,470.76 37.10,470.83 37.43,470.96 37.76,470.94 38.10,471.07 38.43,470.99 38.76,471.11 39.09,471.14 39.43,471.22 39.76,471.42 40.09,471.42 40.43,471.52 40.76,471.61 41.09,471.62 41.42,471.86 41.75,471.89 42.09,472.03 42.42,471.98 42.75,472.14 43.09,472.25 43.42,472.31 43.75,472.33 44.08,472.46 44.41,472.53 44.75,472.55 45.08,472.61 45.41,472.56 45.75,472.66 46.08,472.69 46.41,472.64 46.74,472.73 47.07,472.64 47.41,472.74 47.74,472.70 48.07,472.66 48.41,472.74 48.74,472.84 49.07,472.83 49.40,472.89 49.73,472.94 50.07,472.94 50.40,473.07 50.73,473.14 51.06,473.26 51.40,473.25 51.73,473.30 52.06,473.50 52.40,473.56 52.73,473.53 53.06,473.63 53.39,473.80 53.72,473.80 54.06,473.86 54.39,473.97 54.72,474.07 55.06,474.08 55.39,474.02 55.72,474.12 56.05,474.24 56.39,474.21 56.72,474.21 57.05,474.23 57.38,474.24 57.72,474.13 58.05,474.26 58.38,474.15 58.71,474.19 59.05,474.16 59.38,474.12 59.71,474.15 60.04,474.20 60.38,474.24 60.71,474.18 61.04,474.19 61.37,474.26 61.70,474.22 62.04,474.23 62.37,474.22 62.70,474.16 63.03,474.27 63.37,474.17 63.70,474.15 64.03,474.27 64.36,474.19 64.70,474.24 65.03,474.20 65.36,474.16 65.69,474.18 66.03,474.18 66.36,474.19 66.69,474.18 67.03,474.12 67.36,474.15 67.69,474.23 68.02,474.20 68.36,474.16 68.69,474.24 69.02,474.16 69.35,474.26 69.69,474.28 70.02,474.21 70.35,474.19 70.68,474.26 71.02,474.22 71.35,474.13 71.68,474.21 72.01,474.26 72.34,474.24 72.68,474.25 73.01,474.16 73.34,474.26 73.67,474.24 74.01,474.18 74.34,474.25 74.67,474.19 75.00,474.15 75.34,474.22 75.67,474.25 76.00,474.24 76.33,474.25 76.67,474.27 77.00,474.24 77.33,474.27 77.67,474.19 78.00,474.17 78.33,474.17 78.66,474.18 79.00,474.18 79.33,474.20 79.66,474.13 79.99,474.21 80.33,474.21 80.66,474.18 80.99,474.16 81.32,474.28 81.66,474.25 81.99,474.25 82.32,474.23 82.65,474.13 82.98,474.17 83.32,474.24 83.65,474.25 83.98,474.15 84.31,474.21 84.65,474.24 84.98,474.25 85.31,474.13 85.64,474.23 85.98,474.20 86.31,474.26 86.64,474.13 86.97,474.36 87.31,474.80 87.64,475.79 87.97,477.43 88.31,479.31 88.64,480.21 88.97,479.32 89.30,477.44 89.64,475.68 89.97,474.67 90.30,474.18 90.63,474.10 90.97,474.15 91.30,474.14 91.63,474.04 91.96,474.24 92.30,474.77 92.63,475.84 92.96,477.43 93.29,478.24 93.62,477.41 93.96,475.89 94.29,474.72 94.62,474.15 94.95,474.09 95.29,474.09 95.62,473.96 95.95,474.03 96.28,473.94 96.62,474.03 96.95,473.93 97.28,473.98 97.61,474.04 97.95,474.02 98.28,473.97 98.61,473.92 98.95,474.02 99.28,473.97 99.61,473.90 99.94,473.98 100.28,473.95 100.61,473.92 100.94,473.86 101.27,473.89 101.61,473.77 101.94,473.76 102.27,473.81 102.60,473.74 102.94,473.69 103.27,473.61 103.60,473.61 103.93,473.67 104.27,473.52 104.60,473.58 104.93,473.51 105.26,473.47 105.59,473.43 105.93,473.49 106.26,473.45 106.59,473.34 106.92,473.35 107.26,473.26 107.59,473.27 107.92,473.25 108.25,473.11 108.59,473.11 108.92,473.03 109.25,473.05 109.59,472.94 109.92,472.99 110.25,472.97 110.58,472.81 110.92,472.85 111.25,472.71 111.58,472.67 111.91,472.64 112.25,472.67 112.58,472.69 112.91,472.54 113.24,472.64 113.58,472.53 113.91,472.46 114.24,472.50 114.57,472.50 114.91,472.42 115.24,472.39 115.57,472.43 115.90,472.41 116.23,472.27 116.57,472.33 116.90,472.36 117.23,472.34 117.56,472.20 117.90,472.32 118.23,472.26 118.56,472.29 118.89,472.20 119.23,472.29 119.56,472.25 119.89,472.16 120.22,472.21 120.56,472.13 120.89,472.23 121.22,472.21 121.56,472.15 121.89,472.19 122.22,472.24 122.55,472.12 122.89,472.14 123.22,472.11 123.55,472.18 123.88,472.10 124.22,472.36 124.55,472.85 124.88,474.17 125.21,475.93 125.55,477.36 125.88,477.15 126.21,475.59 126.54,473.76 126.88,473.08 127.21,473.69 127.54,474.42 127.87,474.29 128.21,473.27 128.54,472.34 128.87,471.97 129.20,471.97 129.53,471.85 129.87,471.86 130.20,471.95 130.53,471.96 130.87,471.86 131.20,471.85 131.53,471.98 131.86,471.86 132.19,471.93 132.53,471.97 132.86,471.83 133.19,471.85 133.53,471.91 133.86,471.85 134.19,471.98 134.52,471.90 134.86,471.97 135.19,471.93 135.52,471.86 135.85,471.86 136.19,471.90 136.52,471.89 136.85,471.97 137.18,471.86 137.51,471.87 137.85,471.87 138.18,471.94 138.51,471.93 138.84,471.91 139.18,471.85 139.51,471.92 139.84,471.91 140.18,471.95 140.51,471.88 140.84,471.87 141.17,471.95 141.50,471.82 141.84,471.97 142.17,471.94 142.50,471.94 142.84,471.89 143.17,471.86 143.50,471.87 143.83,471.92 144.17,471.84 144.50,471.97 144.83,471.96 145.16,471.88 145.50,471.95 145.83,471.96 146.16,471.96 146.49,471.97 146.82,471.82 147.16,471.95 147.49,471.96 147.82,471.97 148.16,471.93 148.49,471.85 148.82,471.92 149.15,471.91 149.49,471.86 149.82,471.85 150.15,471.95 150.48,471.93 150.81,471.85 151.15,471.89 151.48,471.87 151.81,471.98 152.15,471.92 152.48,471.86 152.81,471.86 153.14,471.96 153.47,471.91 153.81,471.91 154.14,471.91 154.47,471.85 154.81,471.82 155.14,471.90 155.47,471.86 155.80,471.96 156.13,471.90 156.47,471.88 156.80,471.97 157.13,471.93 157.47,471.95 157.80,471.94 158.13,471.93 158.46,471.95 158.80,471.88 159.13,471.91 159.46,471.87 159.79,471.95 160.12,471.89 160.46,471.88 160.79,471.93 161.12,471.83 161.46,471.82 161.79,471.96 162.12,471.85 162.45,471.92 162.78,471.88 163.12,471.89 163.45,471.86 163.78,471.92 164.12,471.83 164.45,471.86 164.78,471.95 165.11,471.93 165.44,471.91 165.78,471.86 166.11,471.82 166.44,471.84 166.78,471.97 167.11,471.98 167.44,471.88 167.77,471.93 168.11,471.89 168.44,471.95 168.77,471.89 169.10,471.96 169.44,471.83 169.77,471.95 170.10,471.88 170.43,471.98 170.77,471.89 171.10,472.01 171.43,472.62 171.76,474.09 172.09,477.00 172.43,480.87 172.76,483.66 173.09,483.39 173.43,480.21 173.76,476.44 174.09,473.73 174.42,472.57 174.75,472.09 175.09,472.01 175.42,472.01 175.75,472.04 176.09,472.17 176.42,472.20 176.75,472.15 177.08,472.13 177.41,472.15 177.75,472.22 178.08,472.20 178.41,472.19 178.75,472.22 179.08,472.20 179.41,472.27 179.74,472.12 180.08,472.14 180.41,471.91 180.74,471.89 181.07,471.70 181.41,471.52 181.74,471.20 182.07,471.11 182.40,470.89 182.74,470.79 183.07,470.76 183.40,470.68" fill="none" stroke="#4a6f92" stroke-width="1.6" stroke-linejoin="round"/>
<polyline points="35.77,498.19 36.10,498.07 36.44,498.14 36.77,498.14 37.10,498.31 37.43,498.31 37.76,498.37 38.10,498.40 38.43,498.45 38.76,498.47 39.09,498.61 39.43,498.69 39.76,498.78 40.09,498.90 40.43,498.93 40.76,499.01 41.09,499.09 41.42,499.29 41.75,499.41 42.09,499.37 42.42,499.47 42.75,499.54 43.09,499.66 43.42,499.76 43.75,499.89 44.08,499.84 44.41,499.92 44.75,500.07 45.08,500.00 45.41,500.17 45.75,500.21 46.08,500.21 46.41,500.13 46.74,500.20 47.07,500.24 47.41,500.20 47.74,500.18 48.07,500.26 48.41,500.31 48.74,500.33 49.07,500.30 49.40,500.33 49.73,500.43 50.07,500.56 50.40,500.59 50.73,500.75 51.06,500.71 51.40,500.88 51.73,500.83 52.06,500.94 52.40,501.00 52.73,501.18 53.06,501.30 53.39,501.28 53.72,501.35 54.06,501.39 54.39,501.47 54.72,501.55 55.06,501.57 55.39,501.68 55.72,501.69 56.05,501.67 56.39,501.79 56.72,501.76 57.05,501.76 57.38,501.83 57.72,501.74 58.05,501.82 58.38,501.72 58.71,501.85 59.05,501.71 59.38,501.83 59.71,501.85 60.04,501.75 60.38,501.79 60.71,501.80 61.04,501.83 61.37,501.74 61.70,501.81 62.04,501.76 62.37,501.70 62.70,501.80 63.03,501.84 63.37,501.77 63.70,501.76 64.03,501.78 64.36,501.85 64.70,501.80 65.03,501.82 65.36,501.82 65.69,501.70 66.03,501.80 66.36,501.85 66.69,501.80 67.03,501.73 67.36,501.79 67.69,501.85 68.02,501.76 68.36,501.74 68.69,501.85 69.02,501.81 69.35,501.75 69.69,501.76 70.02,501.70 70.35,501.71 70.68,501.83 71.02,501.82 71.35,501.80 71.68,501.85 72.01,501.75 72.34,501.85 72.68,501.81 73.01,501.70 73.34,501.77 73.67,501.82 74.01,501.78 74.34,501.74 74.67,501.85 75.00,501.77 75.34,501.75 75.67,501.78 76.00,501.74 76.33,501.75 76.67,501.80 77.00,501.70 77.33,501.72 77.67,501.72 78.00,501.74 78.33,501.77 78.66,501.71 79.00,501.84 79.33,501.71 79.66,501.71 79.99,501.81 80.33,501.75 80.66,501.74 80.99,501.79 81.32,501.70 81.66,501.73 81.99,501.77 82.32,501.85 82.65,501.76 82.98,501.81 83.32,501.80 83.65,501.71 83.98,501.79 84.31,501.82 84.65,501.84 84.98,501.78 85.31,501.77 85.64,501.78 85.98,501.82 86.31,501.81 86.64,501.84 86.97,501.98 87.31,502.31 87.64,503.46 87.97,505.23 88.31,507.22 88.64,508.04 88.97,507.16 89.30,505.22 89.64,503.35 89.97,502.30 90.30,501.90 90.63,501.64 90.97,501.68 91.30,501.67 91.63,501.69 91.96,501.84 92.30,502.29 92.63,503.47 92.96,505.16 93.29,506.08 93.62,505.22 93.96,503.59 94.29,502.29 94.62,501.81 94.95,501.58 95.29,501.59 95.62,501.61 95.95,501.55 96.28,501.51 96.62,501.51 96.95,501.57 97.28,501.53 97.61,501.54 97.95,501.62 98.28,501.60 98.61,501.47 98.95,501.54 99.28,501.52 99.61,501.46 99.94,501.44 100.28,501.41 100.61,501.50 100.94,501.50 101.27,501.40 101.61,501.44 101.94,501.33 102.27,501.26 102.60,501.36 102.94,501.26 103.27,501.22 103.60,501.19 103.93,501.25 104.27,501.09 104.60,501.04 104.93,501.07 105.26,501.08 105.59,500.91 105.93,500.95 106.26,500.99 106.59,500.87 106.92,500.78 107.26,500.76 107.59,500.79 107.92,500.69 108.25,500.67 108.59,500.58 108.92,500.64 109.25,500.54 109.59,500.53 109.92,500.42 110.25,500.42 110.58,500.29 110.92,500.34 111.25,500.29 111.58,500.21 111.91,500.16 112.25,500.20 112.58,500.17 112.91,500.16 113.24,500.10 113.58,500.10 113.91,499.98 114.24,499.89 114.57,499.94 114.91,499.88 115.24,499.90 115.57,499.86 115.90,499.91 116.23,499.89 116.57,499.83 116.90,499.74 117.23,499.72 117.56,499.69 117.90,499.67 118.23,499.71 118.56,499.73 118.89,499.68 119.23,499.68 119.56,499.65 119.89,499.65 120.22,499.74 120.56,499.65 120.89,499.59 121.22,499.68 121.56,499.67 121.89,499.59 122.22,499.65 122.55,499.68 122.89,499.59 123.22,499.58 123.55,499.62 123.88,499.63 124.22,499.83 124.55,500.29 124.88,501.65 125.21,503.57 125.55,505.20 125.88,504.89 126.21,503.24 126.54,501.39 126.88,500.60 127.21,501.24 127.54,501.92 127.87,501.73 128.21,500.84 128.54,499.83 128.87,499.40 129.20,499.32 129.53,499.39 129.87,499.39 130.20,499.36 130.53,499.35 130.87,499.32 131.20,499.42 131.53,499.29 131.86,499.29 132.19,499.41 132.53,499.42 132.86,499.40 133.19,499.44 133.53,499.43 133.86,499.33 134.19,499.30 134.52,499.38 134.86,499.29 135.19,499.35 135.52,499.29 135.85,499.41 136.19,499.29 136.52,499.41 136.85,499.43 137.18,499.30 137.51,499.36 137.85,499.29 138.18,499.32 138.51,499.29 138.84,499.35 139.18,499.30 139.51,499.36 139.84,499.41 140.18,499.37 140.51,499.44 140.84,499.41 141.17,499.43 141.50,499.33 141.84,499.40 142.17,499.41 142.50,499.44 142.84,499.42 143.17,499.34 143.50,499.44 143.83,499.36 144.17,499.42 144.50,499.29 144.83,499.37 145.16,499.39 145.50,499.43 145.83,499.40 146.16,499.33 146.49,499.35 146.82,499.38 147.16,499.30 147.49,499.33 147.82,499.44 148.16,499.32 148.49,499.40 148.82,499.29 149.15,499.32 149.49,499.29 149.82,499.35 150.15,499.31 150.48,499.28 150.81,499.43 151.15,499.34 151.48,499.31 151.81,499.30 152.15,499.30 152.48,499.33 152.81,499.35 153.14,499.29 153.47,499.38 153.81,499.30 154.14,499.39 154.47,499.32 154.81,499.38 155.14,499.39 155.47,499.31 155.80,499.42 156.13,499.38 156.47,499.33 156.80,499.34 157.13,499.35 157.47,499.44 157.80,499.41 158.13,499.29 158.46,499.41 158.80,499.37 159.13,499.41 159.46,499.30 159.79,499.33 160.12,499.43 160.46,499.42 160.79,499.38 161.12,499.36 161.46,499.32 161.79,499.34 162.12,499.36 162.45,499.35 162.78,499.36 163.12,499.39 163.45,499.43 163.78,499.39 164.12,499.41 164.45,499.30 164.78,499.37 165.11,499.34 165.44,499.30 165.78,499.33 166.11,499.42 166.44,499.44 166.78,499.35 167.11,499.29 167.44,499.37 167.77,499.30 168.11,499.35 168.44,499.30 168.77,499.38 169.10,499.33 169.44,499.33 169.77,499.31 170.10,499.32 170.43,499.41 170.77,499.45 171.10,499.49 171.43,500.03 171.76,501.67 172.09,504.74 172.43,508.78 172.76,511.76 173.09,511.40 173.43,508.06 173.76,504.17 174.09,501.34 174.42,500.07 174.75,499.65 175.09,499.60 175.42,499.63 175.75,499.52 176.09,499.59 176.42,499.63 176.75,499.67 177.08,499.68 177.41,499.57 177.75,499.59 178.08,499.71 178.41,499.64 178.75,499.74 179.08,499.68 179.41,499.68 179.74,499.62 180.08,499.50 180.41,499.43 180.74,499.30 181.07,499.04 181.41,498.85 181.74,498.69 182.07,498.51 182.40,498.35 182.74,498.15 183.07,498.17 183.40,498.09" fill="none" stroke="#6990b6" stroke-width="1.6" stroke-linejoin="round"/>
<polyline points="35.77,523.30 36.10,523.19 36.44,523.20 36.77,523.36 37.10,523.43 37.43,523.38 37.76,523.47 38.10,523.57 38.43,523.65 38.76,523.74 39.09,523.88 39.43,523.97 39.76,523.91 40.09,524.02 40.43,524.20 40.76,524.27 41.09,524.35 41.42,524.51 41.75,524.59 42.09,524.79 42.42,524.89 42.75,524.97 43.09,524.98 43.42,525.14 43.75,525.17 44.08,525.17 44.41,525.35 44.75,525.43 45.08,525.39 45.41,525.51 45.75,525.57 46.08,525.52 46.41,525.56 46.74,525.65 47.07,525.67 47.41,525.55 47.74,525.62 48.07,525.62 48.41,525.73 48.74,525.78 49.07,525.74 49.40,525.84 49.73,525.88 50.07,525.95 50.40,526.10 50.73,526.07 51.06,526.18 51.40,526.35 51.73,526.41 52.06,526.49 52.40,526.55 52.73,526.66 53.06,526.78 53.39,526.93 53.72,527.01 54.06,527.07 54.39,527.11 54.72,527.20 55.06,527.24 55.39,527.35 55.72,527.37 56.05,527.41 56.39,527.42 56.72,527.41 57.05,527.39 57.38,527.39 57.72,527.47 58.05,527.46 58.38,527.35 58.71,527.47 59.05,527.34 59.38,527.39 59.71,527.33 60.04,527.32 60.38,527.39 60.71,527.45 61.04,527.35 61.37,527.34 61.70,527.45 62.04,527.45 62.37,527.47 62.70,527.45 63.03,527.36 63.37,527.36 63.70,527.37 64.03,527.44 64.36,527.46 64.70,527.38 65.03,527.48 65.36,527.45 65.69,527.37 66.03,527.44 66.36,527.38 66.69,527.46 67.03,527.42 67.36,527.42 67.69,527.41 68.02,527.38 68.36,527.42 68.69,527.46 69.02,527.35 69.35,527.44 69.69,527.43 70.02,527.41 70.35,527.38 70.68,527.38 71.02,527.37 71.35,527.47 71.68,527.34 72.01,527.34 72.34,527.43 72.68,527.45 73.01,527.33 73.34,527.37 73.67,527.46 74.01,527.47 74.34,527.43 74.67,527.40 75.00,527.40 75.34,527.45 75.67,527.48 76.00,527.41 76.33,527.43 76.67,527.45 77.00,527.45 77.33,527.39 77.67,527.33 78.00,527.47 78.33,527.39 78.66,527.43 79.00,527.42 79.33,527.34 79.66,527.33 79.99,527.40 80.33,527.47 80.66,527.41 80.99,527.45 81.32,527.37 81.66,527.41 81.99,527.45 82.32,527.37 82.65,527.38 82.98,527.47 83.32,527.36 83.65,527.34 83.98,527.39 84.31,527.37 84.65,527.43 84.98,527.38 85.31,527.42 85.64,527.34 85.98,527.42 86.31,527.45 86.64,527.37 86.97,527.54 87.31,528.10 87.64,529.18 87.97,531.27 88.31,533.51 88.64,534.51 88.97,533.51 89.30,531.21 89.64,529.17 89.97,527.89 90.30,527.44 90.63,527.28 90.97,527.25 91.30,527.27 91.63,527.19 91.96,527.46 92.30,528.03 92.63,529.35 92.96,531.31 93.29,532.31 93.62,531.37 93.96,529.46 94.29,527.92 94.62,527.41 94.95,527.21 95.29,527.21 95.62,527.19 95.95,527.21 96.28,527.16 96.62,527.11 96.95,527.21 97.28,527.09 97.61,527.12 97.95,527.20 98.28,527.11 98.61,527.13 98.95,527.19 99.28,527.16 99.61,527.11 99.94,527.11 100.28,527.02 100.61,527.05 100.94,527.06 101.27,526.93 101.61,526.93 101.94,526.93 102.27,526.84 102.60,526.93 102.94,526.88 103.27,526.72 103.60,526.75 103.93,526.72 104.27,526.60 104.60,526.68 104.93,526.58 105.26,526.50 105.59,526.47 105.93,526.40 106.26,526.43 106.59,526.44 106.92,526.31 107.26,526.20 107.59,526.28 107.92,526.23 108.25,526.12 108.59,526.11 108.92,525.99 109.25,526.03 109.59,526.01 109.92,525.84 110.25,525.82 110.58,525.77 110.92,525.69 111.25,525.64 111.58,525.63 111.91,525.53 112.25,525.58 112.58,525.48 112.91,525.49 113.24,525.51 113.58,525.45 113.91,525.32 114.24,525.26 114.57,525.32 114.91,525.19 115.24,525.23 115.57,525.14 115.90,525.19 116.23,525.15 116.57,525.13 116.90,525.14 117.23,525.06 117.56,525.05 117.90,525.03 118.23,524.98 118.56,524.98 118.89,524.98 119.23,525.00 119.56,524.93 119.89,525.06 120.22,525.05 120.56,525.07 120.89,525.05 121.22,524.91 121.56,525.02 121.89,525.03 122.22,525.03 122.55,525.00 122.89,525.01 123.22,524.94 123.55,524.89 123.88,524.92 124.22,525.13 124.55,525.76 124.88,527.30 125.21,529.45 125.55,531.20 125.88,531.03 126.21,529.05 126.54,526.94 126.88,526.14 127.21,526.67 127.54,527.64 127.87,527.48 128.21,526.22 128.54,525.19 128.87,524.76 129.20,524.71 129.53,524.57 129.87,524.71 130.20,524.72 130.53,524.69 130.87,524.66 131.20,524.62 131.53,524.70 131.86,524.56 132.19,524.58 132.53,524.66 132.86,524.60 133.19,524.60 133.53,524.57 133.86,524.68 134.19,524.70 134.52,524.65 134.86,524.57 135.19,524.68 135.52,524.68 135.85,524.62 136.19,524.59 136.52,524.61 136.85,524.60 137.18,524.59 137.51,524.71 137.85,524.68 138.18,524.64 138.51,524.61 138.84,524.58 139.18,524.65 139.51,524.62 139.84,524.68 140.18,524.58 140.51,524.63 140.84,524.64 141.17,524.66 141.50,524.61 141.84,524.61 142.17,524.69 142.50,524.67 142.84,524.65 143.17,524.65 143.50,524.60 143.83,524.72 144.17,524.57 144.50,524.64 144.83,524.57 145.16,524.57 145.50,524.68 145.83,524.65 146.16,524.62 146.49,524.69 146.82,524.56 147.16,524.62 147.49,524.72 147.82,524.69 148.16,524.64 148.49,524.68 148.82,524.71 149.15,524.62 149.49,524.57 149.82,524.69 150.15,524.64 150.48,524.70 150.81,524.67 151.15,524.60 151.48,524.56 151.81,524.65 152.15,524.63 152.48,524.62 152.81,524.67 153.14,524.62 153.47,524.69 153.81,524.57 154.14,524.56 154.47,524.62 154.81,524.59 155.14,524.70 155.47,524.66 155.80,524.71 156.13,524.61 156.47,524.70 156.80,524.72 157.13,524.70 157.47,524.68 157.80,524.58 158.13,524.70 158.46,524.58 158.80,524.62 159.13,524.59 159.46,524.58 159.79,524.71 160.12,524.66 160.46,524.70 160.79,524.62 161.12,524.62 161.46,524.69 161.79,524.72 162.12,524.68 162.45,524.70 162.78,524.70 163.12,524.68 163.45,524.71 163.78,524.68 164.12,524.56 164.45,524.59 164.78,524.61 165.11,524.60 165.44,524.71 165.78,524.70 166.11,524.65 166.44,524.60 166.78,524.58 167.11,524.57 167.44,524.59 167.77,524.60 168.11,524.70 168.44,524.61 168.77,524.64 169.10,524.66 169.44,524.72 169.77,524.67 170.10,524.60 170.43,524.64 170.77,524.65 171.10,524.80 171.43,525.52 171.76,527.28 172.09,530.80 172.43,535.49 172.76,538.71 173.09,538.39 173.43,534.65 173.76,530.13 174.09,526.90 174.42,525.39 174.75,525.00 175.09,524.94 175.42,524.84 175.75,524.85 176.09,524.85 176.42,524.89 176.75,524.97 177.08,524.96 177.41,524.91 177.75,524.93 178.08,524.93 178.41,525.01 178.75,524.93 179.08,524.96 179.41,524.98 179.74,525.02 180.08,524.94 180.41,524.72 180.74,524.60 181.07,524.29 181.41,524.06 181.74,523.85 182.07,523.67 182.40,523.49 182.74,523.36 183.07,523.19 183.40,523.14" fill="none" stroke="#8fb1cf" stroke-width="1.6" stroke-linejoin="round"/>
<polyline points="35.77,551.55 36.10,551.54 36.44,551.61 36.77,551.67 37.10,551.65 37.43,551.64 37.76,551.61 38.10,551.56 38.43,551.67 38.76,551.62 39.09,551.68 39.43,551.61 39.76,551.55 40.09,551.55 40.43,551.66 40.76,551.54 41.09,551.59 41.42,551.59 41.75,551.58 42.09,551.67 42.42,551.66 42.75,551.54 43.09,551.68 43.42,551.61 43.75,551.54 44.08,551.66 44.41,551.58 44.75,551.59 45.08,551.56 45.41,551.60 45.75,551.56 46.08,551.68 46.41,551.54 46.74,551.58 47.07,551.59 47.41,551.65 47.74,551.60 48.07,551.63 48.41,551.55 48.74,551.64 49.07,551.61 49.40,551.66 49.73,551.66 50.07,551.58 50.40,551.61 50.73,551.63 51.06,551.67 51.40,551.54 51.73,551.60 52.06,551.65 52.40,551.54 52.73,551.68 53.06,551.62 53.39,551.62 53.72,551.53 54.06,551.59 54.39,551.60 54.72,551.56 55.06,551.68 55.39,551.61 55.72,551.58 56.05,551.65 56.39,551.67 56.72,551.56 57.05,551.52 57.38,551.57 57.72,551.56 58.05,551.59 58.38,551.68 58.71,551.53 59.05,551.59 59.38,551.53 59.71,551.58 60.04,551.65 60.38,551.61 60.71,551.66 61.04,551.57 61.37,551.62 61.70,551.54 62.04,551.60 62.37,551.54 62.70,551.63 63.03,551.60 63.37,551.61 63.70,551.62 64.03,551.60 64.36,551.53 64.70,551.59 65.03,551.66 65.36,551.62 65.69,551.61 66.03,551.66 66.36,551.62 66.69,551.56 67.03,551.63 67.36,551.65 67.69,551.56 68.02,551.56 68.36,551.55 68.69,551.67 69.02,551.57 69.35,551.64 69.69,551.53 70.02,551.53 70.35,551.64 70.68,551.55 71.02,551.59 71.35,551.62 71.68,551.56 72.01,551.62 72.34,551.54 72.68,551.54 73.01,551.53 73.34,551.63 73.67,551.63 74.01,551.60 74.34,551.58 74.67,551.67 75.00,551.57 75.34,551.65 75.67,551.67 76.00,551.64 76.33,551.66 76.67,551.59 77.00,551.62 77.33,551.67 77.67,551.54 78.00,551.61 78.33,551.63 78.66,551.65 79.00,551.61 79.33,551.67 79.66,551.65 79.99,551.68 80.33,551.67 80.66,551.61 80.99,551.68 81.32,551.62 81.66,551.54 81.99,551.62 82.32,551.62 82.65,551.56 82.98,551.64 83.32,551.63 83.65,551.67 83.98,551.59 84.31,551.60 84.65,551.62 84.98,551.64 85.31,551.63 85.64,551.53 85.98,551.64 86.31,551.54 86.64,551.57 86.97,551.54 87.31,551.64 87.64,551.52 87.97,551.67 88.31,551.57 88.64,551.55 88.97,551.62 89.30,551.67 89.64,551.63 89.97,551.58 90.30,551.58 90.63,551.62 90.97,551.56 91.30,551.56 91.63,551.63 91.96,551.54 92.30,551.62 92.63,551.64 92.96,551.66 93.29,551.58 93.62,551.62 93.96,551.59 94.29,551.62 94.62,551.58 94.95,551.59 95.29,551.65 95.62,551.56 95.95,551.67 96.28,551.60 96.62,551.56 96.95,551.57 97.28,551.55 97.61,551.64 97.95,551.58 98.28,551.53 98.61,551.58 98.95,551.65 99.28,551.58 99.61,551.52 99.94,551.58 100.28,551.60 100.61,551.63 100.94,551.56 101.27,551.56 101.61,551.60 101.94,551.63 102.27,551.68 102.60,551.60 102.94,551.54 103.27,551.59 103.60,551.53 103.93,551.60 104.27,551.63 104.60,551.55 104.93,551.57 105.26,551.62 105.59,551.53 105.93,551.58 106.26,551.59 106.59,551.65 106.92,551.62 107.26,551.52 107.59,551.58 107.92,551.61 108.25,551.59 108.59,551.57 108.92,551.59 109.25,551.68 109.59,551.60 109.92,551.66 110.25,551.57 110.58,551.59 110.92,551.64 111.25,551.59 111.58,551.67 111.91,551.58 112.25,551.65 112.58,551.67 112.91,551.53 113.24,551.57 113.58,551.56 113.91,551.60 114.24,551.67 114.57,551.62 114.91,551.60 115.24,551.56 115.57,551.57 115.90,551.52 116.23,551.66 116.57,551.53 116.90,551.63 117.23,551.54 117.56,551.61 117.90,551.65 118.23,551.61 118.56,551.67 118.89,551.55 119.23,551.67 119.56,551.68 119.89,551.68 120.22,551.57 120.56,551.60 120.89,551.68 121.22,551.62 121.56,551.63 121.89,551.53 122.22,551.56 122.55,551.55 122.89,551.56 123.22,551.62 123.55,551.56 123.88,551.64 124.22,551.70 124.55,551.68 124.88,551.75 125.21,552.06 125.55,552.26 125.88,552.13 126.21,552.06 126.54,551.85 126.88,551.66 127.21,551.59 127.54,551.61 127.87,551.62 128.21,551.56 128.54,551.67 128.87,551.62 129.20,551.62 129.53,551.68 129.87,551.56 130.20,551.59 130.53,551.58 130.87,551.64 131.20,551.68 131.53,551.53 131.86,551.54 132.19,551.56 132.53,551.61 132.86,551.65 133.19,551.67 133.53,551.62 133.86,551.58 134.19,551.62 134.52,551.58 134.86,551.53 135.19,551.55 135.52,551.59 135.85,551.62 136.19,551.63 136.52,551.64 136.85,551.53 137.18,551.56 137.51,551.54 137.85,551.59 138.18,551.65 138.51,551.63 138.84,551.61 139.18,551.53 139.51,551.58 139.84,551.63 140.18,551.55 140.51,551.59 140.84,551.59 141.17,551.56 141.50,551.59 141.84,551.61 142.17,551.66 142.50,551.65 142.84,551.60 143.17,551.67 143.50,551.62 143.83,551.63 144.17,551.62 144.50,551.67 144.83,551.60 145.16,551.58 145.50,551.64 145.83,551.60 146.16,551.58 146.49,551.66 146.82,551.63 147.16,551.53 147.49,551.61 147.82,551.61 148.16,551.58 148.49,551.68 148.82,551.53 149.15,551.59 149.49,551.65 149.82,551.59 150.15,551.59 150.48,551.66 150.81,551.63 151.15,551.63 151.48,551.64 151.81,551.55 152.15,551.63 152.48,551.53 152.81,551.55 153.14,551.64 153.47,551.65 153.81,551.67 154.14,551.55 154.47,551.60 154.81,551.54 155.14,551.53 155.47,551.62 155.80,551.52 156.13,551.52 156.47,551.64 156.80,551.57 157.13,551.59 157.47,551.58 157.80,551.56 158.13,551.60 158.46,551.67 158.80,551.65 159.13,551.53 159.46,551.58 159.79,551.58 160.12,551.63 160.46,551.67 160.79,551.68 161.12,551.53 161.46,551.56 161.79,551.67 162.12,551.65 162.45,551.66 162.78,551.57 163.12,551.53 163.45,551.63 163.78,551.52 164.12,551.56 164.45,551.56 164.78,551.55 165.11,551.57 165.44,551.64 165.78,551.58 166.11,551.65 166.44,551.59 166.78,551.58 167.11,551.59 167.44,551.61 167.77,551.67 168.11,551.56 168.44,551.56 168.77,551.64 169.10,551.68 169.44,551.67 169.77,551.54 170.10,551.60 170.43,551.54 170.77,551.62 171.10,551.74 171.43,552.14 171.76,552.96 172.09,554.26 172.43,555.64 172.76,556.13 173.09,555.59 173.43,554.26 173.76,553.00 174.09,552.24 174.42,551.85 174.75,551.64 175.09,551.54 175.42,551.60 175.75,551.63 176.09,551.64 176.42,551.65 176.75,551.68 177.08,551.54 177.41,551.67 177.75,551.60 178.08,551.61 178.41,551.61 178.75,551.62 179.08,551.59 179.41,551.65 179.74,551.58 180.08,551.56 180.41,551.56 180.74,551.57 181.07,551.57 181.41,551.68 181.74,551.60 182.07,551.57 182.40,551.59 182.74,551.62 183.07,551.58 183.40,551.58" fill="none" stroke="#bad0e2" stroke-width="1.6" stroke-linejoin="round"/>
<line x1="59.90" y1="466.90" x2="59.90" y2="564.50" stroke="#707070" stroke-width="1.3" stroke-dasharray="3.2,2.2"/>
<line x1="172.30" y1="466.90" x2="172.30" y2="564.50" stroke="#707070" stroke-width="1.3" stroke-dasharray="3.2,2.2"/>
<rect x="35.00" y="451.50" width="148.40" height="119.50" fill="none" stroke="#111" stroke-width="1.6"/>
<text x="60.20" y="465.10" font-size="8.9" text-anchor="middle" font-weight="bold" fill="#111" stroke="#111" stroke-width="0.14">-OH</text>
<text x="182.20" y="465.10" font-size="8.9" text-anchor="end" font-weight="bold" fill="#111" stroke="#111" stroke-width="0.14">C=O</text>
<text x="169.40" y="480.90" font-size="9.0" text-anchor="end" font-weight="bold" fill="#111" stroke="#111" stroke-width="0.14">25 min.</text>
<text x="169.40" y="509.80" font-size="9.0" text-anchor="end" font-weight="bold" fill="#111" stroke="#111" stroke-width="0.14">20 min.</text>
<text x="169.40" y="534.30" font-size="9.0" text-anchor="end" font-weight="bold" fill="#111" stroke="#111" stroke-width="0.14">15 min.</text>
<text x="169.40" y="562.30" font-size="9.0" text-anchor="end" font-weight="bold" fill="#111" stroke="#111" stroke-width="0.14">10 min.</text>
<line x1="50.40" y1="571.00" x2="50.40" y2="573.00" stroke="#111" stroke-width="1"/>
<line x1="83.65" y1="571.00" x2="83.65" y2="573.00" stroke="#111" stroke-width="1"/>
<line x1="116.90" y1="571.00" x2="116.90" y2="573.00" stroke="#111" stroke-width="1"/>
<line x1="150.15" y1="571.00" x2="150.15" y2="573.00" stroke="#111" stroke-width="1"/>
<line x1="183.40" y1="571.00" x2="183.40" y2="573.00" stroke="#111" stroke-width="1"/>
<line x1="67.03" y1="571.00" x2="67.03" y2="572.30" stroke="#111" stroke-width="1"/>
<line x1="100.28" y1="571.00" x2="100.28" y2="572.30" stroke="#111" stroke-width="1"/>
<line x1="133.53" y1="571.00" x2="133.53" y2="572.30" stroke="#111" stroke-width="1"/>
<line x1="166.78" y1="571.00" x2="166.78" y2="572.30" stroke="#111" stroke-width="1"/>
<text x="50.40" y="583.00" font-size="9.6" text-anchor="middle" font-weight="bold" fill="#111" stroke="#111" stroke-width="0.14">3500</text>
<text x="83.65" y="583.00" font-size="9.6" text-anchor="middle" font-weight="bold" fill="#111" stroke="#111" stroke-width="0.14">3000</text>
<text x="116.90" y="583.00" font-size="9.6" text-anchor="middle" font-weight="bold" fill="#111" stroke="#111" stroke-width="0.14">2500</text>
<text x="150.15" y="583.00" font-size="9.6" text-anchor="middle" font-weight="bold" fill="#111" stroke="#111" stroke-width="0.14">2000</text>
<text x="183.40" y="583.00" font-size="9.6" text-anchor="middle" font-weight="bold" fill="#111" stroke="#111" stroke-width="0.14">1500</text>
<text x="108.50" y="599.70" font-size="10.1" text-anchor="middle" font-weight="bold" fill="#111" stroke="#111" stroke-width="0.14">Wavenumber (cm<tspan font-size="6.6" dy="-3.8">-1</tspan><tspan dy="3.8">)</tspan></text>
<text x="7.50" y="613.90" font-size="12.5" text-anchor="start" font-weight="bold" fill="#111" stroke="#111" stroke-width="0.14">m</text>
<polyline points="35.44,619.33 35.77,619.33 36.10,619.34 36.44,619.35 36.77,619.30 37.10,619.29 37.43,619.35 37.76,619.29 38.10,619.39 38.43,619.44 38.76,619.43 39.09,619.35 39.43,619.46 39.76,619.42 40.09,619.40 40.43,619.56 40.76,619.50 41.09,619.47 41.42,619.55 41.75,619.60 42.09,619.68 42.42,619.57 42.75,619.71 43.09,619.63 43.42,619.66 43.75,619.68 44.08,619.80 44.41,619.84 44.75,619.87 45.08,619.81 45.41,619.91 45.75,619.91 46.08,619.92 46.41,619.96 46.74,620.06 47.07,619.97 47.41,620.00 47.74,620.01 48.07,620.11 48.41,620.04 48.74,620.14 49.07,620.18 49.40,620.16 49.73,620.12 50.07,620.19 50.40,620.26 50.73,620.26 51.06,620.29 51.40,620.24 51.73,620.35 52.06,620.20 52.40,620.30 52.73,620.26 53.06,620.23 53.39,620.30 53.72,620.32 54.06,620.25 54.39,620.37 54.72,620.34 55.06,620.31 55.39,620.34 55.72,620.42 56.05,620.47 56.39,620.39 56.72,620.47 57.05,620.54 57.38,620.66 57.72,620.65 58.05,620.68 58.38,620.76 58.71,620.78 59.05,620.81 59.38,620.86 59.71,620.89 60.04,621.08 60.38,621.01 60.71,621.10 61.04,621.15 61.37,621.12 61.70,621.16 62.04,621.17 62.37,621.26 62.70,621.22 63.03,621.32 63.37,621.37 63.70,621.22 64.03,621.38 64.36,621.40 64.70,621.38 65.03,621.55 65.36,621.64 65.69,621.78 66.03,621.96 66.36,622.25 66.69,622.36 67.03,622.59 67.36,622.76 67.69,623.11 68.02,623.25 68.36,623.47 68.69,623.68 69.02,623.98 69.35,624.06 69.69,624.27 70.02,624.46 70.35,624.53 70.68,624.69 71.02,624.81 71.35,624.73 71.68,624.86 72.01,624.79 72.34,624.79 72.68,624.58 73.01,624.45 73.34,624.43 73.67,624.14 74.01,624.04 74.34,623.71 74.67,623.59 75.00,623.36 75.34,623.01 75.67,622.90 76.00,622.63 76.33,622.47 76.67,622.19 77.00,622.10 77.33,621.96 77.67,621.82 78.00,621.79 78.33,621.88 78.66,621.76 79.00,621.88 79.33,621.81 79.66,621.82 79.99,621.89 80.33,621.92 80.66,621.91 80.99,621.92 81.32,622.01 81.66,621.95 81.99,622.00 82.32,622.13 82.65,622.05 82.98,622.09 83.32,622.17 83.65,622.06 83.98,622.03 84.31,622.14 84.65,622.17 84.98,622.21 85.31,622.28 85.64,622.24 85.98,622.29 86.31,622.32 86.64,622.22 86.97,622.37 87.31,622.24 87.64,622.24 87.97,622.21 88.31,622.29 88.64,622.27 88.97,622.17 89.30,622.04 89.64,621.99 89.97,621.93 90.30,621.88 90.63,621.81 90.97,621.85 91.30,621.71 91.63,621.57 91.96,621.63 92.30,621.45 92.63,621.33 92.96,621.25 93.29,621.22 93.62,621.20 93.96,621.15 94.29,621.06 94.62,621.07 94.95,620.98 95.29,620.97 95.62,620.86 95.95,620.81 96.28,620.77 96.62,620.84 96.95,620.74 97.28,620.78 97.61,620.78 97.95,620.76 98.28,620.80 98.61,620.76 98.95,620.70 99.28,620.73 99.61,620.67 99.94,620.72 100.28,620.63 100.61,620.64 100.94,620.65 101.27,620.56 101.61,620.56 101.94,620.57 102.27,620.53 102.60,620.54 102.94,620.50 103.27,620.50 103.60,620.40 103.93,620.43 104.27,620.33 104.60,620.44 104.93,620.29 105.26,620.26 105.59,620.37 105.93,620.27 106.26,620.18 106.59,620.17 106.92,620.15 107.26,620.19 107.59,620.13 107.92,620.16 108.25,620.21 108.59,620.18 108.92,620.09 109.25,620.13 109.59,620.13 109.92,620.17 110.25,620.14 110.58,620.18 110.92,620.17 111.25,620.13 111.58,620.09 111.91,620.15 112.25,620.15 112.58,620.08 112.91,620.14 113.24,620.16 113.58,620.11 113.91,620.08 114.24,620.04 114.57,620.13 114.91,620.06 115.24,620.05 115.57,620.03 115.90,620.15 116.23,620.14 116.57,620.05 116.90,620.06 117.23,620.07 117.56,620.10 117.90,620.02 118.23,620.03 118.56,620.13 118.89,620.16 119.23,620.01 119.56,620.08 119.89,620.11 120.22,620.06 120.56,620.14 120.89,620.01 121.22,620.11 121.56,620.05 121.89,620.11 122.22,620.10 122.55,620.16 122.89,620.11 123.22,620.05 123.55,620.01 123.88,620.12 124.22,620.15 124.55,620.16 124.88,620.27 125.21,620.51 125.55,620.62 125.88,620.69 126.21,620.49 126.54,620.20 126.88,620.05 127.21,620.02 127.54,620.06 127.87,620.08 128.21,620.10 128.54,620.07 128.87,620.05 129.20,620.02 129.53,620.09 129.87,620.09 130.20,619.97 130.53,620.12 130.87,620.03 131.20,620.00 131.53,619.99 131.86,620.07 132.19,620.05 132.53,620.10 132.86,619.98 133.19,620.02 133.53,620.07 133.86,619.99 134.19,620.05 134.52,620.10 134.86,619.97 135.19,620.05 135.52,620.08 135.85,620.02 136.19,620.05 136.52,619.97 136.85,620.06 137.18,619.98 137.51,619.93 137.85,620.07 138.18,620.04 138.51,620.08 138.84,619.94 139.18,620.00 139.51,620.07 139.84,619.98 140.18,620.02 140.51,620.03 140.84,620.05 141.17,620.06 141.50,619.92 141.84,619.95 142.17,620.00 142.50,620.01 142.84,620.01 143.17,620.04 143.50,620.01 143.83,620.00 144.17,619.95 144.50,619.94 144.83,619.99 145.16,619.95 145.50,619.99 145.83,619.90 146.16,619.96 146.49,619.92 146.82,619.99 147.16,619.99 147.49,619.88 147.82,619.97 148.16,620.00 148.49,620.03 148.82,619.94 149.15,619.98 149.49,619.91 149.82,619.88 150.15,619.89 150.48,620.00 150.81,619.98 151.15,619.89 151.48,619.93 151.81,619.90 152.15,619.88 152.48,619.95 152.81,619.94 153.14,619.99 153.47,619.85 153.81,619.85 154.14,619.94 154.47,619.94 154.81,619.90 155.14,619.96 155.47,619.98 155.80,619.99 156.13,619.84 156.47,619.85 156.80,619.86 157.13,619.87 157.47,619.92 157.80,619.99 158.13,619.98 158.46,619.98 158.80,619.84 159.13,619.84 159.46,619.91 159.79,619.97 160.12,619.96 160.46,619.97 160.79,619.94 161.12,619.90 161.46,619.98 161.79,619.92 162.12,619.92 162.45,619.92 162.78,619.89 163.12,619.84 163.45,619.98 163.78,619.92 164.12,619.86 164.45,619.90 164.78,619.83 165.11,619.89 165.44,619.97 165.78,619.84 166.11,619.89 166.44,619.85 166.78,619.94 167.11,619.83 167.44,619.90 167.77,619.92 168.11,619.86 168.44,619.92 168.77,619.94 169.10,619.81 169.44,619.89 169.77,619.89 170.10,619.90 170.43,619.89 170.77,619.90 171.10,619.83 171.43,620.04 171.76,620.34 172.09,621.68 172.43,625.34 172.76,630.05 173.09,631.46 173.43,628.35 173.76,625.16 174.09,623.50 174.42,622.77 174.75,621.88 175.09,620.96 175.42,620.39 175.75,619.95 176.09,619.68 176.42,619.54 176.75,619.61 177.08,619.51 177.41,619.39 177.75,619.38 178.08,619.48 178.41,619.48 178.75,619.40 179.08,619.43 179.41,619.34 179.74,619.32 180.08,619.44 180.41,619.33 180.74,619.40 181.07,619.37 181.41,619.39 181.74,619.31 182.07,619.30 182.40,619.23 182.74,619.27 183.07,619.34 183.40,619.28" fill="none" stroke="#3f7c4b" stroke-width="1.6" stroke-linejoin="round"/>
<polyline points="35.44,642.50 35.77,642.49 36.10,642.47 36.44,642.58 36.77,642.58 37.10,642.44 37.43,642.59 37.76,642.54 38.10,642.54 38.43,642.52 38.76,642.52 39.09,642.53 39.43,642.55 39.76,642.55 40.09,642.60 40.43,642.62 40.76,642.65 41.09,642.56 41.42,642.54 41.75,642.65 42.09,642.65 42.42,642.58 42.75,642.65 43.09,642.71 43.42,642.62 43.75,642.60 44.08,642.73 44.41,642.71 44.75,642.79 45.08,642.73 45.41,642.69 45.75,642.82 46.08,642.83 46.41,642.84 46.74,642.79 47.07,642.84 47.41,642.74 47.74,642.76 48.07,642.82 48.41,642.77 48.74,642.88 49.07,642.84 49.40,642.84 49.73,642.92 50.07,642.85 50.40,642.85 50.73,642.90 51.06,642.86 51.40,642.93 51.73,642.83 52.06,642.90 52.40,642.84 52.73,642.93 53.06,642.82 53.39,642.88 53.72,642.92 54.06,642.90 54.39,642.85 54.72,642.97 55.06,642.99 55.39,642.85 55.72,642.95 56.05,642.93 56.39,643.04 56.72,642.96 57.05,643.07 57.38,643.05 57.72,642.98 58.05,643.13 58.38,643.02 58.71,643.12 59.05,643.18 59.38,643.22 59.71,643.09 60.04,643.16 60.38,643.21 60.71,643.17 61.04,643.31 61.37,643.33 61.70,643.18 62.04,643.26 62.37,643.28 62.70,643.33 63.03,643.24 63.37,643.36 63.70,643.30 64.03,643.30 64.36,643.37 64.70,643.31 65.03,643.40 65.36,643.39 65.69,643.57 66.03,643.52 66.36,643.60 66.69,643.77 67.03,643.80 67.36,643.99 67.69,643.95 68.02,644.12 68.36,644.17 68.69,644.21 69.02,644.35 69.35,644.35 69.69,644.57 70.02,644.57 70.35,644.55 70.68,644.64 71.02,644.70 71.35,644.73 71.68,644.64 72.01,644.69 72.34,644.74 72.68,644.69 73.01,644.56 73.34,644.46 73.67,644.41 74.01,644.41 74.34,644.22 74.67,644.15 75.00,644.02 75.34,643.99 75.67,643.98 76.00,643.84 76.33,643.70 76.67,643.60 77.00,643.69 77.33,643.55 77.67,643.53 78.00,643.47 78.33,643.52 78.66,643.57 79.00,643.51 79.33,643.49 79.66,643.59 79.99,643.46 80.33,643.53 80.66,643.61 80.99,643.55 81.32,643.55 81.66,643.64 81.99,643.62 82.32,643.64 82.65,643.60 82.98,643.58 83.32,643.63 83.65,643.68 83.98,643.60 84.31,643.61 84.65,643.70 84.98,643.61 85.31,643.61 85.64,643.66 85.98,643.75 86.31,643.69 86.64,643.67 86.97,643.67 87.31,643.69 87.64,643.76 87.97,643.63 88.31,643.69 88.64,643.74 88.97,643.70 89.30,643.63 89.64,643.68 89.97,643.55 90.30,643.48 90.63,643.50 90.97,643.47 91.30,643.53 91.63,643.39 91.96,643.34 92.30,643.34 92.63,643.33 92.96,643.37 93.29,643.24 93.62,643.22 93.96,643.18 94.29,643.15 94.62,643.10 94.95,643.18 95.29,643.11 95.62,643.10 95.95,643.14 96.28,643.05 96.62,643.05 96.95,643.03 97.28,643.16 97.61,643.12 97.95,643.09 98.28,643.02 98.61,643.10 98.95,643.02 99.28,643.13 99.61,643.15 99.94,643.05 100.28,643.03 100.61,643.00 100.94,643.11 101.27,642.98 101.61,643.01 101.94,642.95 102.27,642.97 102.60,643.06 102.94,642.98 103.27,642.91 103.60,642.91 103.93,642.88 104.27,642.94 104.60,642.96 104.93,642.87 105.26,642.84 105.59,642.85 105.93,642.96 106.26,642.93 106.59,642.87 106.92,642.80 107.26,642.81 107.59,642.77 107.92,642.81 108.25,642.77 108.59,642.85 108.92,642.86 109.25,642.79 109.59,642.80 109.92,642.77 110.25,642.79 110.58,642.89 110.92,642.76 111.25,642.76 111.58,642.89 111.91,642.87 112.25,642.87 112.58,642.75 112.91,642.82 113.24,642.76 113.58,642.83 113.91,642.89 114.24,642.82 114.57,642.89 114.91,642.81 115.24,642.83 115.57,642.78 115.90,642.76 116.23,642.74 116.57,642.74 116.90,642.78 117.23,642.89 117.56,642.84 117.90,642.83 118.23,642.75 118.56,642.77 118.89,642.85 119.23,642.87 119.56,642.74 119.89,642.89 120.22,642.83 120.56,642.78 120.89,642.89 121.22,642.83 121.56,642.85 121.89,642.83 122.22,642.78 122.55,642.87 122.89,642.85 123.22,642.75 123.55,642.80 123.88,642.83 124.22,642.86 124.55,642.90 124.88,642.96 125.21,642.95 125.55,642.97 125.88,643.01 126.21,642.90 126.54,642.95 126.88,642.79 127.21,642.79 127.54,642.78 127.87,642.76 128.21,642.79 128.54,642.74 128.87,642.73 129.20,642.87 129.53,642.87 129.87,642.76 130.20,642.77 130.53,642.80 130.87,642.76 131.20,642.82 131.53,642.73 131.86,642.86 132.19,642.85 132.53,642.76 132.86,642.75 133.19,642.86 133.53,642.87 133.86,642.73 134.19,642.73 134.52,642.77 134.86,642.80 135.19,642.83 135.52,642.81 135.85,642.81 136.19,642.83 136.52,642.84 136.85,642.71 137.18,642.78 137.51,642.71 137.85,642.77 138.18,642.83 138.51,642.70 138.84,642.72 139.18,642.75 139.51,642.71 139.84,642.76 140.18,642.74 140.51,642.73 140.84,642.70 141.17,642.74 141.50,642.73 141.84,642.77 142.17,642.71 142.50,642.85 142.84,642.82 143.17,642.75 143.50,642.78 143.83,642.71 144.17,642.83 144.50,642.82 144.83,642.82 145.16,642.71 145.50,642.75 145.83,642.73 146.16,642.76 146.49,642.74 146.82,642.83 147.16,642.75 147.49,642.81 147.82,642.81 148.16,642.76 148.49,642.69 148.82,642.77 149.15,642.68 149.49,642.83 149.82,642.68 150.15,642.68 150.48,642.72 150.81,642.78 151.15,642.81 151.48,642.67 151.81,642.74 152.15,642.77 152.48,642.72 152.81,642.83 153.14,642.73 153.47,642.72 153.81,642.81 154.14,642.82 154.47,642.80 154.81,642.70 155.14,642.81 155.47,642.72 155.80,642.70 156.13,642.73 156.47,642.80 156.80,642.78 157.13,642.79 157.47,642.75 157.80,642.74 158.13,642.80 158.46,642.68 158.80,642.71 159.13,642.78 159.46,642.80 159.79,642.77 160.12,642.76 160.46,642.69 160.79,642.75 161.12,642.81 161.46,642.69 161.79,642.77 162.12,642.81 162.45,642.76 162.78,642.71 163.12,642.78 163.45,642.66 163.78,642.80 164.12,642.77 164.45,642.66 164.78,642.74 165.11,642.70 165.44,642.76 165.78,642.67 166.11,642.68 166.44,642.80 166.78,642.68 167.11,642.72 167.44,642.69 167.77,642.76 168.11,642.74 168.44,642.75 168.77,642.78 169.10,642.68 169.44,642.74 169.77,642.77 170.10,642.69 170.43,642.70 170.77,642.69 171.10,642.75 171.43,642.92 171.76,643.38 172.09,644.85 172.43,648.63 172.76,653.89 173.09,655.30 173.43,651.93 173.76,648.53 174.09,646.82 174.42,645.99 174.75,645.09 175.09,644.20 175.42,643.51 175.75,643.06 176.09,642.75 176.42,642.62 176.75,642.61 177.08,642.53 177.41,642.61 177.75,642.58 178.08,642.53 178.41,642.58 178.75,642.50 179.08,642.58 179.41,642.47 179.74,642.47 180.08,642.53 180.41,642.47 180.74,642.59 181.07,642.49 181.41,642.59 181.74,642.43 182.07,642.53 182.40,642.43 182.74,642.52 183.07,642.53 183.40,642.54" fill="none" stroke="#5fa86f" stroke-width="1.6" stroke-linejoin="round"/>
<polyline points="35.44,671.04 35.77,671.00 36.10,671.01 36.44,670.98 36.77,670.93 37.10,670.97 37.43,670.95 37.76,670.93 38.10,670.99 38.43,670.98 38.76,671.07 39.09,671.04 39.43,671.03 39.76,670.99 40.09,671.11 40.43,670.97 40.76,671.00 41.09,671.09 41.42,671.02 41.75,671.12 42.09,670.98 42.42,671.11 42.75,671.11 43.09,671.15 43.42,671.11 43.75,671.04 44.08,671.09 44.41,671.06 44.75,671.17 45.08,671.13 45.41,671.10 45.75,671.16 46.08,671.19 46.41,671.15 46.74,671.16 47.07,671.07 47.41,671.13 47.74,671.11 48.07,671.12 48.41,671.19 48.74,671.20 49.07,671.19 49.40,671.19 49.73,671.20 50.07,671.11 50.40,671.10 50.73,671.25 51.06,671.17 51.40,671.16 51.73,671.25 52.06,671.20 52.40,671.13 52.73,671.22 53.06,671.11 53.39,671.18 53.72,671.15 54.06,671.22 54.39,671.26 54.72,671.19 55.06,671.23 55.39,671.20 55.72,671.12 56.05,671.18 56.39,671.25 56.72,671.17 57.05,671.15 57.38,671.24 57.72,671.23 58.05,671.26 58.38,671.32 58.71,671.32 59.05,671.22 59.38,671.27 59.71,671.32 60.04,671.29 60.38,671.39 60.71,671.30 61.04,671.38 61.37,671.35 61.70,671.37 62.04,671.40 62.37,671.33 62.70,671.43 63.03,671.32 63.37,671.35 63.70,671.31 64.03,671.44 64.36,671.40 64.70,671.42 65.03,671.43 65.36,671.45 65.69,671.46 66.03,671.50 66.36,671.46 66.69,671.57 67.03,671.63 67.36,671.64 67.69,671.73 68.02,671.76 68.36,671.74 68.69,671.76 69.02,671.85 69.35,671.93 69.69,671.91 70.02,671.87 70.35,672.01 70.68,671.99 71.02,671.91 71.35,671.92 71.68,672.00 72.01,672.03 72.34,672.05 72.68,672.03 73.01,672.00 73.34,671.97 73.67,671.89 74.01,671.90 74.34,671.83 74.67,671.76 75.00,671.65 75.34,671.67 75.67,671.71 76.00,671.64 76.33,671.57 76.67,671.56 77.00,671.55 77.33,671.44 77.67,671.49 78.00,671.42 78.33,671.46 78.66,671.38 79.00,671.48 79.33,671.51 79.66,671.48 79.99,671.48 80.33,671.50 80.66,671.46 80.99,671.40 81.32,671.45 81.66,671.51 81.99,671.48 82.32,671.47 82.65,671.55 82.98,671.47 83.32,671.56 83.65,671.58 83.98,671.44 84.31,671.50 84.65,671.50 84.98,671.48 85.31,671.56 85.64,671.50 85.98,671.51 86.31,671.51 86.64,671.55 86.97,671.54 87.31,671.50 87.64,671.53 87.97,671.58 88.31,671.58 88.64,671.49 88.97,671.51 89.30,671.52 89.64,671.57 89.97,671.55 90.30,671.50 90.63,671.42 90.97,671.41 91.30,671.37 91.63,671.34 91.96,671.43 92.30,671.38 92.63,671.33 92.96,671.29 93.29,671.29 93.62,671.35 93.96,671.35 94.29,671.29 94.62,671.36 94.95,671.30 95.29,671.22 95.62,671.20 95.95,671.35 96.28,671.34 96.62,671.26 96.95,671.20 97.28,671.30 97.61,671.31 97.95,671.22 98.28,671.23 98.61,671.31 98.95,671.22 99.28,671.31 99.61,671.22 99.94,671.21 100.28,671.27 100.61,671.17 100.94,671.28 101.27,671.31 101.61,671.17 101.94,671.22 102.27,671.15 102.60,671.27 102.94,671.26 103.27,671.28 103.60,671.27 103.93,671.12 104.27,671.23 104.60,671.25 104.93,671.20 105.26,671.14 105.59,671.13 105.93,671.20 106.26,671.12 106.59,671.09 106.92,671.22 107.26,671.15 107.59,671.18 107.92,671.09 108.25,671.15 108.59,671.13 108.92,671.21 109.25,671.09 109.59,671.20 109.92,671.09 110.25,671.19 110.58,671.13 110.92,671.08 111.25,671.19 111.58,671.11 111.91,671.22 112.25,671.20 112.58,671.18 112.91,671.20 113.24,671.15 113.58,671.07 113.91,671.07 114.24,671.07 114.57,671.10 114.91,671.20 115.24,671.18 115.57,671.13 115.90,671.13 116.23,671.18 116.57,671.12 116.90,671.20 117.23,671.16 117.56,671.10 117.90,671.19 118.23,671.08 118.56,671.16 118.89,671.15 119.23,671.08 119.56,671.14 119.89,671.19 120.22,671.15 120.56,671.08 120.89,671.10 121.22,671.11 121.56,671.19 121.89,671.06 122.22,671.20 122.55,671.20 122.89,671.18 123.22,671.20 123.55,671.06 123.88,671.14 124.22,671.20 124.55,671.22 124.88,671.24 125.21,671.22 125.55,671.20 125.88,671.18 126.21,671.21 126.54,671.14 126.88,671.22 127.21,671.18 127.54,671.10 127.87,671.16 128.21,671.12 128.54,671.06 128.87,671.09 129.20,671.20 129.53,671.14 129.87,671.16 130.20,671.10 130.53,671.15 130.87,671.07 131.20,671.11 131.53,671.06 131.86,671.20 132.19,671.20 132.53,671.13 132.86,671.14 133.19,671.19 133.53,671.15 133.86,671.10 134.19,671.21 134.52,671.06 134.86,671.14 135.19,671.11 135.52,671.13 135.85,671.14 136.19,671.12 136.52,671.09 136.85,671.13 137.18,671.20 137.51,671.16 137.85,671.17 138.18,671.20 138.51,671.17 138.84,671.17 139.18,671.17 139.51,671.20 139.84,671.14 140.18,671.05 140.51,671.11 140.84,671.07 141.17,671.14 141.50,671.17 141.84,671.17 142.17,671.06 142.50,671.05 142.84,671.18 143.17,671.18 143.50,671.09 143.83,671.15 144.17,671.20 144.50,671.17 144.83,671.04 145.16,671.12 145.50,671.20 145.83,671.11 146.16,671.10 146.49,671.16 146.82,671.11 147.16,671.11 147.49,671.13 147.82,671.16 148.16,671.10 148.49,671.14 148.82,671.07 149.15,671.08 149.49,671.04 149.82,671.11 150.15,671.07 150.48,671.12 150.81,671.17 151.15,671.16 151.48,671.06 151.81,671.14 152.15,671.09 152.48,671.12 152.81,671.10 153.14,671.09 153.47,671.04 153.81,671.14 154.14,671.14 154.47,671.10 154.81,671.16 155.14,671.15 155.47,671.18 155.80,671.05 156.13,671.04 156.47,671.09 156.80,671.14 157.13,671.14 157.47,671.14 157.80,671.10 158.13,671.09 158.46,671.12 158.80,671.17 159.13,671.15 159.46,671.05 159.79,671.03 160.12,671.06 160.46,671.10 160.79,671.15 161.12,671.09 161.46,671.17 161.79,671.16 162.12,671.12 162.45,671.08 162.78,671.07 163.12,671.12 163.45,671.16 163.78,671.09 164.12,671.16 164.45,671.06 164.78,671.15 165.11,671.12 165.44,671.06 165.78,671.15 166.11,671.07 166.44,671.03 166.78,671.08 167.11,671.17 167.44,671.07 167.77,671.08 168.11,671.10 168.44,671.15 168.77,671.08 169.10,671.16 169.44,671.08 169.77,671.08 170.10,671.09 170.43,671.15 170.77,671.08 171.10,671.14 171.43,671.33 171.76,671.77 172.09,673.32 172.43,677.27 172.76,682.65 173.09,684.19 173.43,680.63 173.76,677.18 174.09,675.43 174.42,674.52 174.75,673.46 175.09,672.59 175.42,671.91 175.75,671.48 176.09,671.27 176.42,671.14 176.75,671.05 177.08,671.07 177.41,671.06 177.75,671.02 178.08,671.09 178.41,671.07 178.75,671.01 179.08,671.03 179.41,671.07 179.74,671.01 180.08,670.98 180.41,670.93 180.74,670.97 181.07,670.97 181.41,670.97 181.74,670.92 182.07,670.94 182.40,671.08 182.74,670.96 183.07,671.00 183.40,670.92" fill="none" stroke="#84c193" stroke-width="1.6" stroke-linejoin="round"/>
<polyline points="35.44,701.76 35.77,701.76 36.10,701.69 36.44,701.63 36.77,701.64 37.10,701.74 37.43,701.65 37.76,701.67 38.10,701.74 38.43,701.78 38.76,701.79 39.09,701.72 39.43,701.79 39.76,701.72 40.09,701.72 40.43,701.76 40.76,701.77 41.09,701.71 41.42,701.74 41.75,701.80 42.09,701.75 42.42,701.72 42.75,701.80 43.09,701.78 43.42,701.72 43.75,701.77 44.08,701.71 44.41,701.77 44.75,701.80 45.08,701.71 45.41,701.80 45.75,701.72 46.08,701.84 46.41,701.73 46.74,701.75 47.07,701.73 47.41,701.83 47.74,701.81 48.07,701.79 48.41,701.89 48.74,701.75 49.07,701.86 49.40,701.87 49.73,701.87 50.07,701.84 50.40,701.90 50.73,701.78 51.06,701.84 51.40,701.88 51.73,701.92 52.06,701.79 52.40,701.90 52.73,701.91 53.06,701.79 53.39,701.88 53.72,701.83 54.06,701.91 54.39,701.84 54.72,701.88 55.06,701.80 55.39,701.82 55.72,701.83 56.05,701.94 56.39,701.92 56.72,701.92 57.05,701.87 57.38,701.93 57.72,701.89 58.05,701.96 58.38,701.97 58.71,701.98 59.05,701.94 59.38,701.86 59.71,702.02 60.04,701.94 60.38,701.91 60.71,702.03 61.04,702.02 61.37,702.06 61.70,702.05 62.04,701.92 62.37,702.04 62.70,701.95 63.03,702.02 63.37,702.03 63.70,702.02 64.03,701.96 64.36,702.01 64.70,702.10 65.03,702.07 65.36,702.13 65.69,702.00 66.03,702.03 66.36,702.18 66.69,702.12 67.03,702.15 67.36,702.26 67.69,702.26 68.02,702.26 68.36,702.26 68.69,702.30 69.02,702.34 69.35,702.41 69.69,702.45 70.02,702.39 70.35,702.42 70.68,702.52 71.02,702.48 71.35,702.46 71.68,702.45 72.01,702.51 72.34,702.44 72.68,702.49 73.01,702.42 73.34,702.48 73.67,702.49 74.01,702.38 74.34,702.34 74.67,702.33 75.00,702.25 75.34,702.24 75.67,702.24 76.00,702.20 76.33,702.11 76.67,702.08 77.00,702.16 77.33,702.15 77.67,702.07 78.00,702.00 78.33,702.04 78.66,702.09 79.00,702.07 79.33,702.03 79.66,702.02 79.99,702.08 80.33,702.12 80.66,702.03 80.99,702.05 81.32,702.18 81.66,702.16 81.99,702.15 82.32,702.11 82.65,702.11 82.98,702.07 83.32,702.15 83.65,702.07 83.98,702.09 84.31,702.12 84.65,702.08 84.98,702.13 85.31,702.12 85.64,702.20 85.98,702.10 86.31,702.09 86.64,702.07 86.97,702.16 87.31,702.15 87.64,702.07 87.97,702.13 88.31,702.16 88.64,702.15 88.97,702.06 89.30,702.17 89.64,702.13 89.97,702.07 90.30,702.07 90.63,702.07 90.97,702.01 91.30,702.03 91.63,702.07 91.96,701.97 92.30,702.08 92.63,701.99 92.96,702.03 93.29,701.92 93.62,702.03 93.96,701.98 94.29,702.01 94.62,702.01 94.95,701.98 95.29,701.94 95.62,701.88 95.95,701.97 96.28,701.95 96.62,701.94 96.95,701.87 97.28,701.91 97.61,701.96 97.95,701.86 98.28,701.99 98.61,701.92 98.95,701.85 99.28,701.87 99.61,701.99 99.94,701.86 100.28,701.95 100.61,701.89 100.94,701.95 101.27,701.86 101.61,701.96 101.94,701.83 102.27,701.84 102.60,701.82 102.94,701.92 103.27,701.82 103.60,701.93 103.93,701.94 104.27,701.84 104.60,701.87 104.93,701.91 105.26,701.91 105.59,701.80 105.93,701.90 106.26,701.87 106.59,701.82 106.92,701.83 107.26,701.87 107.59,701.85 107.92,701.78 108.25,701.90 108.59,701.88 108.92,701.84 109.25,701.88 109.59,701.79 109.92,701.86 110.25,701.80 110.58,701.90 110.92,701.76 111.25,701.82 111.58,701.85 111.91,701.75 112.25,701.82 112.58,701.79 112.91,701.83 113.24,701.85 113.58,701.78 113.91,701.79 114.24,701.80 114.57,701.84 114.91,701.84 115.24,701.79 115.57,701.78 115.90,701.79 116.23,701.84 116.57,701.82 116.90,701.81 117.23,701.78 117.56,701.86 117.90,701.82 118.23,701.76 118.56,701.82 118.89,701.89 119.23,701.86 119.56,701.74 119.89,701.86 120.22,701.76 120.56,701.79 120.89,701.74 121.22,701.80 121.56,701.76 121.89,701.83 122.22,701.84 122.55,701.76 122.89,701.78 123.22,701.90 123.55,701.74 123.88,701.84 124.22,701.85 124.55,701.84 124.88,701.84 125.21,701.91 125.55,701.90 125.88,701.86 126.21,701.93 126.54,701.81 126.88,701.85 127.21,701.84 127.54,701.88 127.87,701.82 128.21,701.82 128.54,701.80 128.87,701.89 129.20,701.81 129.53,701.88 129.87,701.78 130.20,701.76 130.53,701.76 130.87,701.73 131.20,701.77 131.53,701.83 131.86,701.78 132.19,701.79 132.53,701.82 132.86,701.79 133.19,701.75 133.53,701.73 133.86,701.82 134.19,701.85 134.52,701.77 134.86,701.81 135.19,701.76 135.52,701.80 135.85,701.83 136.19,701.78 136.52,701.87 136.85,701.88 137.18,701.74 137.51,701.83 137.85,701.77 138.18,701.87 138.51,701.87 138.84,701.85 139.18,701.79 139.51,701.87 139.84,701.73 140.18,701.75 140.51,701.75 140.84,701.81 141.17,701.78 141.50,701.79 141.84,701.82 142.17,701.87 142.50,701.87 142.84,701.78 143.17,701.85 143.50,701.83 143.83,701.84 144.17,701.74 144.50,701.82 144.83,701.76 145.16,701.73 145.50,701.84 145.83,701.75 146.16,701.72 146.49,701.87 146.82,701.80 147.16,701.79 147.49,701.82 147.82,701.72 148.16,701.74 148.49,701.75 148.82,701.79 149.15,701.73 149.49,701.74 149.82,701.72 150.15,701.83 150.48,701.75 150.81,701.72 151.15,701.74 151.48,701.83 151.81,701.81 152.15,701.77 152.48,701.72 152.81,701.83 153.14,701.84 153.47,701.77 153.81,701.86 154.14,701.84 154.47,701.72 154.81,701.80 155.14,701.84 155.47,701.75 155.80,701.82 156.13,701.87 156.47,701.84 156.80,701.78 157.13,701.73 157.47,701.77 157.80,701.85 158.13,701.76 158.46,701.81 158.80,701.85 159.13,701.79 159.46,701.82 159.79,701.76 160.12,701.71 160.46,701.87 160.79,701.86 161.12,701.79 161.46,701.76 161.79,701.81 162.12,701.86 162.45,701.78 162.78,701.75 163.12,701.81 163.45,701.75 163.78,701.77 164.12,701.85 164.45,701.73 164.78,701.85 165.11,701.75 165.44,701.82 165.78,701.75 166.11,701.77 166.44,701.82 166.78,701.73 167.11,701.79 167.44,701.72 167.77,701.82 168.11,701.75 168.44,701.80 168.77,701.78 169.10,701.80 169.44,701.86 169.77,701.70 170.10,701.82 170.43,701.85 170.77,701.86 171.10,701.82 171.43,701.94 171.76,702.40 172.09,704.14 172.43,708.61 172.76,714.55 173.09,716.22 173.43,712.38 173.76,708.43 174.09,706.60 174.42,705.54 174.75,704.50 175.09,703.44 175.42,702.74 175.75,702.27 176.09,701.89 176.42,701.90 176.75,701.73 177.08,701.74 177.41,701.72 177.75,701.77 178.08,701.73 178.41,701.66 178.75,701.64 179.08,701.73 179.41,701.69 179.74,701.74 180.08,701.78 180.41,701.70 180.74,701.79 181.07,701.73 181.41,701.71 181.74,701.71 182.07,701.75 182.40,701.75 182.74,701.67 183.07,701.66 183.40,701.66" fill="none" stroke="#a5d2af" stroke-width="1.6" stroke-linejoin="round"/>
<line x1="58.40" y1="619.10" x2="58.40" y2="715.50" stroke="#707070" stroke-width="1.3" stroke-dasharray="3.2,2.2"/>
<line x1="171.70" y1="619.10" x2="171.70" y2="715.50" stroke="#707070" stroke-width="1.3" stroke-dasharray="3.2,2.2"/>
<rect x="34.50" y="609.20" width="148.90" height="119.70" fill="none" stroke="#111" stroke-width="1.6"/>
<text x="59.90" y="617.30" font-size="8.9" text-anchor="middle" font-weight="bold" fill="#111" stroke="#111" stroke-width="0.14">-OH</text>
<text x="182.20" y="617.30" font-size="8.9" text-anchor="end" font-weight="bold" fill="#111" stroke="#111" stroke-width="0.14">C=O</text>
<text x="169.40" y="629.00" font-size="9.0" text-anchor="end" font-weight="bold" fill="#111" stroke="#111" stroke-width="0.14">35 min.</text>
<text x="169.40" y="651.50" font-size="9.0" text-anchor="end" font-weight="bold" fill="#111" stroke="#111" stroke-width="0.14">30 min.</text>
<text x="169.40" y="682.40" font-size="9.0" text-anchor="end" font-weight="bold" fill="#111" stroke="#111" stroke-width="0.14">25 min.</text>
<text x="169.40" y="711.60" font-size="9.0" text-anchor="end" font-weight="bold" fill="#111" stroke="#111" stroke-width="0.14">20 min.</text>
<line x1="50.40" y1="728.90" x2="50.40" y2="730.90" stroke="#111" stroke-width="1"/>
<line x1="83.65" y1="728.90" x2="83.65" y2="730.90" stroke="#111" stroke-width="1"/>
<line x1="116.90" y1="728.90" x2="116.90" y2="730.90" stroke="#111" stroke-width="1"/>
<line x1="150.15" y1="728.90" x2="150.15" y2="730.90" stroke="#111" stroke-width="1"/>
<line x1="183.40" y1="728.90" x2="183.40" y2="730.90" stroke="#111" stroke-width="1"/>
<line x1="67.03" y1="728.90" x2="67.03" y2="730.20" stroke="#111" stroke-width="1"/>
<line x1="100.28" y1="728.90" x2="100.28" y2="730.20" stroke="#111" stroke-width="1"/>
<line x1="133.53" y1="728.90" x2="133.53" y2="730.20" stroke="#111" stroke-width="1"/>
<line x1="166.78" y1="728.90" x2="166.78" y2="730.20" stroke="#111" stroke-width="1"/>
<text x="50.40" y="741.00" font-size="9.6" text-anchor="middle" font-weight="bold" fill="#111" stroke="#111" stroke-width="0.14">3500</text>
<text x="83.65" y="741.00" font-size="9.6" text-anchor="middle" font-weight="bold" fill="#111" stroke="#111" stroke-width="0.14">3000</text>
<text x="116.90" y="741.00" font-size="9.6" text-anchor="middle" font-weight="bold" fill="#111" stroke="#111" stroke-width="0.14">2500</text>
<text x="150.15" y="741.00" font-size="9.6" text-anchor="middle" font-weight="bold" fill="#111" stroke="#111" stroke-width="0.14">2000</text>
<text x="183.40" y="741.00" font-size="9.6" text-anchor="middle" font-weight="bold" fill="#111" stroke="#111" stroke-width="0.14">1500</text>
<text x="108.50" y="757.80" font-size="10.1" text-anchor="middle" font-weight="bold" fill="#111" stroke="#111" stroke-width="0.14">Wavenumber (cm<tspan font-size="6.6" dy="-3.8">-1</tspan><tspan dy="3.8">)</tspan></text>
<rect x="216.10" y="296.60" width="76.30" height="118.60" fill="url(#hm_h)" stroke="none" stroke-width="1"/>
<defs><radialGradient id="hGlow" cx="0.5" cy="0.5" r="0.5"><stop offset="0" stop-color="#f3dcae" stop-opacity="0.85"/><stop offset="1" stop-color="#ffffff" stop-opacity="0"/></radialGradient><linearGradient id="hCore" x1="0" y1="0" x2="1" y2="0"><stop offset="0" stop-color="#f3d9a4" stop-opacity="0"/><stop offset="0.5" stop-color="#e7b658"/><stop offset="1" stop-color="#f3d9a4" stop-opacity="0"/></linearGradient></defs>
<ellipse cx="271.5" cy="316" rx="8.5" ry="19" fill="url(#hGlow)"/>
<path d="M263.6,297.4 L271.2,297.4 C270.8,315 269.2,328 268.9,342 L268.5,414.3 L265.5,414.3 L265.2,342 C264.8,328 263.9,315 263.6,297.4Z" fill="url(#hCore)" opacity="0.95"/>
<rect x="216.10" y="296.60" width="76.30" height="118.60" fill="none" stroke="#111" stroke-width="1.6"/>
<text x="191.00" y="301.50" font-size="12.5" text-anchor="start" font-weight="bold" fill="#111" stroke="#111" stroke-width="0.14">h</text>
<line x1="216.10" y1="296.60" x2="214.10" y2="296.60" stroke="#111" stroke-width="1"/>
<text x="213.30" y="300.10" font-size="9.6" text-anchor="end" font-weight="bold" fill="#111" stroke="#111" stroke-width="0.14">14</text>
<line x1="216.10" y1="316.37" x2="214.10" y2="316.37" stroke="#111" stroke-width="1"/>
<text x="213.30" y="319.87" font-size="9.6" text-anchor="end" font-weight="bold" fill="#111" stroke="#111" stroke-width="0.14">12</text>
<line x1="216.10" y1="336.13" x2="214.10" y2="336.13" stroke="#111" stroke-width="1"/>
<text x="213.30" y="339.63" font-size="9.6" text-anchor="end" font-weight="bold" fill="#111" stroke="#111" stroke-width="0.14">10</text>
<line x1="216.10" y1="355.90" x2="214.10" y2="355.90" stroke="#111" stroke-width="1"/>
<text x="213.30" y="359.40" font-size="9.6" text-anchor="end" font-weight="bold" fill="#111" stroke="#111" stroke-width="0.14">8</text>
<line x1="216.10" y1="375.67" x2="214.10" y2="375.67" stroke="#111" stroke-width="1"/>
<text x="213.30" y="379.17" font-size="9.6" text-anchor="end" font-weight="bold" fill="#111" stroke="#111" stroke-width="0.14">6</text>
<line x1="216.10" y1="395.43" x2="214.10" y2="395.43" stroke="#111" stroke-width="1"/>
<text x="213.30" y="398.93" font-size="9.6" text-anchor="end" font-weight="bold" fill="#111" stroke="#111" stroke-width="0.14">4</text>
<line x1="216.10" y1="415.20" x2="214.10" y2="415.20" stroke="#111" stroke-width="1"/>
<text x="213.30" y="418.70" font-size="9.6" text-anchor="end" font-weight="bold" fill="#111" stroke="#111" stroke-width="0.14">2</text>
<line x1="216.10" y1="306.48" x2="214.80" y2="306.48" stroke="#111" stroke-width="1"/>
<line x1="216.10" y1="326.25" x2="214.80" y2="326.25" stroke="#111" stroke-width="1"/>
<line x1="216.10" y1="346.02" x2="214.80" y2="346.02" stroke="#111" stroke-width="1"/>
<line x1="216.10" y1="365.78" x2="214.80" y2="365.78" stroke="#111" stroke-width="1"/>
<line x1="216.10" y1="385.55" x2="214.80" y2="385.55" stroke="#111" stroke-width="1"/>
<line x1="216.10" y1="405.32" x2="214.80" y2="405.32" stroke="#111" stroke-width="1"/>
<line x1="216.10" y1="415.20" x2="216.10" y2="417.20" stroke="#111" stroke-width="1"/>
<text x="216.10" y="428.20" font-size="9.6" text-anchor="middle" font-weight="bold" fill="#111" stroke="#111" stroke-width="0.14">2000</text>
<line x1="246.62" y1="415.20" x2="246.62" y2="417.20" stroke="#111" stroke-width="1"/>
<text x="246.62" y="428.20" font-size="9.6" text-anchor="middle" font-weight="bold" fill="#111" stroke="#111" stroke-width="0.14">1800</text>
<line x1="277.14" y1="415.20" x2="277.14" y2="417.20" stroke="#111" stroke-width="1"/>
<text x="277.14" y="428.20" font-size="9.6" text-anchor="middle" font-weight="bold" fill="#111" stroke="#111" stroke-width="0.14">1600</text>
<line x1="231.36" y1="415.20" x2="231.36" y2="416.50" stroke="#111" stroke-width="1"/>
<line x1="261.88" y1="415.20" x2="261.88" y2="416.50" stroke="#111" stroke-width="1"/>
<text x="197.30" y="355.90" font-size="10.1" text-anchor="middle" font-weight="bold" fill="#111" stroke="#111" stroke-width="0.14" transform="rotate(-90 197.3 355.9)">Time (min.)</text>
<text x="253.50" y="444.40" font-size="10.1" text-anchor="middle" font-weight="bold" fill="#111" stroke="#111" stroke-width="0.14">Wavenumber (cm<tspan font-size="6.6" dy="-3.8">-1</tspan><tspan dy="3.8">)</tspan></text>
<rect x="300.80" y="299.50" width="7.40" height="111.00" fill="url(#hm_hcb)" stroke="none" stroke-width="1"/>
<text x="305.50" y="298.10" font-size="9.6" text-anchor="middle" font-weight="bold" fill="#111" stroke="#111" stroke-width="0.14">low</text>
<text x="305.50" y="420.50" font-size="9.6" text-anchor="middle" font-weight="bold" fill="#111" stroke="#111" stroke-width="0.14">high</text>
<text x="321.00" y="355.00" font-size="10.1" text-anchor="middle" font-weight="bold" fill="#111" stroke="#111" stroke-width="0.14" transform="rotate(-90 321.0 355.0)">Intensity (arb. units)</text>
<text x="242.00" y="309.00" font-size="8.9" text-anchor="middle" font-weight="bold" fill="#111" stroke="#111" stroke-width="0.14">C=O</text>
<line x1="242.00" y1="311.00" x2="260.60" y2="319.50" stroke="#111" stroke-width="1.4"/>
<path d="M265.60,321.80 L257.60,315.60 L255.60,320.80Z" fill="#111"/>
<rect x="216.70" y="453.60" width="75.60" height="118.90" fill="url(#hm_k)" stroke="none" stroke-width="1"/>
<defs><linearGradient id="kCore" x1="0" y1="0" x2="1" y2="0"><stop offset="0" stop-color="#f3d9a4" stop-opacity="0.2"/><stop offset="0.5" stop-color="#e9b656"/><stop offset="1" stop-color="#f3d9a4" stop-opacity="0.2"/></linearGradient></defs>
<path d="M264.6,454.4 L270.9,454.4 L270.4,520 C269.8,535 268.7,548 267.7,557 C266.7,548 265.6,535 265.1,520Z" fill="url(#kCore)"/>
<rect x="216.70" y="453.60" width="75.60" height="118.90" fill="none" stroke="#111" stroke-width="1.6"/>
<text x="191.00" y="456.80" font-size="12.5" text-anchor="start" font-weight="bold" fill="#111" stroke="#111" stroke-width="0.14">k</text>
<line x1="216.70" y1="453.60" x2="214.70" y2="453.60" stroke="#111" stroke-width="1"/>
<text x="213.90" y="457.10" font-size="9.6" text-anchor="end" font-weight="bold" fill="#111" stroke="#111" stroke-width="0.14">25</text>
<line x1="216.70" y1="493.00" x2="214.70" y2="493.00" stroke="#111" stroke-width="1"/>
<text x="213.90" y="496.50" font-size="9.6" text-anchor="end" font-weight="bold" fill="#111" stroke="#111" stroke-width="0.14">20</text>
<line x1="216.70" y1="533.00" x2="214.70" y2="533.00" stroke="#111" stroke-width="1"/>
<text x="213.90" y="536.50" font-size="9.6" text-anchor="end" font-weight="bold" fill="#111" stroke="#111" stroke-width="0.14">15</text>
<line x1="216.70" y1="572.50" x2="214.70" y2="572.50" stroke="#111" stroke-width="1"/>
<text x="213.90" y="576.00" font-size="9.6" text-anchor="end" font-weight="bold" fill="#111" stroke="#111" stroke-width="0.14">10</text>
<line x1="216.70" y1="473.30" x2="215.40" y2="473.30" stroke="#111" stroke-width="1"/>
<line x1="216.70" y1="513.00" x2="215.40" y2="513.00" stroke="#111" stroke-width="1"/>
<line x1="216.70" y1="552.70" x2="215.40" y2="552.70" stroke="#111" stroke-width="1"/>
<line x1="216.70" y1="572.50" x2="216.70" y2="574.50" stroke="#111" stroke-width="1"/>
<text x="216.70" y="585.50" font-size="9.6" text-anchor="middle" font-weight="bold" fill="#111" stroke="#111" stroke-width="0.14">2000</text>
<line x1="246.94" y1="572.50" x2="246.94" y2="574.50" stroke="#111" stroke-width="1"/>
<text x="246.94" y="585.50" font-size="9.6" text-anchor="middle" font-weight="bold" fill="#111" stroke="#111" stroke-width="0.14">1800</text>
<line x1="277.18" y1="572.50" x2="277.18" y2="574.50" stroke="#111" stroke-width="1"/>
<text x="277.18" y="585.50" font-size="9.6" text-anchor="middle" font-weight="bold" fill="#111" stroke="#111" stroke-width="0.14">1600</text>
<line x1="231.82" y1="572.50" x2="231.82" y2="573.80" stroke="#111" stroke-width="1"/>
<line x1="262.06" y1="572.50" x2="262.06" y2="573.80" stroke="#111" stroke-width="1"/>
<text x="197.30" y="513.05" font-size="10.1" text-anchor="middle" font-weight="bold" fill="#111" stroke="#111" stroke-width="0.14" transform="rotate(-90 197.3 513.05)">Time (min.)</text>
<text x="253.50" y="601.70" font-size="10.1" text-anchor="middle" font-weight="bold" fill="#111" stroke="#111" stroke-width="0.14">Wavenumber (cm<tspan font-size="6.6" dy="-3.8">-1</tspan><tspan dy="3.8">)</tspan></text>
<rect x="300.80" y="457.50" width="7.40" height="111.30" fill="url(#hm_kcb)" stroke="none" stroke-width="1"/>
<text x="305.50" y="454.80" font-size="9.6" text-anchor="middle" font-weight="bold" fill="#111" stroke="#111" stroke-width="0.14">low</text>
<text x="305.50" y="577.40" font-size="9.6" text-anchor="middle" font-weight="bold" fill="#111" stroke="#111" stroke-width="0.14">high</text>
<text x="321.00" y="513.15" font-size="10.1" text-anchor="middle" font-weight="bold" fill="#111" stroke="#111" stroke-width="0.14" transform="rotate(-90 321.0 513.15)">Intensity (arb. units)</text>
<text x="242.00" y="467.70" font-size="8.9" text-anchor="middle" font-weight="bold" fill="#111" stroke="#111" stroke-width="0.14">C=O</text>
<line x1="242.00" y1="469.70" x2="260.60" y2="478.20" stroke="#111" stroke-width="1.4"/>
<path d="M265.60,480.50 L257.60,474.30 L255.60,479.50Z" fill="#111"/>
<rect x="217.40" y="610.90" width="74.90" height="119.30" fill="url(#hm_n)" stroke="none" stroke-width="1"/>
<path d="M267.3,651 C266.1,672 266.1,698 267.3,718 C268.5,698 268.5,672 267.3,651Z" fill="#f1c985"/>
<rect x="217.40" y="610.90" width="74.90" height="119.30" fill="none" stroke="#111" stroke-width="1.6"/>
<text x="191.00" y="614.20" font-size="12.5" text-anchor="start" font-weight="bold" fill="#111" stroke="#111" stroke-width="0.14">n</text>
<line x1="217.40" y1="610.90" x2="215.40" y2="610.90" stroke="#111" stroke-width="1"/>
<text x="214.60" y="614.40" font-size="9.6" text-anchor="end" font-weight="bold" fill="#111" stroke="#111" stroke-width="0.14">35</text>
<line x1="217.40" y1="650.90" x2="215.40" y2="650.90" stroke="#111" stroke-width="1"/>
<text x="214.60" y="654.40" font-size="9.6" text-anchor="end" font-weight="bold" fill="#111" stroke="#111" stroke-width="0.14">30</text>
<line x1="217.40" y1="690.80" x2="215.40" y2="690.80" stroke="#111" stroke-width="1"/>
<text x="214.60" y="694.30" font-size="9.6" text-anchor="end" font-weight="bold" fill="#111" stroke="#111" stroke-width="0.14">25</text>
<line x1="217.40" y1="730.20" x2="215.40" y2="730.20" stroke="#111" stroke-width="1"/>
<text x="214.60" y="733.70" font-size="9.6" text-anchor="end" font-weight="bold" fill="#111" stroke="#111" stroke-width="0.14">20</text>
<line x1="217.40" y1="630.90" x2="216.10" y2="630.90" stroke="#111" stroke-width="1"/>
<line x1="217.40" y1="670.85" x2="216.10" y2="670.85" stroke="#111" stroke-width="1"/>
<line x1="217.40" y1="710.50" x2="216.10" y2="710.50" stroke="#111" stroke-width="1"/>
<line x1="217.40" y1="730.20" x2="217.40" y2="732.20" stroke="#111" stroke-width="1"/>
<text x="217.40" y="743.20" font-size="9.6" text-anchor="middle" font-weight="bold" fill="#111" stroke="#111" stroke-width="0.14">2000</text>
<line x1="247.36" y1="730.20" x2="247.36" y2="732.20" stroke="#111" stroke-width="1"/>
<text x="247.36" y="743.20" font-size="9.6" text-anchor="middle" font-weight="bold" fill="#111" stroke="#111" stroke-width="0.14">1800</text>
<line x1="277.32" y1="730.20" x2="277.32" y2="732.20" stroke="#111" stroke-width="1"/>
<text x="277.32" y="743.20" font-size="9.6" text-anchor="middle" font-weight="bold" fill="#111" stroke="#111" stroke-width="0.14">1600</text>
<line x1="232.38" y1="730.20" x2="232.38" y2="731.50" stroke="#111" stroke-width="1"/>
<line x1="262.34" y1="730.20" x2="262.34" y2="731.50" stroke="#111" stroke-width="1"/>
<text x="197.30" y="670.55" font-size="10.1" text-anchor="middle" font-weight="bold" fill="#111" stroke="#111" stroke-width="0.14" transform="rotate(-90 197.3 670.55)">Time (min.)</text>
<text x="253.50" y="759.40" font-size="10.1" text-anchor="middle" font-weight="bold" fill="#111" stroke="#111" stroke-width="0.14">Wavenumber (cm<tspan font-size="6.6" dy="-3.8">-1</tspan><tspan dy="3.8">)</tspan></text>
<rect x="300.80" y="616.80" width="7.40" height="110.80" fill="url(#hm_ncb)" stroke="none" stroke-width="1"/>
<text x="305.50" y="613.30" font-size="9.6" text-anchor="middle" font-weight="bold" fill="#111" stroke="#111" stroke-width="0.14">low</text>
<text x="305.50" y="736.90" font-size="9.6" text-anchor="middle" font-weight="bold" fill="#111" stroke="#111" stroke-width="0.14">high</text>
<text x="321.00" y="672.20" font-size="10.1" text-anchor="middle" font-weight="bold" fill="#111" stroke="#111" stroke-width="0.14" transform="rotate(-90 321.0 672.2)">Intensity (arb. units)</text>
<text x="242.00" y="626.50" font-size="8.9" text-anchor="middle" font-weight="bold" fill="#111" stroke="#111" stroke-width="0.14">C=O</text>
<line x1="242.00" y1="628.50" x2="260.60" y2="637.00" stroke="#111" stroke-width="1.4"/>
<path d="M265.60,639.30 L257.60,633.10 L255.60,638.30Z" fill="#111"/>
<text x="322.50" y="302.60" font-size="12.5" text-anchor="start" font-weight="bold" fill="#111" stroke="#111" stroke-width="0.14">i</text>
<text x="334.50" y="308.80" font-size="10.2" text-anchor="start" font-weight="bold" fill="#111" stroke="#111" stroke-width="0.14">hcp Ni NSs</text>
<path d="M389.00,335.57 L391.20,335.04 L393.41,334.53 L395.66,334.04 L397.93,333.56 L400.23,333.10 L402.55,332.66 L404.91,332.23 L407.29,331.83 L409.69,331.44 L412.13,331.06 L414.59,330.71 L417.08,330.37 L419.59,330.05 L422.13,329.75 L424.70,329.46 L427.30,329.19 L429.92,328.94 L432.58,328.71 L435.25,328.50 L437.96,328.30 L440.69,328.12 L443.45,327.95 L446.24,327.81 L449.05,327.68 L451.89,327.57 L454.76,327.47 L457.66,327.40 L460.58,327.34 L463.53,327.30 L466.51,327.27 L469.51,327.27 L472.55,327.28 L475.60,327.30 L478.69,327.35 L481.80,327.41 L484.95,327.49 L488.11,327.59 L491.31,327.71 L494.53,327.84 L497.78,327.99 L501.06,328.16 L504.36,328.34 L507.69,328.54 L511.05,328.76 L514.44,329.00 L517.85,329.26 L521.29,329.53 L524.76,329.82 L528.26,330.12 L531.78,330.45 L535.33,330.79 L538.91,331.15 L542.51,331.52 L546.14,331.92 L549.80,332.33 L553.49,332.76 L553.06,337.16 L569.00,330.30 L554.72,320.24 L554.29,324.65 L550.56,324.36 L546.85,324.09 L543.18,323.84 L539.53,323.60 L535.91,323.38 L532.32,323.18 L528.76,322.99 L525.22,322.82 L521.71,322.67 L518.24,322.53 L514.79,322.41 L511.36,322.31 L507.97,322.22 L504.60,322.15 L501.26,322.09 L497.95,322.06 L494.67,322.03 L491.42,322.03 L488.19,322.04 L484.99,322.07 L481.82,322.11 L478.68,322.17 L475.56,322.25 L472.48,322.34 L469.42,322.45 L466.39,322.58 L463.39,322.72 L460.42,322.88 L457.47,323.06 L454.55,323.25 L451.66,323.46 L448.80,323.68 L445.97,323.92 L443.17,324.18 L440.39,324.46 L437.64,324.75 L434.92,325.06 L432.23,325.38 L429.56,325.72 L426.93,326.08 L424.32,326.45 L421.74,326.84 L419.19,327.25 L416.67,327.67 L414.17,328.11 L411.71,328.56 L409.27,329.04 L406.86,329.53 L404.48,330.03 L402.12,330.55 L399.80,331.09 L397.50,331.65 L395.23,332.22 L392.99,332.80 L390.78,333.41 L388.60,334.03Z" fill="url(#gECH)"/>
<path d="M477.21,359.79 L478.24,358.42 L479.29,357.11 L480.38,355.84 L481.50,354.60 L482.64,353.41 L483.82,352.26 L485.03,351.15 L486.26,350.07 L487.53,349.04 L488.82,348.05 L490.15,347.09 L491.50,346.18 L492.89,345.30 L494.30,344.46 L495.75,343.66 L497.22,342.90 L498.72,342.18 L500.26,341.49 L501.82,340.84 L503.42,340.23 L505.04,339.66 L506.70,339.12 L508.38,338.62 L510.10,338.16 L511.85,337.74 L513.63,337.35 L515.44,336.99 L517.28,336.68 L519.16,336.40 L521.06,336.16 L523.00,335.95 L524.97,335.78 L526.97,335.65 L529.01,335.56 L531.07,335.50 L533.17,335.47 L535.30,335.49 L537.47,335.54 L539.66,335.62 L541.92,335.75 L542.08,329.25 L539.77,329.26 L537.47,329.31 L535.20,329.40 L532.97,329.53 L530.77,329.69 L528.60,329.89 L526.47,330.14 L524.37,330.42 L522.31,330.73 L520.29,331.09 L518.30,331.49 L516.34,331.92 L514.42,332.39 L512.54,332.90 L510.69,333.45 L508.87,334.04 L507.10,334.66 L505.36,335.33 L503.65,336.03 L501.98,336.77 L500.35,337.54 L498.76,338.36 L497.20,339.21 L495.68,340.10 L494.19,341.02 L492.74,341.99 L491.33,342.99 L489.96,344.02 L488.63,345.09 L487.33,346.20 L486.07,347.35 L484.84,348.53 L483.66,349.74 L482.51,350.99 L481.40,352.28 L480.32,353.60 L479.28,354.95 L478.28,356.34 L477.31,357.76 L476.39,359.21Z" fill="url(#gECH2)"/>
<text x="485.30" y="319.50" font-size="10.2" text-anchor="middle" font-weight="bold" fill="#111" stroke="#111" stroke-width="0.14">ECH</text>
<circle cx="379.10" cy="384.70" r="5.35" fill="url(#gNiP)"/>
<circle cx="389.75" cy="384.70" r="5.35" fill="url(#gNiP)"/>
<circle cx="400.40" cy="384.70" r="5.35" fill="url(#gNiP)"/>
<circle cx="411.05" cy="384.70" r="5.35" fill="url(#gNiP)"/>
<circle cx="421.70" cy="384.70" r="5.35" fill="url(#gNiP)"/>
<circle cx="432.35" cy="384.70" r="5.35" fill="url(#gNiP)"/>
<circle cx="443.00" cy="384.70" r="5.35" fill="url(#gNiP)"/>
<circle cx="453.65" cy="384.70" r="5.35" fill="url(#gNiP)"/>
<circle cx="464.30" cy="384.70" r="5.35" fill="url(#gNiP)"/>
<circle cx="474.95" cy="384.70" r="5.35" fill="url(#gNiP)"/>
<circle cx="485.60" cy="384.70" r="5.35" fill="url(#gNiP)"/>
<circle cx="496.25" cy="384.70" r="5.35" fill="url(#gNiP)"/>
<circle cx="506.90" cy="384.70" r="5.35" fill="url(#gNiP)"/>
<circle cx="517.55" cy="384.70" r="5.35" fill="url(#gNiP)"/>
<circle cx="528.20" cy="384.70" r="5.35" fill="url(#gNiP)"/>
<circle cx="538.85" cy="384.70" r="5.35" fill="url(#gNiP)"/>
<circle cx="549.50" cy="384.70" r="5.35" fill="url(#gNiP)"/>
<circle cx="560.15" cy="384.70" r="5.35" fill="url(#gNiP)"/>
<circle cx="570.80" cy="384.70" r="5.35" fill="url(#gNiP)"/>
<circle cx="581.45" cy="384.70" r="5.35" fill="url(#gNiP)"/>
<circle cx="592.10" cy="384.70" r="5.35" fill="url(#gNiP)"/>
<circle cx="602.75" cy="384.70" r="5.35" fill="url(#gNiP)"/>
<circle cx="613.40" cy="384.70" r="5.35" fill="url(#gNiP)"/>
<circle cx="624.05" cy="384.70" r="5.35" fill="url(#gNiP)"/>
<circle cx="384.40" cy="394.40" r="5.35" fill="url(#gNiP)"/>
<circle cx="395.05" cy="394.40" r="5.35" fill="url(#gNiP)"/>
<circle cx="405.70" cy="394.40" r="5.35" fill="url(#gNiP)"/>
<circle cx="416.35" cy="394.40" r="5.35" fill="url(#gNiP)"/>
<circle cx="427.00" cy="394.40" r="5.35" fill="url(#gNiP)"/>
<circle cx="437.65" cy="394.40" r="5.35" fill="url(#gNiP)"/>
<circle cx="448.30" cy="394.40" r="5.35" fill="url(#gNiP)"/>
<circle cx="458.95" cy="394.40" r="5.35" fill="url(#gNiP)"/>
<circle cx="469.60" cy="394.40" r="5.35" fill="url(#gNiP)"/>
<circle cx="480.25" cy="394.40" r="5.35" fill="url(#gNiP)"/>
<circle cx="490.90" cy="394.40" r="5.35" fill="url(#gNiP)"/>
<circle cx="501.55" cy="394.40" r="5.35" fill="url(#gNiP)"/>
<circle cx="512.20" cy="394.40" r="5.35" fill="url(#gNiP)"/>
<circle cx="522.85" cy="394.40" r="5.35" fill="url(#gNiP)"/>
<circle cx="533.50" cy="394.40" r="5.35" fill="url(#gNiP)"/>
<circle cx="544.15" cy="394.40" r="5.35" fill="url(#gNiP)"/>
<circle cx="554.80" cy="394.40" r="5.35" fill="url(#gNiP)"/>
<circle cx="565.45" cy="394.40" r="5.35" fill="url(#gNiP)"/>
<circle cx="576.10" cy="394.40" r="5.35" fill="url(#gNiP)"/>
<circle cx="586.75" cy="394.40" r="5.35" fill="url(#gNiP)"/>
<circle cx="597.40" cy="394.40" r="5.35" fill="url(#gNiP)"/>
<circle cx="608.05" cy="394.40" r="5.35" fill="url(#gNiP)"/>
<circle cx="618.70" cy="394.40" r="5.35" fill="url(#gNiP)"/>
<circle cx="629.35" cy="394.40" r="5.35" fill="url(#gNiP)"/>
<line x1="637.00" y1="385.50" x2="649.00" y2="385.50" stroke="#111" stroke-width="1.0" stroke-dasharray="1,1"/>
<text x="650.80" y="388.60" font-size="10.2" text-anchor="start" font-weight="bold" fill="#111" stroke="#111" stroke-width="0.14">A</text>
<line x1="637.00" y1="394.50" x2="649.00" y2="394.50" stroke="#111" stroke-width="1.0" stroke-dasharray="1,1"/>
<text x="650.80" y="398.30" font-size="10.2" text-anchor="start" font-weight="bold" fill="#111" stroke="#111" stroke-width="0.14">B</text>
<line x1="374.40" y1="347.90" x2="374.40" y2="334.80" stroke="#6d96bd" stroke-width="2.0" stroke-linecap="round"/>
<line x1="374.40" y1="347.90" x2="360.70" y2="355.00" stroke="#6d96bd" stroke-width="2.0" stroke-linecap="round"/>
<line x1="374.40" y1="347.90" x2="387.80" y2="356.30" stroke="#6d96bd" stroke-width="2.0" stroke-linecap="round"/>
<line x1="360.70" y1="355.00" x2="353.60" y2="351.00" stroke="#6d96bd" stroke-width="2.0" stroke-linecap="round"/>
<line x1="360.70" y1="355.00" x2="355.00" y2="359.00" stroke="#6d96bd" stroke-width="2.0" stroke-linecap="round"/>
<line x1="360.70" y1="355.00" x2="362.00" y2="366.30" stroke="#6d96bd" stroke-width="2.0" stroke-linecap="round"/>
<line x1="387.80" y1="356.30" x2="396.70" y2="349.00" stroke="#6d96bd" stroke-width="2.0" stroke-linecap="round"/>
<line x1="387.80" y1="356.30" x2="388.80" y2="364.20" stroke="#6d96bd" stroke-width="2.0" stroke-linecap="round"/>
<line x1="387.80" y1="356.30" x2="393.00" y2="362.00" stroke="#6d96bd" stroke-width="2.0" stroke-linecap="round"/>
<circle cx="353.60" cy="351.00" r="2.80" fill="url(#gH)"/>
<circle cx="355.00" cy="359.00" r="2.80" fill="url(#gH)"/>
<circle cx="362.00" cy="366.30" r="2.80" fill="url(#gH)"/>
<circle cx="396.70" cy="349.00" r="2.80" fill="url(#gH)"/>
<circle cx="388.80" cy="364.20" r="2.80" fill="url(#gH)"/>
<circle cx="393.00" cy="362.00" r="2.80" fill="url(#gH)"/>
<circle cx="374.40" cy="347.90" r="3.70" fill="url(#gC)"/>
<circle cx="374.40" cy="334.80" r="3.60" fill="url(#gO)"/>
<circle cx="360.70" cy="355.00" r="3.70" fill="url(#gC)"/>
<circle cx="387.80" cy="356.30" r="3.70" fill="url(#gC)"/>
<text x="354.20" y="326.90" font-size="10.2" text-anchor="start" font-weight="bold" fill="#111" stroke="#111" stroke-width="0.14">acetone</text>
<g transform="translate(384.50,372.80) rotate(-25)"><line x1="-4.60" y1="-3.70" x2="4.60" y2="-3.70" stroke="#f06b6b" stroke-width="1.05"/><line x1="-1.50" y1="0.00" x2="4.60" y2="0.00" stroke="#f06b6b" stroke-width="1.05"/><line x1="1.60" y1="3.70" x2="4.60" y2="3.70" stroke="#f06b6b" stroke-width="1.05"/></g>
<line x1="403.50" y1="356.80" x2="409.30" y2="347.90" stroke="#6d96bd" stroke-width="2.0" stroke-linecap="round"/>
<line x1="403.50" y1="356.80" x2="410.60" y2="364.70" stroke="#6d96bd" stroke-width="2.0" stroke-linecap="round"/>
<circle cx="409.30" cy="347.90" r="2.80" fill="url(#gH)"/>
<circle cx="410.60" cy="364.70" r="2.80" fill="url(#gH)"/>
<circle cx="403.50" cy="356.80" r="3.70" fill="url(#gC)"/>
<line x1="424.60" y1="353.20" x2="423.00" y2="342.60" stroke="#6d96bd" stroke-width="2.0" stroke-linecap="round"/>
<line x1="424.60" y1="353.20" x2="414.60" y2="357.60" stroke="#6d96bd" stroke-width="2.0" stroke-linecap="round"/>
<circle cx="423.00" cy="342.60" r="2.80" fill="url(#gH)"/>
<circle cx="414.60" cy="357.60" r="2.80" fill="url(#gH)"/>
<circle cx="424.60" cy="353.20" r="3.70" fill="url(#gC)"/>
<g transform="translate(410.50,373.50) rotate(-3)"><line x1="-4.60" y1="-3.70" x2="4.60" y2="-3.70" stroke="#6e6e6e" stroke-width="1.05"/><line x1="-3.05" y1="0.00" x2="3.05" y2="0.00" stroke="#6e6e6e" stroke-width="1.05"/><line x1="-1.50" y1="3.70" x2="1.50" y2="3.70" stroke="#6e6e6e" stroke-width="1.05"/></g>
<text x="429.00" y="345.80" font-size="10.2" text-anchor="start" font-weight="bold" fill="#111" stroke="#111" stroke-width="0.14">H<tspan font-size="7" dy="2.5">2</tspan><tspan dy="-2.5">O</tspan></text>
<text x="452.70" y="355.00" font-size="10.2" text-anchor="start" font-weight="bold" fill="#111" stroke="#111" stroke-width="0.14">H<tspan font-size="6.5" dy="2.5">ads</tspan></text>
<path d="M419.89,371.28 L420.57,371.61 L421.25,371.93 L421.94,372.23 L422.62,372.53 L423.30,372.81 L423.98,373.08 L424.66,373.34 L425.35,373.59 L426.03,373.82 L426.71,374.04 L427.39,374.26 L428.07,374.45 L428.75,374.64 L429.43,374.82 L430.11,374.98 L430.80,375.13 L431.48,375.27 L432.16,375.39 L432.84,375.51 L433.52,375.61 L434.20,375.70 L434.88,375.77 L435.56,375.84 L436.24,375.89 L436.93,375.93 L437.61,375.96 L438.29,375.97 L438.97,375.97 L439.65,375.96 L440.33,375.94 L441.01,375.90 L441.69,375.85 L442.37,375.79 L443.05,375.71 L443.73,375.62 L444.41,375.52 L445.08,375.41 L445.76,375.28 L446.44,375.14 L447.11,374.99 L447.79,374.82 L448.46,374.64 L449.14,374.45 L449.81,374.25 L450.48,374.03 L451.16,373.80 L451.83,373.56 L452.50,373.30 L453.16,373.03 L453.83,372.75 L454.86,374.75 L458.50,366.60 L450.28,365.86 L451.31,367.86 L450.77,368.19 L450.22,368.51 L449.68,368.81 L449.13,369.11 L448.58,369.39 L448.02,369.67 L447.47,369.93 L446.91,370.18 L446.34,370.42 L445.78,370.66 L445.20,370.88 L444.63,371.08 L444.05,371.28 L443.47,371.47 L442.89,371.65 L442.30,371.81 L441.71,371.97 L441.12,372.11 L440.52,372.24 L439.92,372.36 L439.32,372.47 L438.71,372.57 L438.10,372.66 L437.48,372.74 L436.86,372.81 L436.24,372.86 L435.61,372.91 L434.98,372.94 L434.34,372.96 L433.70,372.97 L433.06,372.97 L432.41,372.95 L431.76,372.93 L431.11,372.89 L430.45,372.85 L429.79,372.79 L429.12,372.72 L428.45,372.63 L427.78,372.54 L427.10,372.43 L426.42,372.32 L425.73,372.19 L425.04,372.05 L424.35,371.89 L423.65,371.73 L422.95,371.55 L422.25,371.36 L421.54,371.16 L420.83,370.95 L420.11,370.72Z" fill="url(#gGray)"/>
<circle cx="461.40" cy="362.90" r="2.90" fill="url(#gH)"/>
<circle cx="471.90" cy="365.50" r="2.90" fill="url(#gH)"/>
<circle cx="481.60" cy="366.30" r="2.90" fill="url(#gH)"/>
<circle cx="465.80" cy="373.40" r="2.90" fill="url(#gH)"/>
<circle cx="475.00" cy="373.40" r="2.90" fill="url(#gH)"/>
<path d="M487.35,371.76 L487.95,372.15 L488.54,372.53 L489.14,372.90 L489.74,373.24 L490.34,373.58 L490.94,373.90 L491.54,374.20 L492.14,374.49 L492.75,374.76 L493.36,375.02 L493.96,375.26 L494.57,375.49 L495.19,375.70 L495.80,375.90 L496.41,376.08 L497.03,376.24 L497.65,376.39 L498.27,376.53 L498.89,376.64 L499.51,376.74 L500.14,376.83 L500.77,376.90 L501.39,376.95 L502.02,376.99 L502.65,377.01 L503.28,377.01 L503.92,377.00 L504.55,376.97 L505.19,376.92 L505.82,376.86 L506.46,376.78 L507.10,376.69 L507.73,376.57 L508.37,376.44 L509.01,376.30 L509.65,376.13 L510.29,375.95 L510.93,375.76 L511.57,375.55 L512.21,375.32 L512.85,375.07 L513.49,374.81 L514.12,374.53 L514.76,374.23 L515.40,373.92 L516.04,373.59 L516.67,373.25 L517.31,372.89 L517.95,372.51 L519.56,374.80 L522.50,365.00 L513.20,365.82 L514.82,368.10 L514.33,368.51 L513.84,368.90 L513.34,369.28 L512.85,369.64 L512.35,369.99 L511.85,370.32 L511.35,370.64 L510.85,370.95 L510.35,371.24 L509.84,371.52 L509.33,371.78 L508.82,372.03 L508.31,372.27 L507.79,372.49 L507.28,372.70 L506.76,372.89 L506.23,373.07 L505.71,373.24 L505.18,373.39 L504.65,373.53 L504.11,373.65 L503.57,373.76 L503.03,373.86 L502.49,373.94 L501.94,374.01 L501.39,374.07 L500.83,374.11 L500.27,374.13 L499.71,374.14 L499.14,374.14 L498.57,374.12 L498.00,374.09 L497.42,374.05 L496.84,373.98 L496.25,373.91 L495.66,373.82 L495.07,373.71 L494.47,373.59 L493.87,373.45 L493.26,373.30 L492.65,373.13 L492.04,372.95 L491.42,372.75 L490.80,372.54 L490.18,372.31 L489.55,372.07 L488.92,371.81 L488.29,371.53 L487.65,371.24Z" fill="url(#gGray)"/>
<text x="489.40" y="367.30" font-size="10.2" text-anchor="start" font-weight="bold" fill="#111" stroke="#111" stroke-width="0.14">HER</text>
<path d="M541.50,356.20 q-1.2,2.5 0.3,4.5 M544.00,356.20 q1.0,2.0 -0.2,4.0" fill="none" stroke="#e6e6e6" stroke-width="0.6"/>
<circle cx="543.00" cy="348.60" r="7.60" fill="url(#gBub)"/>
<circle cx="543.00" cy="348.60" r="7.60" fill="none" stroke="#c4c4c4" stroke-width="0.6"/>
<text x="542.80" y="350.90" font-size="6.4" text-anchor="middle" font-weight="bold" fill="#dd2222" stroke="#dd2222" stroke-width="0.14">H<tspan font-size="4.2" dy="1.3">2</tspan></text>
<path d="M528.40,370.60 q-1.2,2.5 0.3,4.5 M530.90,370.60 q1.0,2.0 -0.2,4.0" fill="none" stroke="#e6e6e6" stroke-width="0.6"/>
<circle cx="529.90" cy="363.80" r="6.80" fill="url(#gBub)"/>
<circle cx="529.90" cy="363.80" r="6.80" fill="none" stroke="#c4c4c4" stroke-width="0.6"/>
<text x="529.70" y="366.10" font-size="6.4" text-anchor="middle" font-weight="bold" fill="#dd2222" stroke="#dd2222" stroke-width="0.14">H<tspan font-size="4.2" dy="1.3">2</tspan></text>
<path d="M550.10,373.40 q-1.2,2.5 0.3,4.5 M552.60,373.40 q1.0,2.0 -0.2,4.0" fill="none" stroke="#e6e6e6" stroke-width="0.6"/>
<circle cx="551.60" cy="367.20" r="6.20" fill="url(#gBub)"/>
<circle cx="551.60" cy="367.20" r="6.20" fill="none" stroke="#c4c4c4" stroke-width="0.6"/>
<text x="551.40" y="369.50" font-size="6.4" text-anchor="middle" font-weight="bold" fill="#dd2222" stroke="#dd2222" stroke-width="0.14">H<tspan font-size="4.2" dy="1.3">2</tspan></text>
<line x1="578.20" y1="343.50" x2="572.00" y2="330.70" stroke="#6d96bd" stroke-width="2.0" stroke-linecap="round"/>
<line x1="572.00" y1="330.70" x2="579.70" y2="323.60" stroke="#6d96bd" stroke-width="2.0" stroke-linecap="round"/>
<line x1="578.20" y1="343.50" x2="593.00" y2="340.70" stroke="#6d96bd" stroke-width="2.0" stroke-linecap="round"/>
<line x1="578.20" y1="343.50" x2="566.90" y2="352.90" stroke="#6d96bd" stroke-width="2.0" stroke-linecap="round"/>
<line x1="566.90" y1="352.90" x2="556.90" y2="354.00" stroke="#6d96bd" stroke-width="2.0" stroke-linecap="round"/>
<line x1="566.90" y1="352.90" x2="564.60" y2="346.40" stroke="#6d96bd" stroke-width="2.0" stroke-linecap="round"/>
<line x1="566.90" y1="352.90" x2="572.50" y2="363.40" stroke="#6d96bd" stroke-width="2.0" stroke-linecap="round"/>
<line x1="593.00" y1="340.70" x2="599.60" y2="335.00" stroke="#6d96bd" stroke-width="2.0" stroke-linecap="round"/>
<line x1="593.00" y1="340.70" x2="596.70" y2="354.00" stroke="#6d96bd" stroke-width="2.0" stroke-linecap="round"/>
<line x1="593.00" y1="340.70" x2="600.00" y2="344.00" stroke="#6d96bd" stroke-width="2.0" stroke-linecap="round"/>
<line x1="578.20" y1="343.50" x2="580.50" y2="349.20" stroke="#6d96bd" stroke-width="2.0" stroke-linecap="round"/>
<circle cx="579.70" cy="323.60" r="2.80" fill="url(#gH)"/>
<circle cx="556.90" cy="354.00" r="2.80" fill="url(#gH)"/>
<circle cx="564.60" cy="346.40" r="2.80" fill="url(#gH)"/>
<circle cx="572.50" cy="363.40" r="2.80" fill="url(#gH)"/>
<circle cx="599.60" cy="335.00" r="2.80" fill="url(#gH)"/>
<circle cx="596.70" cy="354.00" r="2.80" fill="url(#gH)"/>
<circle cx="600.00" cy="344.00" r="2.80" fill="url(#gH)"/>
<circle cx="580.50" cy="349.20" r="2.80" fill="url(#gH)"/>
<circle cx="578.20" cy="343.50" r="3.70" fill="url(#gC)"/>
<circle cx="572.00" cy="330.70" r="3.60" fill="url(#gO)"/>
<circle cx="593.00" cy="340.70" r="3.70" fill="url(#gC)"/>
<circle cx="566.90" cy="352.90" r="3.70" fill="url(#gC)"/>
<g transform="translate(571.10,373.00) rotate(-3)"><line x1="-4.60" y1="-3.70" x2="4.60" y2="-3.70" stroke="#4f8fd6" stroke-width="1.05"/><line x1="-3.05" y1="0.00" x2="3.05" y2="0.00" stroke="#4f8fd6" stroke-width="1.05"/><line x1="-1.50" y1="3.70" x2="1.50" y2="3.70" stroke="#4f8fd6" stroke-width="1.05"/></g>
<text x="584.00" y="325.60" font-size="10.2" text-anchor="start" font-weight="bold" fill="#111" stroke="#111" stroke-width="0.14">isopropanol</text>
<path d="M581.86,378.60 L583.14,378.53 L584.41,378.45 L585.67,378.37 L586.93,378.28 L588.18,378.17 L589.43,378.06 L590.66,377.94 L591.89,377.81 L593.11,377.67 L594.33,377.52 L595.54,377.37 L596.74,377.20 L597.93,377.02 L599.12,376.84 L600.30,376.64 L601.47,376.44 L602.63,376.22 L603.79,376.00 L604.94,375.77 L606.09,375.53 L607.22,375.28 L608.35,375.02 L609.48,374.75 L610.59,374.47 L611.70,374.18 L612.80,373.88 L613.90,373.57 L614.99,373.25 L616.07,372.92 L617.14,372.59 L618.21,372.24 L619.27,371.88 L620.32,371.51 L621.37,371.14 L622.41,370.75 L623.44,370.35 L624.46,369.95 L625.48,369.53 L626.49,369.10 L627.50,368.67 L628.49,368.22 L629.48,367.76 L630.46,367.29 L631.44,366.82 L632.41,366.33 L633.37,365.83 L634.32,365.32 L635.27,364.81 L638.37,369.39 L641.60,352.90 L626.03,351.17 L629.13,355.75 L628.40,356.36 L627.65,356.96 L626.89,357.56 L626.13,358.15 L625.35,358.73 L624.56,359.31 L623.76,359.88 L622.95,360.45 L622.13,361.00 L621.30,361.56 L620.45,362.11 L619.60,362.65 L618.74,363.18 L617.86,363.71 L616.98,364.23 L616.08,364.75 L615.17,365.26 L614.26,365.76 L613.33,366.26 L612.39,366.75 L611.44,367.24 L610.48,367.72 L609.51,368.19 L608.53,368.65 L607.53,369.11 L606.53,369.56 L605.52,370.01 L604.49,370.45 L603.46,370.88 L602.41,371.31 L601.35,371.73 L600.28,372.14 L599.20,372.54 L598.12,372.94 L597.01,373.34 L595.90,373.72 L594.78,374.10 L593.65,374.47 L592.51,374.84 L591.35,375.19 L590.19,375.54 L589.01,375.89 L587.83,376.22 L586.63,376.55 L585.43,376.88 L584.21,377.19 L582.98,377.50 L581.74,377.80Z" fill="url(#gFast)"/>
<text x="595.30" y="367.90" font-size="10.2" text-anchor="start" font-weight="bold" fill="#111" stroke="#111" stroke-width="0.14">fast</text>
<line x1="656.50" y1="338.70" x2="652.30" y2="352.00" stroke="#6d96bd" stroke-width="2.0" stroke-linecap="round"/>
<line x1="652.30" y1="352.00" x2="645.10" y2="352.90" stroke="#6d96bd" stroke-width="2.0" stroke-linecap="round"/>
<line x1="656.50" y1="338.70" x2="643.70" y2="330.10" stroke="#6d96bd" stroke-width="2.0" stroke-linecap="round"/>
<line x1="656.50" y1="338.70" x2="670.80" y2="337.80" stroke="#6d96bd" stroke-width="2.0" stroke-linecap="round"/>
<line x1="643.70" y1="330.10" x2="646.00" y2="317.90" stroke="#6d96bd" stroke-width="2.0" stroke-linecap="round"/>
<line x1="643.70" y1="330.10" x2="635.20" y2="330.10" stroke="#6d96bd" stroke-width="2.0" stroke-linecap="round"/>
<line x1="643.70" y1="330.10" x2="655.10" y2="333.00" stroke="#6d96bd" stroke-width="2.0" stroke-linecap="round"/>
<line x1="670.80" y1="337.80" x2="673.60" y2="324.40" stroke="#6d96bd" stroke-width="2.0" stroke-linecap="round"/>
<line x1="670.80" y1="337.80" x2="679.30" y2="342.00" stroke="#6d96bd" stroke-width="2.0" stroke-linecap="round"/>
<line x1="670.80" y1="337.80" x2="662.20" y2="344.40" stroke="#6d96bd" stroke-width="2.0" stroke-linecap="round"/>
<line x1="656.50" y1="338.70" x2="660.00" y2="331.00" stroke="#6d96bd" stroke-width="2.0" stroke-linecap="round"/>
<circle cx="645.10" cy="352.90" r="2.80" fill="url(#gH)"/>
<circle cx="646.00" cy="317.90" r="2.80" fill="url(#gH)"/>
<circle cx="635.20" cy="330.10" r="2.80" fill="url(#gH)"/>
<circle cx="655.10" cy="333.00" r="2.80" fill="url(#gH)"/>
<circle cx="673.60" cy="324.40" r="2.80" fill="url(#gH)"/>
<circle cx="679.30" cy="342.00" r="2.80" fill="url(#gH)"/>
<circle cx="662.20" cy="344.40" r="2.80" fill="url(#gH)"/>
<circle cx="660.00" cy="331.00" r="2.80" fill="url(#gH)"/>
<circle cx="656.50" cy="338.70" r="3.70" fill="url(#gC)"/>
<circle cx="652.30" cy="352.00" r="3.60" fill="url(#gO)"/>
<circle cx="643.70" cy="330.10" r="3.70" fill="url(#gC)"/>
<circle cx="670.80" cy="337.80" r="3.70" fill="url(#gC)"/>
<text x="333.70" y="414.50" font-size="10.3" text-anchor="start" font-weight="bold" fill="#111" stroke="#111" stroke-width="0.14">KOH electrolyte</text>
<circle cx="423.30" cy="411.00" r="5.80" fill="url(#gNiP)"/>
<text x="432.50" y="414.50" font-size="10.3" text-anchor="start" font-weight="bold" fill="#111" stroke="#111" stroke-width="0.14">Ni</text>
<circle cx="452.70" cy="411.00" r="5.80" fill="url(#gC)"/>
<text x="461.90" y="414.50" font-size="10.3" text-anchor="start" font-weight="bold" fill="#111" stroke="#111" stroke-width="0.14">C</text>
<circle cx="478.20" cy="411.00" r="5.80" fill="url(#gH)"/>
<text x="486.80" y="414.50" font-size="10.3" text-anchor="start" font-weight="bold" fill="#111" stroke="#111" stroke-width="0.14">H</text>
<circle cx="504.00" cy="411.00" r="5.60" fill="url(#gO)"/>
<text x="513.50" y="414.50" font-size="10.3" text-anchor="start" font-weight="bold" fill="#111" stroke="#111" stroke-width="0.14">O</text>
<g transform="translate(533.00,411.80) rotate(0)"><line x1="-3.91" y1="-3.15" x2="3.91" y2="-3.15" stroke="#f06b6b" stroke-width="1.05"/><line x1="-2.59" y1="0.00" x2="2.59" y2="0.00" stroke="#f06b6b" stroke-width="1.05"/><line x1="-1.27" y1="3.15" x2="1.27" y2="3.15" stroke="#f06b6b" stroke-width="1.05"/></g>
<text x="541.00" y="414.50" font-size="10.3" text-anchor="start" font-weight="bold" fill="#111" stroke="#111" stroke-width="0.14">Strong</text>
<g transform="translate(584.50,411.80) rotate(0)"><line x1="-3.91" y1="-3.15" x2="3.91" y2="-3.15" stroke="#6e6e6e" stroke-width="1.05"/><line x1="-2.59" y1="0.00" x2="2.59" y2="0.00" stroke="#6e6e6e" stroke-width="1.05"/><line x1="-1.27" y1="3.15" x2="1.27" y2="3.15" stroke="#6e6e6e" stroke-width="1.05"/></g>
<text x="591.80" y="414.50" font-size="10.3" text-anchor="start" font-weight="bold" fill="#111" stroke="#111" stroke-width="0.14">Medium</text>
<g transform="translate(640.40,411.80) rotate(0)"><line x1="-3.91" y1="-3.15" x2="3.91" y2="-3.15" stroke="#4f8fd6" stroke-width="1.05"/><line x1="-2.59" y1="0.00" x2="2.59" y2="0.00" stroke="#4f8fd6" stroke-width="1.05"/><line x1="-1.27" y1="3.15" x2="1.27" y2="3.15" stroke="#4f8fd6" stroke-width="1.05"/></g>
<text x="648.00" y="414.50" font-size="10.3" text-anchor="start" font-weight="bold" fill="#111" stroke="#111" stroke-width="0.14">Weak</text>
<line x1="351.20" y1="429.40" x2="351.20" y2="419.90" stroke="#6d96bd" stroke-width="1.7" stroke-linecap="round"/>
<line x1="351.20" y1="429.40" x2="341.20" y2="434.40" stroke="#6d96bd" stroke-width="1.7" stroke-linecap="round"/>
<line x1="351.20" y1="429.40" x2="361.20" y2="435.40" stroke="#6d96bd" stroke-width="1.7" stroke-linecap="round"/>
<line x1="341.20" y1="434.40" x2="335.70" y2="431.40" stroke="#6d96bd" stroke-width="1.7" stroke-linecap="round"/>
<line x1="341.20" y1="434.40" x2="338.70" y2="439.90" stroke="#6d96bd" stroke-width="1.7" stroke-linecap="round"/>
<line x1="341.20" y1="434.40" x2="344.20" y2="438.90" stroke="#6d96bd" stroke-width="1.7" stroke-linecap="round"/>
<line x1="361.20" y1="435.40" x2="367.20" y2="431.40" stroke="#6d96bd" stroke-width="1.7" stroke-linecap="round"/>
<line x1="361.20" y1="435.40" x2="362.20" y2="440.40" stroke="#6d96bd" stroke-width="1.7" stroke-linecap="round"/>
<circle cx="335.70" cy="431.40" r="2.38" fill="url(#gH)"/>
<circle cx="338.70" cy="439.90" r="2.38" fill="url(#gH)"/>
<circle cx="344.20" cy="438.90" r="2.38" fill="url(#gH)"/>
<circle cx="367.20" cy="431.40" r="2.38" fill="url(#gH)"/>
<circle cx="362.20" cy="440.40" r="2.38" fill="url(#gH)"/>
<circle cx="351.20" cy="429.40" r="3.15" fill="url(#gC)"/>
<circle cx="351.20" cy="419.90" r="3.06" fill="url(#gO)"/>
<circle cx="341.20" cy="434.40" r="3.15" fill="url(#gC)"/>
<circle cx="361.20" cy="435.40" r="3.15" fill="url(#gC)"/>
<text x="372.20" y="434.40" font-size="10.3" text-anchor="start" font-weight="bold" fill="#111" stroke="#111" stroke-width="0.14">acetone</text>
<line x1="434.50" y1="430.30" x2="434.50" y2="421.00" stroke="#6d96bd" stroke-width="1.7" stroke-linecap="round"/>
<line x1="434.50" y1="421.00" x2="438.50" y2="418.80" stroke="#6d96bd" stroke-width="1.7" stroke-linecap="round"/>
<line x1="434.50" y1="430.30" x2="425.00" y2="433.30" stroke="#6d96bd" stroke-width="1.7" stroke-linecap="round"/>
<line x1="434.50" y1="430.30" x2="444.00" y2="434.80" stroke="#6d96bd" stroke-width="1.7" stroke-linecap="round"/>
<line x1="425.00" y1="433.30" x2="418.50" y2="431.30" stroke="#6d96bd" stroke-width="1.7" stroke-linecap="round"/>
<line x1="425.00" y1="433.30" x2="423.00" y2="439.80" stroke="#6d96bd" stroke-width="1.7" stroke-linecap="round"/>
<line x1="425.00" y1="433.30" x2="426.50" y2="428.30" stroke="#6d96bd" stroke-width="1.7" stroke-linecap="round"/>
<line x1="444.00" y1="434.80" x2="450.50" y2="432.30" stroke="#6d96bd" stroke-width="1.7" stroke-linecap="round"/>
<line x1="444.00" y1="434.80" x2="445.50" y2="440.80" stroke="#6d96bd" stroke-width="1.7" stroke-linecap="round"/>
<line x1="444.00" y1="434.80" x2="441.50" y2="428.80" stroke="#6d96bd" stroke-width="1.7" stroke-linecap="round"/>
<line x1="434.50" y1="430.30" x2="432.50" y2="436.80" stroke="#6d96bd" stroke-width="1.7" stroke-linecap="round"/>
<circle cx="438.50" cy="418.80" r="2.38" fill="url(#gH)"/>
<circle cx="418.50" cy="431.30" r="2.38" fill="url(#gH)"/>
<circle cx="423.00" cy="439.80" r="2.38" fill="url(#gH)"/>
<circle cx="426.50" cy="428.30" r="2.38" fill="url(#gH)"/>
<circle cx="450.50" cy="432.30" r="2.38" fill="url(#gH)"/>
<circle cx="445.50" cy="440.80" r="2.38" fill="url(#gH)"/>
<circle cx="441.50" cy="428.80" r="2.38" fill="url(#gH)"/>
<circle cx="432.50" cy="436.80" r="2.38" fill="url(#gH)"/>
<circle cx="434.50" cy="430.30" r="3.15" fill="url(#gC)"/>
<circle cx="434.50" cy="421.00" r="3.06" fill="url(#gO)"/>
<circle cx="425.00" cy="433.30" r="3.15" fill="url(#gC)"/>
<circle cx="444.00" cy="434.80" r="3.15" fill="url(#gC)"/>
<text x="457.20" y="434.40" font-size="10.3" text-anchor="start" font-weight="bold" fill="#111" stroke="#111" stroke-width="0.14">isopropanol</text>
<line x1="533.40" y1="433.80" x2="531.00" y2="423.50" stroke="#6d96bd" stroke-width="1.8" stroke-linecap="round"/>
<line x1="533.40" y1="433.80" x2="524.00" y2="436.80" stroke="#6d96bd" stroke-width="1.8" stroke-linecap="round"/>
<circle cx="531.00" cy="423.50" r="2.52" fill="url(#gH)"/>
<circle cx="524.00" cy="436.80" r="2.52" fill="url(#gH)"/>
<circle cx="533.40" cy="433.80" r="3.33" fill="url(#gC)"/>
<text x="542.70" y="434.40" font-size="10.3" text-anchor="start" font-weight="bold" fill="#111" stroke="#111" stroke-width="0.14">H<tspan font-size="7" dy="2.5">2</tspan><tspan dy="-2.5">O</tspan></text>
<text x="322.50" y="456.60" font-size="12.5" text-anchor="start" font-weight="bold" fill="#111" stroke="#111" stroke-width="0.14">l</text>
<text x="334.50" y="461.30" font-size="10.2" text-anchor="start" font-weight="bold" fill="#111" stroke="#111" stroke-width="0.14">hcp Ni NPs</text>
<path d="M389.00,493.07 L391.20,492.54 L393.41,492.03 L395.66,491.54 L397.93,491.06 L400.23,490.60 L402.55,490.16 L404.91,489.73 L407.29,489.33 L409.69,488.94 L412.13,488.56 L414.59,488.21 L417.08,487.87 L419.59,487.55 L422.13,487.25 L424.70,486.96 L427.30,486.69 L429.92,486.44 L432.58,486.21 L435.25,486.00 L437.96,485.80 L440.69,485.62 L443.45,485.45 L446.24,485.31 L449.05,485.18 L451.89,485.07 L454.76,484.97 L457.66,484.90 L460.58,484.84 L463.53,484.80 L466.51,484.77 L469.51,484.77 L472.55,484.78 L475.60,484.80 L478.69,484.85 L481.80,484.91 L484.95,484.99 L488.11,485.09 L491.31,485.21 L494.53,485.34 L497.78,485.49 L501.06,485.66 L504.36,485.84 L507.69,486.04 L511.05,486.26 L514.44,486.50 L517.85,486.76 L521.29,487.03 L524.76,487.32 L528.26,487.62 L531.78,487.95 L535.33,488.29 L538.91,488.65 L542.51,489.02 L546.14,489.42 L549.80,489.83 L553.49,490.26 L553.06,494.66 L569.00,487.80 L554.72,477.74 L554.29,482.15 L550.56,481.86 L546.85,481.59 L543.18,481.34 L539.53,481.10 L535.91,480.88 L532.32,480.68 L528.76,480.49 L525.22,480.32 L521.71,480.17 L518.24,480.03 L514.79,479.91 L511.36,479.81 L507.97,479.72 L504.60,479.65 L501.26,479.59 L497.95,479.56 L494.67,479.53 L491.42,479.53 L488.19,479.54 L484.99,479.57 L481.82,479.61 L478.68,479.67 L475.56,479.75 L472.48,479.84 L469.42,479.95 L466.39,480.08 L463.39,480.22 L460.42,480.38 L457.47,480.56 L454.55,480.75 L451.66,480.96 L448.80,481.18 L445.97,481.42 L443.17,481.68 L440.39,481.96 L437.64,482.25 L434.92,482.56 L432.23,482.88 L429.56,483.22 L426.93,483.58 L424.32,483.95 L421.74,484.34 L419.19,484.75 L416.67,485.17 L414.17,485.61 L411.71,486.06 L409.27,486.54 L406.86,487.03 L404.48,487.53 L402.12,488.05 L399.80,488.59 L397.50,489.15 L395.23,489.72 L392.99,490.30 L390.78,490.91 L388.60,491.53Z" fill="url(#gECH)"/>
<path d="M477.21,517.29 L478.24,515.92 L479.29,514.61 L480.38,513.34 L481.50,512.10 L482.64,510.91 L483.82,509.76 L485.03,508.65 L486.26,507.57 L487.53,506.54 L488.82,505.55 L490.15,504.59 L491.50,503.68 L492.89,502.80 L494.30,501.96 L495.75,501.16 L497.22,500.40 L498.72,499.68 L500.26,498.99 L501.82,498.34 L503.42,497.73 L505.04,497.16 L506.70,496.62 L508.38,496.12 L510.10,495.66 L511.85,495.24 L513.63,494.85 L515.44,494.49 L517.28,494.18 L519.16,493.90 L521.06,493.66 L523.00,493.45 L524.97,493.28 L526.97,493.15 L529.01,493.06 L531.07,493.00 L533.17,492.97 L535.30,492.99 L537.47,493.04 L539.66,493.12 L541.92,493.25 L542.08,486.75 L539.77,486.76 L537.47,486.81 L535.20,486.90 L532.97,487.03 L530.77,487.19 L528.60,487.39 L526.47,487.64 L524.37,487.92 L522.31,488.23 L520.29,488.59 L518.30,488.99 L516.34,489.42 L514.42,489.89 L512.54,490.40 L510.69,490.95 L508.87,491.54 L507.10,492.16 L505.36,492.83 L503.65,493.53 L501.98,494.27 L500.35,495.04 L498.76,495.86 L497.20,496.71 L495.68,497.60 L494.19,498.52 L492.74,499.49 L491.33,500.49 L489.96,501.52 L488.63,502.59 L487.33,503.70 L486.07,504.85 L484.84,506.03 L483.66,507.24 L482.51,508.49 L481.40,509.78 L480.32,511.10 L479.28,512.45 L478.28,513.84 L477.31,515.26 L476.39,516.71Z" fill="url(#gECH2)"/>
<text x="482.80" y="475.30" font-size="10.2" text-anchor="middle" font-weight="bold" fill="#111" stroke="#111" stroke-width="0.14">ECH</text>
<circle cx="379.10" cy="542.20" r="5.35" fill="url(#gNiB)"/>
<circle cx="389.75" cy="542.20" r="5.35" fill="url(#gNiB)"/>
<circle cx="400.40" cy="542.20" r="5.35" fill="url(#gNiB)"/>
<circle cx="411.05" cy="542.20" r="5.35" fill="url(#gNiB)"/>
<circle cx="421.70" cy="542.20" r="5.35" fill="url(#gNiB)"/>
<circle cx="432.35" cy="542.20" r="5.35" fill="url(#gNiB)"/>
<circle cx="443.00" cy="542.20" r="5.35" fill="url(#gNiB)"/>
<circle cx="453.65" cy="542.20" r="5.35" fill="url(#gNiB)"/>
<circle cx="464.30" cy="542.20" r="5.35" fill="url(#gNiB)"/>
<circle cx="474.95" cy="542.20" r="5.35" fill="url(#gNiB)"/>
<circle cx="485.60" cy="542.20" r="5.35" fill="url(#gNiB)"/>
<circle cx="496.25" cy="542.20" r="5.35" fill="url(#gNiB)"/>
<circle cx="506.90" cy="542.20" r="5.35" fill="url(#gNiB)"/>
<circle cx="517.55" cy="542.20" r="5.35" fill="url(#gNiB)"/>
<circle cx="528.20" cy="542.20" r="5.35" fill="url(#gNiB)"/>
<circle cx="538.85" cy="542.20" r="5.35" fill="url(#gNiB)"/>
<circle cx="549.50" cy="542.20" r="5.35" fill="url(#gNiB)"/>
<circle cx="560.15" cy="542.20" r="5.35" fill="url(#gNiB)"/>
<circle cx="570.80" cy="542.20" r="5.35" fill="url(#gNiB)"/>
<circle cx="581.45" cy="542.20" r="5.35" fill="url(#gNiB)"/>
<circle cx="592.10" cy="542.20" r="5.35" fill="url(#gNiB)"/>
<circle cx="602.75" cy="542.20" r="5.35" fill="url(#gNiB)"/>
<circle cx="613.40" cy="542.20" r="5.35" fill="url(#gNiB)"/>
<circle cx="624.05" cy="542.20" r="5.35" fill="url(#gNiB)"/>
<circle cx="384.40" cy="551.70" r="5.35" fill="url(#gNiB)"/>
<circle cx="395.05" cy="551.70" r="5.35" fill="url(#gNiB)"/>
<circle cx="405.70" cy="551.70" r="5.35" fill="url(#gNiB)"/>
<circle cx="416.35" cy="551.70" r="5.35" fill="url(#gNiB)"/>
<circle cx="427.00" cy="551.70" r="5.35" fill="url(#gNiB)"/>
<circle cx="437.65" cy="551.70" r="5.35" fill="url(#gNiB)"/>
<circle cx="448.30" cy="551.70" r="5.35" fill="url(#gNiB)"/>
<circle cx="458.95" cy="551.70" r="5.35" fill="url(#gNiB)"/>
<circle cx="469.60" cy="551.70" r="5.35" fill="url(#gNiB)"/>
<circle cx="480.25" cy="551.70" r="5.35" fill="url(#gNiB)"/>
<circle cx="490.90" cy="551.70" r="5.35" fill="url(#gNiB)"/>
<circle cx="501.55" cy="551.70" r="5.35" fill="url(#gNiB)"/>
<circle cx="512.20" cy="551.70" r="5.35" fill="url(#gNiB)"/>
<circle cx="522.85" cy="551.70" r="5.35" fill="url(#gNiB)"/>
<circle cx="533.50" cy="551.70" r="5.35" fill="url(#gNiB)"/>
<circle cx="544.15" cy="551.70" r="5.35" fill="url(#gNiB)"/>
<circle cx="554.80" cy="551.70" r="5.35" fill="url(#gNiB)"/>
<circle cx="565.45" cy="551.70" r="5.35" fill="url(#gNiB)"/>
<circle cx="576.10" cy="551.70" r="5.35" fill="url(#gNiB)"/>
<circle cx="586.75" cy="551.70" r="5.35" fill="url(#gNiB)"/>
<circle cx="597.40" cy="551.70" r="5.35" fill="url(#gNiB)"/>
<circle cx="608.05" cy="551.70" r="5.35" fill="url(#gNiB)"/>
<circle cx="618.70" cy="551.70" r="5.35" fill="url(#gNiB)"/>
<circle cx="629.35" cy="551.70" r="5.35" fill="url(#gNiB)"/>
<line x1="637.00" y1="542.50" x2="649.00" y2="542.50" stroke="#111" stroke-width="1.0" stroke-dasharray="1,1"/>
<text x="650.80" y="546.10" font-size="10.2" text-anchor="start" font-weight="bold" fill="#111" stroke="#111" stroke-width="0.14">A</text>
<line x1="637.00" y1="552.50" x2="649.00" y2="552.50" stroke="#111" stroke-width="1.0" stroke-dasharray="1,1"/>
<text x="650.80" y="555.60" font-size="10.2" text-anchor="start" font-weight="bold" fill="#111" stroke="#111" stroke-width="0.14">B</text>
<line x1="370.10" y1="505.40" x2="370.10" y2="492.30" stroke="#6d96bd" stroke-width="2.0" stroke-linecap="round"/>
<line x1="370.10" y1="505.40" x2="356.40" y2="512.50" stroke="#6d96bd" stroke-width="2.0" stroke-linecap="round"/>
<line x1="370.10" y1="505.40" x2="383.50" y2="513.80" stroke="#6d96bd" stroke-width="2.0" stroke-linecap="round"/>
<line x1="356.40" y1="512.50" x2="349.30" y2="508.50" stroke="#6d96bd" stroke-width="2.0" stroke-linecap="round"/>
<line x1="356.40" y1="512.50" x2="350.70" y2="516.50" stroke="#6d96bd" stroke-width="2.0" stroke-linecap="round"/>
<line x1="356.40" y1="512.50" x2="357.70" y2="523.80" stroke="#6d96bd" stroke-width="2.0" stroke-linecap="round"/>
<line x1="383.50" y1="513.80" x2="392.40" y2="506.50" stroke="#6d96bd" stroke-width="2.0" stroke-linecap="round"/>
<line x1="383.50" y1="513.80" x2="384.50" y2="521.70" stroke="#6d96bd" stroke-width="2.0" stroke-linecap="round"/>
<line x1="383.50" y1="513.80" x2="388.70" y2="519.50" stroke="#6d96bd" stroke-width="2.0" stroke-linecap="round"/>
<circle cx="349.30" cy="508.50" r="2.80" fill="url(#gH)"/>
<circle cx="350.70" cy="516.50" r="2.80" fill="url(#gH)"/>
<circle cx="357.70" cy="523.80" r="2.80" fill="url(#gH)"/>
<circle cx="392.40" cy="506.50" r="2.80" fill="url(#gH)"/>
<circle cx="384.50" cy="521.70" r="2.80" fill="url(#gH)"/>
<circle cx="388.70" cy="519.50" r="2.80" fill="url(#gH)"/>
<circle cx="370.10" cy="505.40" r="3.70" fill="url(#gC)"/>
<circle cx="370.10" cy="492.30" r="3.60" fill="url(#gO)"/>
<circle cx="356.40" cy="512.50" r="3.70" fill="url(#gC)"/>
<circle cx="383.50" cy="513.80" r="3.70" fill="url(#gC)"/>
<text x="335.20" y="487.50" font-size="10.2" text-anchor="start" font-weight="bold" fill="#111" stroke="#111" stroke-width="0.14">acetone</text>
<g transform="translate(384.50,530.30) rotate(-25)"><line x1="-4.60" y1="-3.70" x2="4.60" y2="-3.70" stroke="#6e6e6e" stroke-width="1.05"/><line x1="-1.50" y1="0.00" x2="4.60" y2="0.00" stroke="#6e6e6e" stroke-width="1.05"/><line x1="1.60" y1="3.70" x2="4.60" y2="3.70" stroke="#6e6e6e" stroke-width="1.05"/></g>
<line x1="403.50" y1="514.30" x2="409.30" y2="505.40" stroke="#6d96bd" stroke-width="2.0" stroke-linecap="round"/>
<line x1="403.50" y1="514.30" x2="410.60" y2="522.20" stroke="#6d96bd" stroke-width="2.0" stroke-linecap="round"/>
<circle cx="409.30" cy="505.40" r="2.80" fill="url(#gH)"/>
<circle cx="410.60" cy="522.20" r="2.80" fill="url(#gH)"/>
<circle cx="403.50" cy="514.30" r="3.70" fill="url(#gC)"/>
<line x1="424.60" y1="510.70" x2="423.00" y2="500.10" stroke="#6d96bd" stroke-width="2.0" stroke-linecap="round"/>
<line x1="424.60" y1="510.70" x2="414.60" y2="515.10" stroke="#6d96bd" stroke-width="2.0" stroke-linecap="round"/>
<circle cx="423.00" cy="500.10" r="2.80" fill="url(#gH)"/>
<circle cx="414.60" cy="515.10" r="2.80" fill="url(#gH)"/>
<circle cx="424.60" cy="510.70" r="3.70" fill="url(#gC)"/>
<g transform="translate(410.50,531.00) rotate(-3)"><line x1="-4.60" y1="-3.70" x2="4.60" y2="-3.70" stroke="#6e6e6e" stroke-width="1.05"/><line x1="-3.05" y1="0.00" x2="3.05" y2="0.00" stroke="#6e6e6e" stroke-width="1.05"/><line x1="-1.50" y1="3.70" x2="1.50" y2="3.70" stroke="#6e6e6e" stroke-width="1.05"/></g>
<text x="429.00" y="503.30" font-size="10.2" text-anchor="start" font-weight="bold" fill="#111" stroke="#111" stroke-width="0.14">H<tspan font-size="7" dy="2.5">2</tspan><tspan dy="-2.5">O</tspan></text>
<text x="452.70" y="512.50" font-size="10.2" text-anchor="start" font-weight="bold" fill="#111" stroke="#111" stroke-width="0.14">H<tspan font-size="6.5" dy="2.5">ads</tspan></text>
<path d="M419.89,528.78 L420.57,529.11 L421.25,529.43 L421.94,529.73 L422.62,530.03 L423.30,530.31 L423.98,530.58 L424.66,530.84 L425.35,531.09 L426.03,531.32 L426.71,531.54 L427.39,531.76 L428.07,531.95 L428.75,532.14 L429.43,532.32 L430.11,532.48 L430.80,532.63 L431.48,532.77 L432.16,532.89 L432.84,533.01 L433.52,533.11 L434.20,533.20 L434.88,533.27 L435.56,533.34 L436.24,533.39 L436.93,533.43 L437.61,533.46 L438.29,533.47 L438.97,533.47 L439.65,533.46 L440.33,533.44 L441.01,533.40 L441.69,533.35 L442.37,533.29 L443.05,533.21 L443.73,533.12 L444.41,533.02 L445.08,532.91 L445.76,532.78 L446.44,532.64 L447.11,532.49 L447.79,532.32 L448.46,532.14 L449.14,531.95 L449.81,531.75 L450.48,531.53 L451.16,531.30 L451.83,531.06 L452.50,530.80 L453.16,530.53 L453.83,530.25 L454.86,532.25 L458.50,524.10 L450.28,523.36 L451.31,525.36 L450.77,525.69 L450.22,526.01 L449.68,526.31 L449.13,526.61 L448.58,526.89 L448.02,527.17 L447.47,527.43 L446.91,527.68 L446.34,527.92 L445.78,528.16 L445.20,528.38 L444.63,528.58 L444.05,528.78 L443.47,528.97 L442.89,529.15 L442.30,529.31 L441.71,529.47 L441.12,529.61 L440.52,529.74 L439.92,529.86 L439.32,529.97 L438.71,530.07 L438.10,530.16 L437.48,530.24 L436.86,530.31 L436.24,530.36 L435.61,530.41 L434.98,530.44 L434.34,530.46 L433.70,530.47 L433.06,530.47 L432.41,530.45 L431.76,530.43 L431.11,530.39 L430.45,530.35 L429.79,530.29 L429.12,530.22 L428.45,530.13 L427.78,530.04 L427.10,529.93 L426.42,529.82 L425.73,529.69 L425.04,529.55 L424.35,529.39 L423.65,529.23 L422.95,529.05 L422.25,528.86 L421.54,528.66 L420.83,528.45 L420.11,528.22Z" fill="url(#gGray)"/>
<circle cx="461.40" cy="520.40" r="2.90" fill="url(#gH)"/>
<circle cx="471.90" cy="523.00" r="2.90" fill="url(#gH)"/>
<circle cx="481.60" cy="523.80" r="2.90" fill="url(#gH)"/>
<circle cx="465.80" cy="530.90" r="2.90" fill="url(#gH)"/>
<circle cx="475.00" cy="530.90" r="2.90" fill="url(#gH)"/>
<path d="M487.35,529.26 L487.95,529.65 L488.54,530.03 L489.14,530.40 L489.74,530.74 L490.34,531.08 L490.94,531.40 L491.54,531.70 L492.14,531.99 L492.75,532.26 L493.36,532.52 L493.96,532.76 L494.57,532.99 L495.19,533.20 L495.80,533.40 L496.41,533.58 L497.03,533.74 L497.65,533.89 L498.27,534.03 L498.89,534.14 L499.51,534.24 L500.14,534.33 L500.77,534.40 L501.39,534.45 L502.02,534.49 L502.65,534.51 L503.28,534.51 L503.92,534.50 L504.55,534.47 L505.19,534.42 L505.82,534.36 L506.46,534.28 L507.10,534.19 L507.73,534.07 L508.37,533.94 L509.01,533.80 L509.65,533.63 L510.29,533.45 L510.93,533.26 L511.57,533.05 L512.21,532.82 L512.85,532.57 L513.49,532.31 L514.12,532.03 L514.76,531.73 L515.40,531.42 L516.04,531.09 L516.67,530.75 L517.31,530.39 L517.95,530.01 L519.56,532.30 L522.50,522.50 L513.20,523.32 L514.82,525.60 L514.33,526.01 L513.84,526.40 L513.34,526.78 L512.85,527.14 L512.35,527.49 L511.85,527.82 L511.35,528.14 L510.85,528.45 L510.35,528.74 L509.84,529.02 L509.33,529.28 L508.82,529.53 L508.31,529.77 L507.79,529.99 L507.28,530.20 L506.76,530.39 L506.23,530.57 L505.71,530.74 L505.18,530.89 L504.65,531.03 L504.11,531.15 L503.57,531.26 L503.03,531.36 L502.49,531.44 L501.94,531.51 L501.39,531.57 L500.83,531.61 L500.27,531.63 L499.71,531.64 L499.14,531.64 L498.57,531.62 L498.00,531.59 L497.42,531.55 L496.84,531.48 L496.25,531.41 L495.66,531.32 L495.07,531.21 L494.47,531.09 L493.87,530.95 L493.26,530.80 L492.65,530.63 L492.04,530.45 L491.42,530.25 L490.80,530.04 L490.18,529.81 L489.55,529.57 L488.92,529.31 L488.29,529.03 L487.65,528.74Z" fill="url(#gGray)"/>
<text x="489.40" y="524.80" font-size="10.2" text-anchor="start" font-weight="bold" fill="#111" stroke="#111" stroke-width="0.14">HER</text>
<path d="M517.00,511.00 q-1.2,2.5 0.3,4.5 M519.50,511.00 q1.0,2.0 -0.2,4.0" fill="none" stroke="#e6e6e6" stroke-width="0.6"/>
<circle cx="518.50" cy="504.80" r="6.20" fill="url(#gBub)"/>
<circle cx="518.50" cy="504.80" r="6.20" fill="none" stroke="#c4c4c4" stroke-width="0.6"/>
<text x="518.30" y="507.10" font-size="6.4" text-anchor="middle" font-weight="bold" fill="#dd2222" stroke="#dd2222" stroke-width="0.14">H<tspan font-size="4.2" dy="1.3">2</tspan></text>
<path d="M541.20,511.00 q-1.2,2.5 0.3,4.5 M543.70,511.00 q1.0,2.0 -0.2,4.0" fill="none" stroke="#e6e6e6" stroke-width="0.6"/>
<circle cx="542.70" cy="504.80" r="6.20" fill="url(#gBub)"/>
<circle cx="542.70" cy="504.80" r="6.20" fill="none" stroke="#c4c4c4" stroke-width="0.6"/>
<text x="542.50" y="507.10" font-size="6.4" text-anchor="middle" font-weight="bold" fill="#dd2222" stroke="#dd2222" stroke-width="0.14">H<tspan font-size="4.2" dy="1.3">2</tspan></text>
<path d="M528.40,526.40 q-1.2,2.5 0.3,4.5 M530.90,526.40 q1.0,2.0 -0.2,4.0" fill="none" stroke="#e6e6e6" stroke-width="0.6"/>
<circle cx="529.90" cy="520.40" r="6.00" fill="url(#gBub)"/>
<circle cx="529.90" cy="520.40" r="6.00" fill="none" stroke="#c4c4c4" stroke-width="0.6"/>
<text x="529.70" y="522.70" font-size="6.4" text-anchor="middle" font-weight="bold" fill="#dd2222" stroke="#dd2222" stroke-width="0.14">H<tspan font-size="4.2" dy="1.3">2</tspan></text>
<path d="M549.70,530.30 q-1.2,2.5 0.3,4.5 M552.20,530.30 q1.0,2.0 -0.2,4.0" fill="none" stroke="#e6e6e6" stroke-width="0.6"/>
<circle cx="551.20" cy="524.70" r="5.60" fill="url(#gBub)"/>
<circle cx="551.20" cy="524.70" r="5.60" fill="none" stroke="#c4c4c4" stroke-width="0.6"/>
<text x="551.00" y="527.00" font-size="6.4" text-anchor="middle" font-weight="bold" fill="#dd2222" stroke="#dd2222" stroke-width="0.14">H<tspan font-size="4.2" dy="1.3">2</tspan></text>
<line x1="578.20" y1="499.10" x2="572.00" y2="486.30" stroke="#6d96bd" stroke-width="2.0" stroke-linecap="round"/>
<line x1="572.00" y1="486.30" x2="579.70" y2="479.20" stroke="#6d96bd" stroke-width="2.0" stroke-linecap="round"/>
<line x1="578.20" y1="499.10" x2="593.00" y2="496.30" stroke="#6d96bd" stroke-width="2.0" stroke-linecap="round"/>
<line x1="578.20" y1="499.10" x2="566.90" y2="508.50" stroke="#6d96bd" stroke-width="2.0" stroke-linecap="round"/>
<line x1="566.90" y1="508.50" x2="556.90" y2="509.60" stroke="#6d96bd" stroke-width="2.0" stroke-linecap="round"/>
<line x1="566.90" y1="508.50" x2="564.60" y2="502.00" stroke="#6d96bd" stroke-width="2.0" stroke-linecap="round"/>
<line x1="566.90" y1="508.50" x2="572.50" y2="519.00" stroke="#6d96bd" stroke-width="2.0" stroke-linecap="round"/>
<line x1="593.00" y1="496.30" x2="599.60" y2="490.60" stroke="#6d96bd" stroke-width="2.0" stroke-linecap="round"/>
<line x1="593.00" y1="496.30" x2="596.70" y2="509.60" stroke="#6d96bd" stroke-width="2.0" stroke-linecap="round"/>
<line x1="593.00" y1="496.30" x2="600.00" y2="499.60" stroke="#6d96bd" stroke-width="2.0" stroke-linecap="round"/>
<line x1="578.20" y1="499.10" x2="580.50" y2="504.80" stroke="#6d96bd" stroke-width="2.0" stroke-linecap="round"/>
<circle cx="579.70" cy="479.20" r="2.80" fill="url(#gH)"/>
<circle cx="556.90" cy="509.60" r="2.80" fill="url(#gH)"/>
<circle cx="564.60" cy="502.00" r="2.80" fill="url(#gH)"/>
<circle cx="572.50" cy="519.00" r="2.80" fill="url(#gH)"/>
<circle cx="599.60" cy="490.60" r="2.80" fill="url(#gH)"/>
<circle cx="596.70" cy="509.60" r="2.80" fill="url(#gH)"/>
<circle cx="600.00" cy="499.60" r="2.80" fill="url(#gH)"/>
<circle cx="580.50" cy="504.80" r="2.80" fill="url(#gH)"/>
<circle cx="578.20" cy="499.10" r="3.70" fill="url(#gC)"/>
<circle cx="572.00" cy="486.30" r="3.60" fill="url(#gO)"/>
<circle cx="593.00" cy="496.30" r="3.70" fill="url(#gC)"/>
<circle cx="566.90" cy="508.50" r="3.70" fill="url(#gC)"/>
<g transform="translate(571.10,530.50) rotate(-3)"><line x1="-4.60" y1="-3.70" x2="4.60" y2="-3.70" stroke="#6e6e6e" stroke-width="1.05"/><line x1="-3.05" y1="0.00" x2="3.05" y2="0.00" stroke="#6e6e6e" stroke-width="1.05"/><line x1="-1.50" y1="3.70" x2="1.50" y2="3.70" stroke="#6e6e6e" stroke-width="1.05"/></g>
<text x="581.70" y="476.40" font-size="10.2" text-anchor="start" font-weight="bold" fill="#111" stroke="#111" stroke-width="0.14">isopropanol</text>
<path d="M591.72,532.90 L592.97,532.93 L594.21,532.96 L595.44,532.97 L596.66,532.97 L597.88,532.97 L599.09,532.95 L600.28,532.92 L601.47,532.88 L602.66,532.83 L603.83,532.77 L605.00,532.70 L606.15,532.62 L607.30,532.52 L608.44,532.42 L609.58,532.31 L610.70,532.18 L611.82,532.05 L612.93,531.90 L614.03,531.74 L615.12,531.57 L616.21,531.39 L617.29,531.20 L618.36,531.00 L619.42,530.79 L620.47,530.57 L621.52,530.33 L622.55,530.09 L623.58,529.83 L624.60,529.56 L625.62,529.28 L626.62,528.99 L627.62,528.69 L628.61,528.37 L629.59,528.05 L630.56,527.71 L631.53,527.36 L632.49,527.00 L633.44,526.63 L634.38,526.25 L635.31,525.85 L636.24,525.45 L637.15,525.03 L638.06,524.60 L638.96,524.15 L639.85,523.70 L640.74,523.23 L641.61,522.75 L642.48,522.26 L644.89,525.77 L648.20,511.40 L634.70,510.94 L637.11,514.45 L636.45,514.99 L635.77,515.53 L635.08,516.06 L634.38,516.59 L633.67,517.10 L632.95,517.61 L632.21,518.12 L631.47,518.61 L630.71,519.10 L629.94,519.58 L629.15,520.06 L628.36,520.52 L627.55,520.98 L626.73,521.44 L625.90,521.88 L625.06,522.32 L624.20,522.75 L623.33,523.17 L622.45,523.58 L621.56,523.99 L620.66,524.39 L619.74,524.78 L618.81,525.16 L617.87,525.54 L616.92,525.90 L615.95,526.26 L614.98,526.62 L613.99,526.96 L612.99,527.30 L611.97,527.62 L610.95,527.94 L609.91,528.25 L608.86,528.56 L607.80,528.85 L606.72,529.14 L605.64,529.42 L604.54,529.69 L603.43,529.95 L602.31,530.20 L601.18,530.45 L600.03,530.68 L598.87,530.91 L597.70,531.13 L596.52,531.34 L595.33,531.54 L594.12,531.74 L592.91,531.92 L591.68,532.10Z" fill="url(#gMed)"/>
<text x="585.80" y="522.30" font-size="10.2" text-anchor="start" font-weight="bold" fill="#111" stroke="#111" stroke-width="0.14">medium</text>
<line x1="656.50" y1="493.70" x2="652.30" y2="507.00" stroke="#6d96bd" stroke-width="2.0" stroke-linecap="round"/>
<line x1="652.30" y1="507.00" x2="645.10" y2="507.90" stroke="#6d96bd" stroke-width="2.0" stroke-linecap="round"/>
<line x1="656.50" y1="493.70" x2="643.70" y2="485.10" stroke="#6d96bd" stroke-width="2.0" stroke-linecap="round"/>
<line x1="656.50" y1="493.70" x2="670.80" y2="492.80" stroke="#6d96bd" stroke-width="2.0" stroke-linecap="round"/>
<line x1="643.70" y1="485.10" x2="646.00" y2="472.90" stroke="#6d96bd" stroke-width="2.0" stroke-linecap="round"/>
<line x1="643.70" y1="485.10" x2="635.20" y2="485.10" stroke="#6d96bd" stroke-width="2.0" stroke-linecap="round"/>
<line x1="643.70" y1="485.10" x2="655.10" y2="488.00" stroke="#6d96bd" stroke-width="2.0" stroke-linecap="round"/>
<line x1="670.80" y1="492.80" x2="673.60" y2="479.40" stroke="#6d96bd" stroke-width="2.0" stroke-linecap="round"/>
<line x1="670.80" y1="492.80" x2="679.30" y2="497.00" stroke="#6d96bd" stroke-width="2.0" stroke-linecap="round"/>
<line x1="670.80" y1="492.80" x2="662.20" y2="499.40" stroke="#6d96bd" stroke-width="2.0" stroke-linecap="round"/>
<line x1="656.50" y1="493.70" x2="660.00" y2="486.00" stroke="#6d96bd" stroke-width="2.0" stroke-linecap="round"/>
<circle cx="645.10" cy="507.90" r="2.80" fill="url(#gH)"/>
<circle cx="646.00" cy="472.90" r="2.80" fill="url(#gH)"/>
<circle cx="635.20" cy="485.10" r="2.80" fill="url(#gH)"/>
<circle cx="655.10" cy="488.00" r="2.80" fill="url(#gH)"/>
<circle cx="673.60" cy="479.40" r="2.80" fill="url(#gH)"/>
<circle cx="679.30" cy="497.00" r="2.80" fill="url(#gH)"/>
<circle cx="662.20" cy="499.40" r="2.80" fill="url(#gH)"/>
<circle cx="660.00" cy="486.00" r="2.80" fill="url(#gH)"/>
<circle cx="656.50" cy="493.70" r="3.70" fill="url(#gC)"/>
<circle cx="652.30" cy="507.00" r="3.60" fill="url(#gO)"/>
<circle cx="643.70" cy="485.10" r="3.70" fill="url(#gC)"/>
<circle cx="670.80" cy="492.80" r="3.70" fill="url(#gC)"/>
<text x="333.70" y="572.30" font-size="10.3" text-anchor="start" font-weight="bold" fill="#111" stroke="#111" stroke-width="0.14">KOH electrolyte</text>
<circle cx="423.30" cy="568.80" r="5.80" fill="url(#gNiB)"/>
<text x="432.50" y="572.30" font-size="10.3" text-anchor="start" font-weight="bold" fill="#111" stroke="#111" stroke-width="0.14">Ni</text>
<circle cx="452.70" cy="568.80" r="5.80" fill="url(#gC)"/>
<text x="461.90" y="572.30" font-size="10.3" text-anchor="start" font-weight="bold" fill="#111" stroke="#111" stroke-width="0.14">C</text>
<circle cx="478.20" cy="568.80" r="5.80" fill="url(#gH)"/>
<text x="486.80" y="572.30" font-size="10.3" text-anchor="start" font-weight="bold" fill="#111" stroke="#111" stroke-width="0.14">H</text>
<circle cx="504.00" cy="568.80" r="5.60" fill="url(#gO)"/>
<text x="513.50" y="572.30" font-size="10.3" text-anchor="start" font-weight="bold" fill="#111" stroke="#111" stroke-width="0.14">O</text>
<g transform="translate(533.00,569.60) rotate(0)"><line x1="-3.91" y1="-3.15" x2="3.91" y2="-3.15" stroke="#f06b6b" stroke-width="1.05"/><line x1="-2.59" y1="0.00" x2="2.59" y2="0.00" stroke="#f06b6b" stroke-width="1.05"/><line x1="-1.27" y1="3.15" x2="1.27" y2="3.15" stroke="#f06b6b" stroke-width="1.05"/></g>
<text x="541.00" y="572.30" font-size="10.3" text-anchor="start" font-weight="bold" fill="#111" stroke="#111" stroke-width="0.14">Strong</text>
<g transform="translate(584.50,569.60) rotate(0)"><line x1="-3.91" y1="-3.15" x2="3.91" y2="-3.15" stroke="#6e6e6e" stroke-width="1.05"/><line x1="-2.59" y1="0.00" x2="2.59" y2="0.00" stroke="#6e6e6e" stroke-width="1.05"/><line x1="-1.27" y1="3.15" x2="1.27" y2="3.15" stroke="#6e6e6e" stroke-width="1.05"/></g>
<text x="591.80" y="572.30" font-size="10.3" text-anchor="start" font-weight="bold" fill="#111" stroke="#111" stroke-width="0.14">Medium</text>
<g transform="translate(640.40,569.60) rotate(0)"><line x1="-3.91" y1="-3.15" x2="3.91" y2="-3.15" stroke="#4f8fd6" stroke-width="1.05"/><line x1="-2.59" y1="0.00" x2="2.59" y2="0.00" stroke="#4f8fd6" stroke-width="1.05"/><line x1="-1.27" y1="3.15" x2="1.27" y2="3.15" stroke="#4f8fd6" stroke-width="1.05"/></g>
<text x="648.00" y="572.30" font-size="10.3" text-anchor="start" font-weight="bold" fill="#111" stroke="#111" stroke-width="0.14">Weak</text>
<line x1="351.20" y1="587.40" x2="351.20" y2="577.90" stroke="#6d96bd" stroke-width="1.7" stroke-linecap="round"/>
<line x1="351.20" y1="587.40" x2="341.20" y2="592.40" stroke="#6d96bd" stroke-width="1.7" stroke-linecap="round"/>
<line x1="351.20" y1="587.40" x2="361.20" y2="593.40" stroke="#6d96bd" stroke-width="1.7" stroke-linecap="round"/>
<line x1="341.20" y1="592.40" x2="335.70" y2="589.40" stroke="#6d96bd" stroke-width="1.7" stroke-linecap="round"/>
<line x1="341.20" y1="592.40" x2="338.70" y2="597.90" stroke="#6d96bd" stroke-width="1.7" stroke-linecap="round"/>
<line x1="341.20" y1="592.40" x2="344.20" y2="596.90" stroke="#6d96bd" stroke-width="1.7" stroke-linecap="round"/>
<line x1="361.20" y1="593.40" x2="367.20" y2="589.40" stroke="#6d96bd" stroke-width="1.7" stroke-linecap="round"/>
<line x1="361.20" y1="593.40" x2="362.20" y2="598.40" stroke="#6d96bd" stroke-width="1.7" stroke-linecap="round"/>
<circle cx="335.70" cy="589.40" r="2.38" fill="url(#gH)"/>
<circle cx="338.70" cy="597.90" r="2.38" fill="url(#gH)"/>
<circle cx="344.20" cy="596.90" r="2.38" fill="url(#gH)"/>
<circle cx="367.20" cy="589.40" r="2.38" fill="url(#gH)"/>
<circle cx="362.20" cy="598.40" r="2.38" fill="url(#gH)"/>
<circle cx="351.20" cy="587.40" r="3.15" fill="url(#gC)"/>
<circle cx="351.20" cy="577.90" r="3.06" fill="url(#gO)"/>
<circle cx="341.20" cy="592.40" r="3.15" fill="url(#gC)"/>
<circle cx="361.20" cy="593.40" r="3.15" fill="url(#gC)"/>
<text x="372.20" y="592.40" font-size="10.3" text-anchor="start" font-weight="bold" fill="#111" stroke="#111" stroke-width="0.14">acetone</text>
<line x1="434.50" y1="588.30" x2="434.50" y2="579.00" stroke="#6d96bd" stroke-width="1.7" stroke-linecap="round"/>
<line x1="434.50" y1="579.00" x2="438.50" y2="576.80" stroke="#6d96bd" stroke-width="1.7" stroke-linecap="round"/>
<line x1="434.50" y1="588.30" x2="425.00" y2="591.30" stroke="#6d96bd" stroke-width="1.7" stroke-linecap="round"/>
<line x1="434.50" y1="588.30" x2="444.00" y2="592.80" stroke="#6d96bd" stroke-width="1.7" stroke-linecap="round"/>
<line x1="425.00" y1="591.30" x2="418.50" y2="589.30" stroke="#6d96bd" stroke-width="1.7" stroke-linecap="round"/>
<line x1="425.00" y1="591.30" x2="423.00" y2="597.80" stroke="#6d96bd" stroke-width="1.7" stroke-linecap="round"/>
<line x1="425.00" y1="591.30" x2="426.50" y2="586.30" stroke="#6d96bd" stroke-width="1.7" stroke-linecap="round"/>
<line x1="444.00" y1="592.80" x2="450.50" y2="590.30" stroke="#6d96bd" stroke-width="1.7" stroke-linecap="round"/>
<line x1="444.00" y1="592.80" x2="445.50" y2="598.80" stroke="#6d96bd" stroke-width="1.7" stroke-linecap="round"/>
<line x1="444.00" y1="592.80" x2="441.50" y2="586.80" stroke="#6d96bd" stroke-width="1.7" stroke-linecap="round"/>
<line x1="434.50" y1="588.30" x2="432.50" y2="594.80" stroke="#6d96bd" stroke-width="1.7" stroke-linecap="round"/>
<circle cx="438.50" cy="576.80" r="2.38" fill="url(#gH)"/>
<circle cx="418.50" cy="589.30" r="2.38" fill="url(#gH)"/>
<circle cx="423.00" cy="597.80" r="2.38" fill="url(#gH)"/>
<circle cx="426.50" cy="586.30" r="2.38" fill="url(#gH)"/>
<circle cx="450.50" cy="590.30" r="2.38" fill="url(#gH)"/>
<circle cx="445.50" cy="598.80" r="2.38" fill="url(#gH)"/>
<circle cx="441.50" cy="586.80" r="2.38" fill="url(#gH)"/>
<circle cx="432.50" cy="594.80" r="2.38" fill="url(#gH)"/>
<circle cx="434.50" cy="588.30" r="3.15" fill="url(#gC)"/>
<circle cx="434.50" cy="579.00" r="3.06" fill="url(#gO)"/>
<circle cx="425.00" cy="591.30" r="3.15" fill="url(#gC)"/>
<circle cx="444.00" cy="592.80" r="3.15" fill="url(#gC)"/>
<text x="457.20" y="592.40" font-size="10.3" text-anchor="start" font-weight="bold" fill="#111" stroke="#111" stroke-width="0.14">isopropanol</text>
<line x1="533.40" y1="591.80" x2="531.00" y2="581.50" stroke="#6d96bd" stroke-width="1.8" stroke-linecap="round"/>
<line x1="533.40" y1="591.80" x2="524.00" y2="594.80" stroke="#6d96bd" stroke-width="1.8" stroke-linecap="round"/>
<circle cx="531.00" cy="581.50" r="2.52" fill="url(#gH)"/>
<circle cx="524.00" cy="594.80" r="2.52" fill="url(#gH)"/>
<circle cx="533.40" cy="591.80" r="3.33" fill="url(#gC)"/>
<text x="542.70" y="592.40" font-size="10.3" text-anchor="start" font-weight="bold" fill="#111" stroke="#111" stroke-width="0.14">H<tspan font-size="7" dy="2.5">2</tspan><tspan dy="-2.5">O</tspan></text>
<text x="322.50" y="613.60" font-size="12.5" text-anchor="start" font-weight="bold" fill="#111" stroke="#111" stroke-width="0.14">o</text>
<text x="334.50" y="621.30" font-size="10.2" text-anchor="start" font-weight="bold" fill="#111" stroke="#111" stroke-width="0.14">fcc Ni NPs</text>
<path d="M389.00,636.07 L391.20,635.54 L393.41,635.03 L395.66,634.54 L397.93,634.06 L400.23,633.60 L402.55,633.16 L404.91,632.73 L407.29,632.33 L409.69,631.94 L412.13,631.56 L414.59,631.21 L417.08,630.87 L419.59,630.55 L422.13,630.25 L424.70,629.96 L427.30,629.69 L429.92,629.44 L432.58,629.21 L435.25,629.00 L437.96,628.80 L440.69,628.62 L443.45,628.45 L446.24,628.31 L449.05,628.18 L451.89,628.07 L454.76,627.97 L457.66,627.90 L460.58,627.84 L463.53,627.80 L466.51,627.77 L469.51,627.77 L472.55,627.78 L475.60,627.80 L478.69,627.85 L481.80,627.91 L484.95,627.99 L488.11,628.09 L491.31,628.21 L494.53,628.34 L497.78,628.49 L501.06,628.66 L504.36,628.84 L507.69,629.04 L511.05,629.26 L514.44,629.50 L517.85,629.76 L521.29,630.03 L524.76,630.32 L528.26,630.62 L531.78,630.95 L535.33,631.29 L538.91,631.65 L542.51,632.02 L546.14,632.42 L549.80,632.83 L553.49,633.26 L553.06,637.66 L569.00,630.80 L554.72,620.74 L554.29,625.15 L550.56,624.86 L546.85,624.59 L543.18,624.34 L539.53,624.10 L535.91,623.88 L532.32,623.68 L528.76,623.49 L525.22,623.32 L521.71,623.17 L518.24,623.03 L514.79,622.91 L511.36,622.81 L507.97,622.72 L504.60,622.65 L501.26,622.59 L497.95,622.56 L494.67,622.53 L491.42,622.53 L488.19,622.54 L484.99,622.57 L481.82,622.61 L478.68,622.67 L475.56,622.75 L472.48,622.84 L469.42,622.95 L466.39,623.08 L463.39,623.22 L460.42,623.38 L457.47,623.56 L454.55,623.75 L451.66,623.96 L448.80,624.18 L445.97,624.42 L443.17,624.68 L440.39,624.96 L437.64,625.25 L434.92,625.56 L432.23,625.88 L429.56,626.22 L426.93,626.58 L424.32,626.95 L421.74,627.34 L419.19,627.75 L416.67,628.17 L414.17,628.61 L411.71,629.06 L409.27,629.54 L406.86,630.03 L404.48,630.53 L402.12,631.05 L399.80,631.59 L397.50,632.15 L395.23,632.72 L392.99,633.30 L390.78,633.91 L388.60,634.53Z" fill="url(#gECH)"/>
<path d="M477.21,660.29 L478.24,658.92 L479.29,657.61 L480.38,656.34 L481.50,655.10 L482.64,653.91 L483.82,652.76 L485.03,651.65 L486.26,650.57 L487.53,649.54 L488.82,648.55 L490.15,647.59 L491.50,646.68 L492.89,645.80 L494.30,644.96 L495.75,644.16 L497.22,643.40 L498.72,642.68 L500.26,641.99 L501.82,641.34 L503.42,640.73 L505.04,640.16 L506.70,639.62 L508.38,639.12 L510.10,638.66 L511.85,638.24 L513.63,637.85 L515.44,637.49 L517.28,637.18 L519.16,636.90 L521.06,636.66 L523.00,636.45 L524.97,636.28 L526.97,636.15 L529.01,636.06 L531.07,636.00 L533.17,635.97 L535.30,635.99 L537.47,636.04 L539.66,636.12 L541.92,636.25 L542.08,629.75 L539.77,629.76 L537.47,629.81 L535.20,629.90 L532.97,630.03 L530.77,630.19 L528.60,630.39 L526.47,630.64 L524.37,630.92 L522.31,631.23 L520.29,631.59 L518.30,631.99 L516.34,632.42 L514.42,632.89 L512.54,633.40 L510.69,633.95 L508.87,634.54 L507.10,635.16 L505.36,635.83 L503.65,636.53 L501.98,637.27 L500.35,638.04 L498.76,638.86 L497.20,639.71 L495.68,640.60 L494.19,641.52 L492.74,642.49 L491.33,643.49 L489.96,644.52 L488.63,645.59 L487.33,646.70 L486.07,647.85 L484.84,649.03 L483.66,650.24 L482.51,651.49 L481.40,652.78 L480.32,654.10 L479.28,655.45 L478.28,656.84 L477.31,658.26 L476.39,659.71Z" fill="url(#gECH2)"/>
<text x="482.80" y="619.00" font-size="10.2" text-anchor="middle" font-weight="bold" fill="#111" stroke="#111" stroke-width="0.14">ECH</text>
<circle cx="379.10" cy="686.10" r="5.35" fill="url(#gNiG)"/>
<circle cx="389.75" cy="686.10" r="5.35" fill="url(#gNiG)"/>
<circle cx="400.40" cy="686.10" r="5.35" fill="url(#gNiG)"/>
<circle cx="411.05" cy="686.10" r="5.35" fill="url(#gNiG)"/>
<circle cx="421.70" cy="686.10" r="5.35" fill="url(#gNiG)"/>
<circle cx="432.35" cy="686.10" r="5.35" fill="url(#gNiG)"/>
<circle cx="443.00" cy="686.10" r="5.35" fill="url(#gNiG)"/>
<circle cx="453.65" cy="686.10" r="5.35" fill="url(#gNiG)"/>
<circle cx="464.30" cy="686.10" r="5.35" fill="url(#gNiG)"/>
<circle cx="474.95" cy="686.10" r="5.35" fill="url(#gNiG)"/>
<circle cx="485.60" cy="686.10" r="5.35" fill="url(#gNiG)"/>
<circle cx="496.25" cy="686.10" r="5.35" fill="url(#gNiG)"/>
<circle cx="506.90" cy="686.10" r="5.35" fill="url(#gNiG)"/>
<circle cx="517.55" cy="686.10" r="5.35" fill="url(#gNiG)"/>
<circle cx="528.20" cy="686.10" r="5.35" fill="url(#gNiG)"/>
<circle cx="538.85" cy="686.10" r="5.35" fill="url(#gNiG)"/>
<circle cx="549.50" cy="686.10" r="5.35" fill="url(#gNiG)"/>
<circle cx="560.15" cy="686.10" r="5.35" fill="url(#gNiG)"/>
<circle cx="570.80" cy="686.10" r="5.35" fill="url(#gNiG)"/>
<circle cx="581.45" cy="686.10" r="5.35" fill="url(#gNiG)"/>
<circle cx="592.10" cy="686.10" r="5.35" fill="url(#gNiG)"/>
<circle cx="602.75" cy="686.10" r="5.35" fill="url(#gNiG)"/>
<circle cx="613.40" cy="686.10" r="5.35" fill="url(#gNiG)"/>
<circle cx="624.05" cy="686.10" r="5.35" fill="url(#gNiG)"/>
<circle cx="381.70" cy="696.80" r="5.35" fill="url(#gNiG)"/>
<circle cx="392.35" cy="696.80" r="5.35" fill="url(#gNiG)"/>
<circle cx="403.00" cy="696.80" r="5.35" fill="url(#gNiG)"/>
<circle cx="413.65" cy="696.80" r="5.35" fill="url(#gNiG)"/>
<circle cx="424.30" cy="696.80" r="5.35" fill="url(#gNiG)"/>
<circle cx="434.95" cy="696.80" r="5.35" fill="url(#gNiG)"/>
<circle cx="445.60" cy="696.80" r="5.35" fill="url(#gNiG)"/>
<circle cx="456.25" cy="696.80" r="5.35" fill="url(#gNiG)"/>
<circle cx="466.90" cy="696.80" r="5.35" fill="url(#gNiG)"/>
<circle cx="477.55" cy="696.80" r="5.35" fill="url(#gNiG)"/>
<circle cx="488.20" cy="696.80" r="5.35" fill="url(#gNiG)"/>
<circle cx="498.85" cy="696.80" r="5.35" fill="url(#gNiG)"/>
<circle cx="509.50" cy="696.80" r="5.35" fill="url(#gNiG)"/>
<circle cx="520.15" cy="696.80" r="5.35" fill="url(#gNiG)"/>
<circle cx="530.80" cy="696.80" r="5.35" fill="url(#gNiG)"/>
<circle cx="541.45" cy="696.80" r="5.35" fill="url(#gNiG)"/>
<circle cx="552.10" cy="696.80" r="5.35" fill="url(#gNiG)"/>
<circle cx="562.75" cy="696.80" r="5.35" fill="url(#gNiG)"/>
<circle cx="573.40" cy="696.80" r="5.35" fill="url(#gNiG)"/>
<circle cx="584.05" cy="696.80" r="5.35" fill="url(#gNiG)"/>
<circle cx="594.70" cy="696.80" r="5.35" fill="url(#gNiG)"/>
<circle cx="605.35" cy="696.80" r="5.35" fill="url(#gNiG)"/>
<circle cx="616.00" cy="696.80" r="5.35" fill="url(#gNiG)"/>
<circle cx="626.65" cy="696.80" r="5.35" fill="url(#gNiG)"/>
<circle cx="385.20" cy="707.40" r="5.35" fill="url(#gNiG)"/>
<circle cx="395.85" cy="707.40" r="5.35" fill="url(#gNiG)"/>
<circle cx="406.50" cy="707.40" r="5.35" fill="url(#gNiG)"/>
<circle cx="417.15" cy="707.40" r="5.35" fill="url(#gNiG)"/>
<circle cx="427.80" cy="707.40" r="5.35" fill="url(#gNiG)"/>
<circle cx="438.45" cy="707.40" r="5.35" fill="url(#gNiG)"/>
<circle cx="449.10" cy="707.40" r="5.35" fill="url(#gNiG)"/>
<circle cx="459.75" cy="707.40" r="5.35" fill="url(#gNiG)"/>
<circle cx="470.40" cy="707.40" r="5.35" fill="url(#gNiG)"/>
<circle cx="481.05" cy="707.40" r="5.35" fill="url(#gNiG)"/>
<circle cx="491.70" cy="707.40" r="5.35" fill="url(#gNiG)"/>
<circle cx="502.35" cy="707.40" r="5.35" fill="url(#gNiG)"/>
<circle cx="513.00" cy="707.40" r="5.35" fill="url(#gNiG)"/>
<circle cx="523.65" cy="707.40" r="5.35" fill="url(#gNiG)"/>
<circle cx="534.30" cy="707.40" r="5.35" fill="url(#gNiG)"/>
<circle cx="544.95" cy="707.40" r="5.35" fill="url(#gNiG)"/>
<circle cx="555.60" cy="707.40" r="5.35" fill="url(#gNiG)"/>
<circle cx="566.25" cy="707.40" r="5.35" fill="url(#gNiG)"/>
<circle cx="576.90" cy="707.40" r="5.35" fill="url(#gNiG)"/>
<circle cx="587.55" cy="707.40" r="5.35" fill="url(#gNiG)"/>
<circle cx="598.20" cy="707.40" r="5.35" fill="url(#gNiG)"/>
<circle cx="608.85" cy="707.40" r="5.35" fill="url(#gNiG)"/>
<circle cx="619.50" cy="707.40" r="5.35" fill="url(#gNiG)"/>
<circle cx="630.15" cy="707.40" r="5.35" fill="url(#gNiG)"/>
<line x1="641.00" y1="686.50" x2="653.00" y2="686.50" stroke="#111" stroke-width="1.0" stroke-dasharray="1,1"/>
<text x="655.00" y="690.00" font-size="10.2" text-anchor="start" font-weight="bold" fill="#111" stroke="#111" stroke-width="0.14">A</text>
<line x1="641.00" y1="697.50" x2="653.00" y2="697.50" stroke="#111" stroke-width="1.0" stroke-dasharray="1,1"/>
<text x="655.00" y="700.70" font-size="10.2" text-anchor="start" font-weight="bold" fill="#111" stroke="#111" stroke-width="0.14">B</text>
<line x1="641.00" y1="707.50" x2="653.00" y2="707.50" stroke="#111" stroke-width="1.0" stroke-dasharray="1,1"/>
<text x="655.00" y="711.30" font-size="10.2" text-anchor="start" font-weight="bold" fill="#111" stroke="#111" stroke-width="0.14">C</text>
<line x1="368.60" y1="655.70" x2="362.60" y2="645.20" stroke="#6d96bd" stroke-width="2.0" stroke-linecap="round"/>
<line x1="368.60" y1="655.70" x2="384.40" y2="657.30" stroke="#6d96bd" stroke-width="2.0" stroke-linecap="round"/>
<line x1="368.60" y1="655.70" x2="359.90" y2="669.60" stroke="#6d96bd" stroke-width="2.0" stroke-linecap="round"/>
<line x1="384.40" y1="657.30" x2="389.00" y2="647.30" stroke="#6d96bd" stroke-width="2.0" stroke-linecap="round"/>
<line x1="384.40" y1="657.30" x2="388.00" y2="664.40" stroke="#6d96bd" stroke-width="2.0" stroke-linecap="round"/>
<line x1="384.40" y1="657.30" x2="391.00" y2="657.00" stroke="#6d96bd" stroke-width="2.0" stroke-linecap="round"/>
<line x1="359.90" y1="669.60" x2="353.00" y2="670.40" stroke="#6d96bd" stroke-width="2.0" stroke-linecap="round"/>
<line x1="359.90" y1="669.60" x2="367.00" y2="677.50" stroke="#6d96bd" stroke-width="2.0" stroke-linecap="round"/>
<line x1="359.90" y1="669.60" x2="356.00" y2="675.00" stroke="#6d96bd" stroke-width="2.0" stroke-linecap="round"/>
<circle cx="389.00" cy="647.30" r="2.80" fill="url(#gH)"/>
<circle cx="388.00" cy="664.40" r="2.80" fill="url(#gH)"/>
<circle cx="391.00" cy="657.00" r="2.80" fill="url(#gH)"/>
<circle cx="353.00" cy="670.40" r="2.80" fill="url(#gH)"/>
<circle cx="367.00" cy="677.50" r="2.80" fill="url(#gH)"/>
<circle cx="356.00" cy="675.00" r="2.80" fill="url(#gH)"/>
<circle cx="368.60" cy="655.70" r="3.70" fill="url(#gC)"/>
<circle cx="362.60" cy="645.20" r="3.60" fill="url(#gO)"/>
<circle cx="384.40" cy="657.30" r="3.70" fill="url(#gC)"/>
<circle cx="359.90" cy="669.60" r="3.70" fill="url(#gC)"/>
<text x="343.10" y="638.50" font-size="10.2" text-anchor="start" font-weight="bold" fill="#111" stroke="#111" stroke-width="0.14">acetone</text>
<g transform="translate(385.70,674.90) rotate(-25)"><line x1="-4.60" y1="-3.70" x2="4.60" y2="-3.70" stroke="#4f8fd6" stroke-width="1.05"/><line x1="-1.50" y1="0.00" x2="4.60" y2="0.00" stroke="#4f8fd6" stroke-width="1.05"/><line x1="1.60" y1="3.70" x2="4.60" y2="3.70" stroke="#4f8fd6" stroke-width="1.05"/></g>
<line x1="403.50" y1="658.30" x2="409.00" y2="649.40" stroke="#6d96bd" stroke-width="2.0" stroke-linecap="round"/>
<line x1="403.50" y1="658.30" x2="409.00" y2="664.40" stroke="#6d96bd" stroke-width="2.0" stroke-linecap="round"/>
<circle cx="409.00" cy="649.40" r="2.80" fill="url(#gH)"/>
<circle cx="409.00" cy="664.40" r="2.80" fill="url(#gH)"/>
<circle cx="403.50" cy="658.30" r="3.70" fill="url(#gC)"/>
<line x1="424.60" y1="654.70" x2="423.00" y2="645.20" stroke="#6d96bd" stroke-width="2.0" stroke-linecap="round"/>
<line x1="424.60" y1="654.70" x2="414.00" y2="661.00" stroke="#6d96bd" stroke-width="2.0" stroke-linecap="round"/>
<circle cx="423.00" cy="645.20" r="2.80" fill="url(#gH)"/>
<circle cx="414.00" cy="661.00" r="2.80" fill="url(#gH)"/>
<circle cx="424.60" cy="654.70" r="3.70" fill="url(#gC)"/>
<g transform="translate(410.50,675.00) rotate(-3)"><line x1="-4.60" y1="-3.70" x2="4.60" y2="-3.70" stroke="#6e6e6e" stroke-width="1.05"/><line x1="-3.05" y1="0.00" x2="3.05" y2="0.00" stroke="#6e6e6e" stroke-width="1.05"/><line x1="-1.50" y1="3.70" x2="1.50" y2="3.70" stroke="#6e6e6e" stroke-width="1.05"/></g>
<text x="429.00" y="649.30" font-size="10.2" text-anchor="start" font-weight="bold" fill="#111" stroke="#111" stroke-width="0.14">H<tspan font-size="7" dy="2.5">2</tspan><tspan dy="-2.5">O</tspan></text>
<text x="452.70" y="657.50" font-size="10.2" text-anchor="start" font-weight="bold" fill="#111" stroke="#111" stroke-width="0.14">H<tspan font-size="6.5" dy="2.5">ads</tspan></text>
<path d="M419.89,673.78 L420.57,674.11 L421.25,674.43 L421.94,674.73 L422.62,675.03 L423.30,675.31 L423.98,675.58 L424.66,675.84 L425.35,676.09 L426.03,676.32 L426.71,676.54 L427.39,676.76 L428.07,676.95 L428.75,677.14 L429.43,677.32 L430.11,677.48 L430.80,677.63 L431.48,677.77 L432.16,677.89 L432.84,678.01 L433.52,678.11 L434.20,678.20 L434.88,678.27 L435.56,678.34 L436.24,678.39 L436.93,678.43 L437.61,678.46 L438.29,678.47 L438.97,678.47 L439.65,678.46 L440.33,678.44 L441.01,678.40 L441.69,678.35 L442.37,678.29 L443.05,678.21 L443.73,678.12 L444.41,678.02 L445.08,677.91 L445.76,677.78 L446.44,677.64 L447.11,677.49 L447.79,677.32 L448.46,677.14 L449.14,676.95 L449.81,676.75 L450.48,676.53 L451.16,676.30 L451.83,676.06 L452.50,675.80 L453.16,675.53 L453.83,675.25 L454.86,677.25 L458.50,669.10 L450.28,668.36 L451.31,670.36 L450.77,670.69 L450.22,671.01 L449.68,671.31 L449.13,671.61 L448.58,671.89 L448.02,672.17 L447.47,672.43 L446.91,672.68 L446.34,672.92 L445.78,673.16 L445.20,673.38 L444.63,673.58 L444.05,673.78 L443.47,673.97 L442.89,674.15 L442.30,674.31 L441.71,674.47 L441.12,674.61 L440.52,674.74 L439.92,674.86 L439.32,674.97 L438.71,675.07 L438.10,675.16 L437.48,675.24 L436.86,675.31 L436.24,675.36 L435.61,675.41 L434.98,675.44 L434.34,675.46 L433.70,675.47 L433.06,675.47 L432.41,675.45 L431.76,675.43 L431.11,675.39 L430.45,675.35 L429.79,675.29 L429.12,675.22 L428.45,675.13 L427.78,675.04 L427.10,674.93 L426.42,674.82 L425.73,674.69 L425.04,674.55 L424.35,674.39 L423.65,674.23 L422.95,674.05 L422.25,673.86 L421.54,673.66 L420.83,673.45 L420.11,673.22Z" fill="url(#gGray)"/>
<circle cx="461.40" cy="665.40" r="2.90" fill="url(#gH)"/>
<circle cx="471.90" cy="668.00" r="2.90" fill="url(#gH)"/>
<circle cx="481.60" cy="668.80" r="2.90" fill="url(#gH)"/>
<circle cx="465.80" cy="675.90" r="2.90" fill="url(#gH)"/>
<circle cx="475.00" cy="675.90" r="2.90" fill="url(#gH)"/>
<path d="M487.35,672.26 L487.95,672.65 L488.54,673.03 L489.14,673.40 L489.74,673.74 L490.34,674.08 L490.94,674.40 L491.54,674.70 L492.14,674.99 L492.75,675.26 L493.36,675.52 L493.96,675.76 L494.57,675.99 L495.19,676.20 L495.80,676.40 L496.41,676.58 L497.03,676.74 L497.65,676.89 L498.27,677.03 L498.89,677.14 L499.51,677.24 L500.14,677.33 L500.77,677.40 L501.39,677.45 L502.02,677.49 L502.65,677.51 L503.28,677.51 L503.92,677.50 L504.55,677.47 L505.19,677.42 L505.82,677.36 L506.46,677.28 L507.10,677.19 L507.73,677.07 L508.37,676.94 L509.01,676.80 L509.65,676.63 L510.29,676.45 L510.93,676.26 L511.57,676.05 L512.21,675.82 L512.85,675.57 L513.49,675.31 L514.12,675.03 L514.76,674.73 L515.40,674.42 L516.04,674.09 L516.67,673.75 L517.31,673.39 L517.95,673.01 L519.56,675.30 L522.50,665.50 L513.20,666.32 L514.82,668.60 L514.33,669.01 L513.84,669.40 L513.34,669.78 L512.85,670.14 L512.35,670.49 L511.85,670.82 L511.35,671.14 L510.85,671.45 L510.35,671.74 L509.84,672.02 L509.33,672.28 L508.82,672.53 L508.31,672.77 L507.79,672.99 L507.28,673.20 L506.76,673.39 L506.23,673.57 L505.71,673.74 L505.18,673.89 L504.65,674.03 L504.11,674.15 L503.57,674.26 L503.03,674.36 L502.49,674.44 L501.94,674.51 L501.39,674.57 L500.83,674.61 L500.27,674.63 L499.71,674.64 L499.14,674.64 L498.57,674.62 L498.00,674.59 L497.42,674.55 L496.84,674.48 L496.25,674.41 L495.66,674.32 L495.07,674.21 L494.47,674.09 L493.87,673.95 L493.26,673.80 L492.65,673.63 L492.04,673.45 L491.42,673.25 L490.80,673.04 L490.18,672.81 L489.55,672.57 L488.92,672.31 L488.29,672.03 L487.65,671.74Z" fill="url(#gGray)"/>
<text x="489.40" y="667.80" font-size="10.2" text-anchor="start" font-weight="bold" fill="#111" stroke="#111" stroke-width="0.14">HER</text>
<path d="M517.00,654.60 q-1.2,2.5 0.3,4.5 M519.50,654.60 q1.0,2.0 -0.2,4.0" fill="none" stroke="#e6e6e6" stroke-width="0.6"/>
<circle cx="518.50" cy="648.40" r="6.20" fill="url(#gBub)"/>
<circle cx="518.50" cy="648.40" r="6.20" fill="none" stroke="#c4c4c4" stroke-width="0.6"/>
<text x="518.30" y="650.70" font-size="6.4" text-anchor="middle" font-weight="bold" fill="#dd2222" stroke="#dd2222" stroke-width="0.14">H<tspan font-size="4.2" dy="1.3">2</tspan></text>
<path d="M539.70,654.50 q-1.2,2.5 0.3,4.5 M542.20,654.50 q1.0,2.0 -0.2,4.0" fill="none" stroke="#e6e6e6" stroke-width="0.6"/>
<circle cx="541.20" cy="647.00" r="7.50" fill="url(#gBub)"/>
<circle cx="541.20" cy="647.00" r="7.50" fill="none" stroke="#c4c4c4" stroke-width="0.6"/>
<text x="541.00" y="649.30" font-size="6.4" text-anchor="middle" font-weight="bold" fill="#dd2222" stroke="#dd2222" stroke-width="0.14">H<tspan font-size="4.2" dy="1.3">2</tspan></text>
<path d="M525.50,667.20 q-1.2,2.5 0.3,4.5 M528.00,667.20 q1.0,2.0 -0.2,4.0" fill="none" stroke="#e6e6e6" stroke-width="0.6"/>
<circle cx="527.00" cy="661.20" r="6.00" fill="url(#gBub)"/>
<circle cx="527.00" cy="661.20" r="6.00" fill="none" stroke="#c4c4c4" stroke-width="0.6"/>
<text x="526.80" y="663.50" font-size="6.4" text-anchor="middle" font-weight="bold" fill="#dd2222" stroke="#dd2222" stroke-width="0.14">H<tspan font-size="4.2" dy="1.3">2</tspan></text>
<path d="M538.30,675.20 q-1.2,2.5 0.3,4.5 M540.80,675.20 q1.0,2.0 -0.2,4.0" fill="none" stroke="#e6e6e6" stroke-width="0.6"/>
<circle cx="539.80" cy="669.20" r="6.00" fill="url(#gBub)"/>
<circle cx="539.80" cy="669.20" r="6.00" fill="none" stroke="#c4c4c4" stroke-width="0.6"/>
<text x="539.60" y="671.50" font-size="6.4" text-anchor="middle" font-weight="bold" fill="#dd2222" stroke="#dd2222" stroke-width="0.14">H<tspan font-size="4.2" dy="1.3">2</tspan></text>
<path d="M552.50,672.40 q-1.2,2.5 0.3,4.5 M555.00,672.40 q1.0,2.0 -0.2,4.0" fill="none" stroke="#e6e6e6" stroke-width="0.6"/>
<circle cx="554.00" cy="666.90" r="5.50" fill="url(#gBub)"/>
<circle cx="554.00" cy="666.90" r="5.50" fill="none" stroke="#c4c4c4" stroke-width="0.6"/>
<text x="553.80" y="669.20" font-size="6.4" text-anchor="middle" font-weight="bold" fill="#dd2222" stroke="#dd2222" stroke-width="0.14">H<tspan font-size="4.2" dy="1.3">2</tspan></text>
<line x1="573.70" y1="644.00" x2="567.50" y2="631.20" stroke="#6d96bd" stroke-width="2.0" stroke-linecap="round"/>
<line x1="567.50" y1="631.20" x2="575.20" y2="624.10" stroke="#6d96bd" stroke-width="2.0" stroke-linecap="round"/>
<line x1="573.70" y1="644.00" x2="588.50" y2="641.20" stroke="#6d96bd" stroke-width="2.0" stroke-linecap="round"/>
<line x1="573.70" y1="644.00" x2="562.40" y2="653.40" stroke="#6d96bd" stroke-width="2.0" stroke-linecap="round"/>
<line x1="562.40" y1="653.40" x2="552.40" y2="654.50" stroke="#6d96bd" stroke-width="2.0" stroke-linecap="round"/>
<line x1="562.40" y1="653.40" x2="560.10" y2="646.90" stroke="#6d96bd" stroke-width="2.0" stroke-linecap="round"/>
<line x1="562.40" y1="653.40" x2="568.00" y2="663.90" stroke="#6d96bd" stroke-width="2.0" stroke-linecap="round"/>
<line x1="588.50" y1="641.20" x2="595.10" y2="635.50" stroke="#6d96bd" stroke-width="2.0" stroke-linecap="round"/>
<line x1="588.50" y1="641.20" x2="592.20" y2="654.50" stroke="#6d96bd" stroke-width="2.0" stroke-linecap="round"/>
<line x1="588.50" y1="641.20" x2="595.50" y2="644.50" stroke="#6d96bd" stroke-width="2.0" stroke-linecap="round"/>
<line x1="573.70" y1="644.00" x2="576.00" y2="649.70" stroke="#6d96bd" stroke-width="2.0" stroke-linecap="round"/>
<circle cx="575.20" cy="624.10" r="2.80" fill="url(#gH)"/>
<circle cx="552.40" cy="654.50" r="2.80" fill="url(#gH)"/>
<circle cx="560.10" cy="646.90" r="2.80" fill="url(#gH)"/>
<circle cx="568.00" cy="663.90" r="2.80" fill="url(#gH)"/>
<circle cx="595.10" cy="635.50" r="2.80" fill="url(#gH)"/>
<circle cx="592.20" cy="654.50" r="2.80" fill="url(#gH)"/>
<circle cx="595.50" cy="644.50" r="2.80" fill="url(#gH)"/>
<circle cx="576.00" cy="649.70" r="2.80" fill="url(#gH)"/>
<circle cx="573.70" cy="644.00" r="3.70" fill="url(#gC)"/>
<circle cx="567.50" cy="631.20" r="3.60" fill="url(#gO)"/>
<circle cx="588.50" cy="641.20" r="3.70" fill="url(#gC)"/>
<circle cx="562.40" cy="653.40" r="3.70" fill="url(#gC)"/>
<g transform="translate(566.60,673.50) rotate(-3)"><line x1="-4.60" y1="-3.70" x2="4.60" y2="-3.70" stroke="#f06b6b" stroke-width="1.05"/><line x1="-3.05" y1="0.00" x2="3.05" y2="0.00" stroke="#f06b6b" stroke-width="1.05"/><line x1="-1.50" y1="3.70" x2="1.50" y2="3.70" stroke="#f06b6b" stroke-width="1.05"/></g>
<text x="592.50" y="626.40" font-size="10.2" text-anchor="start" font-weight="bold" fill="#111" stroke="#111" stroke-width="0.14">isopropanol</text>
<path d="M581.84,679.60 L583.07,679.60 L584.29,679.59 L585.51,679.57 L586.72,679.55 L587.93,679.51 L589.13,679.46 L590.32,679.40 L591.50,679.34 L592.68,679.26 L593.85,679.18 L595.02,679.08 L596.17,678.97 L597.32,678.86 L598.47,678.73 L599.60,678.60 L600.73,678.45 L601.86,678.30 L602.98,678.13 L604.09,677.96 L605.19,677.77 L606.29,677.57 L607.38,677.37 L608.46,677.15 L609.54,676.93 L610.61,676.69 L611.67,676.44 L612.72,676.19 L613.77,675.92 L614.82,675.64 L615.85,675.36 L616.88,675.06 L617.91,674.75 L618.92,674.43 L619.93,674.10 L620.94,673.76 L621.93,673.41 L622.92,673.05 L623.90,672.68 L624.88,672.29 L625.85,671.90 L626.81,671.49 L627.77,671.08 L628.72,670.65 L629.66,670.22 L630.59,669.77 L631.52,669.31 L632.44,668.84 L633.35,668.36 L636.18,672.71 L639.60,657.10 L624.89,655.36 L627.72,659.70 L627.01,660.26 L626.29,660.82 L625.56,661.37 L624.82,661.91 L624.07,662.45 L623.31,662.97 L622.53,663.50 L621.75,664.01 L620.96,664.52 L620.15,665.02 L619.34,665.52 L618.52,666.01 L617.68,666.49 L616.83,666.96 L615.98,667.43 L615.11,667.89 L614.23,668.35 L613.35,668.79 L612.45,669.23 L611.54,669.67 L610.62,670.09 L609.69,670.51 L608.74,670.92 L607.79,671.33 L606.83,671.73 L605.86,672.12 L604.87,672.50 L603.88,672.87 L602.87,673.24 L601.86,673.60 L600.83,673.96 L599.79,674.30 L598.75,674.64 L597.69,674.97 L596.62,675.29 L595.54,675.61 L594.45,675.92 L593.35,676.22 L592.24,676.51 L591.12,676.80 L589.98,677.07 L588.84,677.34 L587.69,677.61 L586.52,677.86 L585.35,678.11 L584.17,678.35 L582.97,678.58 L581.76,678.80Z" fill="url(#gSlow)"/>
<text x="591.00" y="667.90" font-size="10.2" text-anchor="start" font-weight="bold" fill="#111" stroke="#111" stroke-width="0.14">slow</text>
<line x1="656.50" y1="651.20" x2="652.30" y2="664.50" stroke="#6d96bd" stroke-width="2.0" stroke-linecap="round"/>
<line x1="652.30" y1="664.50" x2="645.10" y2="665.40" stroke="#6d96bd" stroke-width="2.0" stroke-linecap="round"/>
<line x1="656.50" y1="651.20" x2="643.70" y2="642.60" stroke="#6d96bd" stroke-width="2.0" stroke-linecap="round"/>
<line x1="656.50" y1="651.20" x2="670.80" y2="650.30" stroke="#6d96bd" stroke-width="2.0" stroke-linecap="round"/>
<line x1="643.70" y1="642.60" x2="646.00" y2="630.40" stroke="#6d96bd" stroke-width="2.0" stroke-linecap="round"/>
<line x1="643.70" y1="642.60" x2="635.20" y2="642.60" stroke="#6d96bd" stroke-width="2.0" stroke-linecap="round"/>
<line x1="643.70" y1="642.60" x2="655.10" y2="645.50" stroke="#6d96bd" stroke-width="2.0" stroke-linecap="round"/>
<line x1="670.80" y1="650.30" x2="673.60" y2="636.90" stroke="#6d96bd" stroke-width="2.0" stroke-linecap="round"/>
<line x1="670.80" y1="650.30" x2="679.30" y2="654.50" stroke="#6d96bd" stroke-width="2.0" stroke-linecap="round"/>
<line x1="670.80" y1="650.30" x2="662.20" y2="656.90" stroke="#6d96bd" stroke-width="2.0" stroke-linecap="round"/>
<line x1="656.50" y1="651.20" x2="660.00" y2="643.50" stroke="#6d96bd" stroke-width="2.0" stroke-linecap="round"/>
<circle cx="645.10" cy="665.40" r="2.80" fill="url(#gH)"/>
<circle cx="646.00" cy="630.40" r="2.80" fill="url(#gH)"/>
<circle cx="635.20" cy="642.60" r="2.80" fill="url(#gH)"/>
<circle cx="655.10" cy="645.50" r="2.80" fill="url(#gH)"/>
<circle cx="673.60" cy="636.90" r="2.80" fill="url(#gH)"/>
<circle cx="679.30" cy="654.50" r="2.80" fill="url(#gH)"/>
<circle cx="662.20" cy="656.90" r="2.80" fill="url(#gH)"/>
<circle cx="660.00" cy="643.50" r="2.80" fill="url(#gH)"/>
<circle cx="656.50" cy="651.20" r="3.70" fill="url(#gC)"/>
<circle cx="652.30" cy="664.50" r="3.60" fill="url(#gO)"/>
<circle cx="643.70" cy="642.60" r="3.70" fill="url(#gC)"/>
<circle cx="670.80" cy="650.30" r="3.70" fill="url(#gC)"/>
<text x="333.70" y="726.70" font-size="10.3" text-anchor="start" font-weight="bold" fill="#111" stroke="#111" stroke-width="0.14">KOH electrolyte</text>
<circle cx="423.30" cy="723.20" r="5.80" fill="url(#gNiG)"/>
<text x="432.50" y="726.70" font-size="10.3" text-anchor="start" font-weight="bold" fill="#111" stroke="#111" stroke-width="0.14">Ni</text>
<circle cx="452.70" cy="723.20" r="5.80" fill="url(#gC)"/>
<text x="461.90" y="726.70" font-size="10.3" text-anchor="start" font-weight="bold" fill="#111" stroke="#111" stroke-width="0.14">C</text>
<circle cx="478.20" cy="723.20" r="5.80" fill="url(#gH)"/>
<text x="486.80" y="726.70" font-size="10.3" text-anchor="start" font-weight="bold" fill="#111" stroke="#111" stroke-width="0.14">H</text>
<circle cx="504.00" cy="723.20" r="5.60" fill="url(#gO)"/>
<text x="513.50" y="726.70" font-size="10.3" text-anchor="start" font-weight="bold" fill="#111" stroke="#111" stroke-width="0.14">O</text>
<g transform="translate(533.00,724.00) rotate(0)"><line x1="-3.91" y1="-3.15" x2="3.91" y2="-3.15" stroke="#f06b6b" stroke-width="1.05"/><line x1="-2.59" y1="0.00" x2="2.59" y2="0.00" stroke="#f06b6b" stroke-width="1.05"/><line x1="-1.27" y1="3.15" x2="1.27" y2="3.15" stroke="#f06b6b" stroke-width="1.05"/></g>
<text x="541.00" y="726.70" font-size="10.3" text-anchor="start" font-weight="bold" fill="#111" stroke="#111" stroke-width="0.14">Strong</text>
<g transform="translate(584.50,724.00) rotate(0)"><line x1="-3.91" y1="-3.15" x2="3.91" y2="-3.15" stroke="#6e6e6e" stroke-width="1.05"/><line x1="-2.59" y1="0.00" x2="2.59" y2="0.00" stroke="#6e6e6e" stroke-width="1.05"/><line x1="-1.27" y1="3.15" x2="1.27" y2="3.15" stroke="#6e6e6e" stroke-width="1.05"/></g>
<text x="591.80" y="726.70" font-size="10.3" text-anchor="start" font-weight="bold" fill="#111" stroke="#111" stroke-width="0.14">Medium</text>
<g transform="translate(640.40,724.00) rotate(0)"><line x1="-3.91" y1="-3.15" x2="3.91" y2="-3.15" stroke="#4f8fd6" stroke-width="1.05"/><line x1="-2.59" y1="0.00" x2="2.59" y2="0.00" stroke="#4f8fd6" stroke-width="1.05"/><line x1="-1.27" y1="3.15" x2="1.27" y2="3.15" stroke="#4f8fd6" stroke-width="1.05"/></g>
<text x="648.00" y="726.70" font-size="10.3" text-anchor="start" font-weight="bold" fill="#111" stroke="#111" stroke-width="0.14">Weak</text>
<line x1="355.00" y1="744.20" x2="355.00" y2="734.70" stroke="#6d96bd" stroke-width="1.7" stroke-linecap="round"/>
<line x1="355.00" y1="744.20" x2="345.00" y2="749.20" stroke="#6d96bd" stroke-width="1.7" stroke-linecap="round"/>
<line x1="355.00" y1="744.20" x2="365.00" y2="750.20" stroke="#6d96bd" stroke-width="1.7" stroke-linecap="round"/>
<line x1="345.00" y1="749.20" x2="339.50" y2="746.20" stroke="#6d96bd" stroke-width="1.7" stroke-linecap="round"/>
<line x1="345.00" y1="749.20" x2="342.50" y2="754.70" stroke="#6d96bd" stroke-width="1.7" stroke-linecap="round"/>
<line x1="345.00" y1="749.20" x2="348.00" y2="753.70" stroke="#6d96bd" stroke-width="1.7" stroke-linecap="round"/>
<line x1="365.00" y1="750.20" x2="371.00" y2="746.20" stroke="#6d96bd" stroke-width="1.7" stroke-linecap="round"/>
<line x1="365.00" y1="750.20" x2="366.00" y2="755.20" stroke="#6d96bd" stroke-width="1.7" stroke-linecap="round"/>
<circle cx="339.50" cy="746.20" r="2.38" fill="url(#gH)"/>
<circle cx="342.50" cy="754.70" r="2.38" fill="url(#gH)"/>
<circle cx="348.00" cy="753.70" r="2.38" fill="url(#gH)"/>
<circle cx="371.00" cy="746.20" r="2.38" fill="url(#gH)"/>
<circle cx="366.00" cy="755.20" r="2.38" fill="url(#gH)"/>
<circle cx="355.00" cy="744.20" r="3.15" fill="url(#gC)"/>
<circle cx="355.00" cy="734.70" r="3.06" fill="url(#gO)"/>
<circle cx="345.00" cy="749.20" r="3.15" fill="url(#gC)"/>
<circle cx="365.00" cy="750.20" r="3.15" fill="url(#gC)"/>
<text x="376.00" y="749.20" font-size="10.3" text-anchor="start" font-weight="bold" fill="#111" stroke="#111" stroke-width="0.14">acetone</text>
<line x1="436.70" y1="745.10" x2="436.70" y2="735.80" stroke="#6d96bd" stroke-width="1.7" stroke-linecap="round"/>
<line x1="436.70" y1="735.80" x2="440.70" y2="733.60" stroke="#6d96bd" stroke-width="1.7" stroke-linecap="round"/>
<line x1="436.70" y1="745.10" x2="427.20" y2="748.10" stroke="#6d96bd" stroke-width="1.7" stroke-linecap="round"/>
<line x1="436.70" y1="745.10" x2="446.20" y2="749.60" stroke="#6d96bd" stroke-width="1.7" stroke-linecap="round"/>
<line x1="427.20" y1="748.10" x2="420.70" y2="746.10" stroke="#6d96bd" stroke-width="1.7" stroke-linecap="round"/>
<line x1="427.20" y1="748.10" x2="425.20" y2="754.60" stroke="#6d96bd" stroke-width="1.7" stroke-linecap="round"/>
<line x1="427.20" y1="748.10" x2="428.70" y2="743.10" stroke="#6d96bd" stroke-width="1.7" stroke-linecap="round"/>
<line x1="446.20" y1="749.60" x2="452.70" y2="747.10" stroke="#6d96bd" stroke-width="1.7" stroke-linecap="round"/>
<line x1="446.20" y1="749.60" x2="447.70" y2="755.60" stroke="#6d96bd" stroke-width="1.7" stroke-linecap="round"/>
<line x1="446.20" y1="749.60" x2="443.70" y2="743.60" stroke="#6d96bd" stroke-width="1.7" stroke-linecap="round"/>
<line x1="436.70" y1="745.10" x2="434.70" y2="751.60" stroke="#6d96bd" stroke-width="1.7" stroke-linecap="round"/>
<circle cx="440.70" cy="733.60" r="2.38" fill="url(#gH)"/>
<circle cx="420.70" cy="746.10" r="2.38" fill="url(#gH)"/>
<circle cx="425.20" cy="754.60" r="2.38" fill="url(#gH)"/>
<circle cx="428.70" cy="743.10" r="2.38" fill="url(#gH)"/>
<circle cx="452.70" cy="747.10" r="2.38" fill="url(#gH)"/>
<circle cx="447.70" cy="755.60" r="2.38" fill="url(#gH)"/>
<circle cx="443.70" cy="743.60" r="2.38" fill="url(#gH)"/>
<circle cx="434.70" cy="751.60" r="2.38" fill="url(#gH)"/>
<circle cx="436.70" cy="745.10" r="3.15" fill="url(#gC)"/>
<circle cx="436.70" cy="735.80" r="3.06" fill="url(#gO)"/>
<circle cx="427.20" cy="748.10" r="3.15" fill="url(#gC)"/>
<circle cx="446.20" cy="749.60" r="3.15" fill="url(#gC)"/>
<text x="459.40" y="749.20" font-size="10.3" text-anchor="start" font-weight="bold" fill="#111" stroke="#111" stroke-width="0.14">isopropanol</text>
<line x1="534.90" y1="748.60" x2="532.50" y2="738.30" stroke="#6d96bd" stroke-width="1.8" stroke-linecap="round"/>
<line x1="534.90" y1="748.60" x2="525.50" y2="751.60" stroke="#6d96bd" stroke-width="1.8" stroke-linecap="round"/>
<circle cx="532.50" cy="738.30" r="2.52" fill="url(#gH)"/>
<circle cx="525.50" cy="751.60" r="2.52" fill="url(#gH)"/>
<circle cx="534.90" cy="748.60" r="3.33" fill="url(#gC)"/>
<text x="544.20" y="749.20" font-size="10.3" text-anchor="start" font-weight="bold" fill="#111" stroke="#111" stroke-width="0.14">H<tspan font-size="7" dy="2.5">2</tspan><tspan dy="-2.5">O</tspan></text>
</svg></body></html>
